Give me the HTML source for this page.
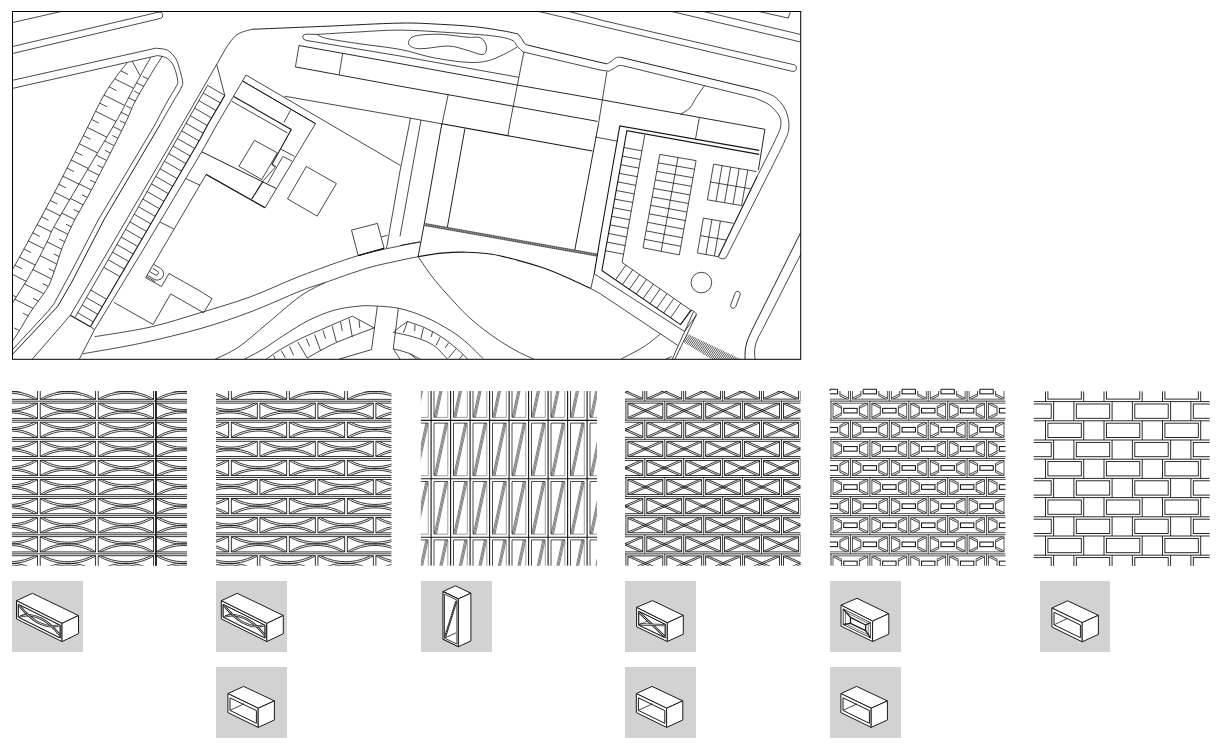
<!DOCTYPE html>
<html><head><meta charset="utf-8"><title>plan</title>
<style>html,body{margin:0;padding:0;background:#fff;}body{width:1216px;height:747px;overflow:hidden;font-family:"Liberation Sans",sans-serif;}svg{display:block;position:absolute;left:0;top:0}</style>
</head><body>
<svg width="1216" height="747" viewBox="0 0 1216 747" fill="none" stroke-linecap="butt" stroke-linejoin="miter">
<defs><clipPath id="fr"><rect x="12.5" y="11.5" width="788.2" height="347.8"/></clipPath>
<pattern id="hz" width="1.6" height="1.6" patternUnits="userSpaceOnUse" patternTransform="rotate(-60)"><rect width="1.6" height="0.8" fill="#222"/></pattern>
<pattern id="hz2" width="1.7" height="1.7" patternUnits="userSpaceOnUse" patternTransform="rotate(-55)"><rect width="1.7" height="0.7" fill="#333"/></pattern>
</defs>
<g clip-path="url(#fr)">
<line x1="12.5" y1="22.6" x2="61.0" y2="11.5" stroke-width="0.78" stroke="#151515"/>
<path d="M12.5,46.5 L159,12 A3.3,3.3 0 0 1 160.5,18.4 L12.5,53.5" stroke-width="0.78" stroke="#151515" />
<polyline points="12.5,80.3 155.6,48.2" stroke-width="0.78" stroke="#151515"/>
<path d="M155.6,48.2 C157.6,48.5 164.1,48.5 167.4,50.2 C170.8,51.9 173.6,55.2 175.7,58.6 C177.8,62.0 178.8,66.7 179.9,70.3 C181.0,73.9 182.1,77.5 182.4,80.3 C182.7,83.1 183.3,83.2 181.6,87.0 C179.9,90.8 176.0,96.7 172.4,103.0 C168.8,109.3 161.9,121.3 159.8,125.0" stroke-width="0.78" stroke="#151515"/>
<polyline points="159.8,125.0 103.8,220.0 71.9,281.9 57.8,306.3 12.5,354.3" stroke-width="0.95" stroke="#151515"/>
<polyline points="12.5,88.4 157.3,55.6" stroke-width="0.78" stroke="#151515"/>
<path d="M157.3,55.6 C158.7,55.9 163.2,56.2 165.7,57.5 C168.2,58.8 170.7,61.1 172.4,63.6 C174.1,66.2 175.1,70.0 176.0,72.8 C176.9,75.6 177.5,78.2 177.6,80.3 C177.7,82.4 178.6,81.8 176.8,85.4 C175.0,89.0 170.7,95.4 167.0,102.0 C163.3,108.6 156.8,121.2 154.8,125.0" stroke-width="0.78" stroke="#151515"/>
<polyline points="154.8,125.0 98.2,220.0 73.8,266.9 54.1,303.5 47.5,311.9 12.5,349.6" stroke-width="0.78" stroke="#151515"/>
<path d="M127.2,62.8 C125.5,64.9 121.1,69.9 117.2,75.3 C113.3,80.7 108.5,87.1 103.8,95.4 C99.0,103.7 96.5,109.6 88.7,125.0 C80.9,140.4 67.8,167.0 56.9,187.8 C46.0,208.6 30.8,236.4 23.4,250.0 C16.0,263.6 14.3,266.1 12.5,269.3" stroke-width="0.78" stroke="#151515"/>
<path d="M150.6,57.7 C148.9,60.6 144.5,68.2 140.6,75.3 C136.7,82.4 131.6,92.1 127.2,100.4 C122.8,108.7 125.6,105.1 114.0,125.0 C102.4,144.9 68.7,201.0 57.8,220.0 C46.9,239.0 52.1,231.6 48.5,238.8 C44.9,246.0 39.9,256.3 36.3,263.2 C32.7,270.1 30.0,274.7 26.9,280.0 C23.8,285.3 19.9,291.2 17.5,295.0 C15.1,298.8 13.3,301.7 12.5,303.0" stroke-width="0.78" stroke="#151515"/>
<path d="M162.3,56.1 C159.8,60.1 152.0,72.3 147.3,80.3 C142.6,88.2 137.7,96.3 133.9,103.8 C130.1,111.2 131.3,111.1 124.5,125.0 C117.7,138.9 101.3,171.2 93.0,187.0 C84.7,202.8 79.4,211.0 74.7,220.0 C70.0,229.0 67.3,235.7 65.0,241.0 C62.7,246.3 62.7,246.4 60.7,252.0 C58.7,257.6 55.6,268.2 53.2,274.4 C50.9,280.6 50.4,283.1 46.6,289.4 C42.8,295.6 35.1,305.0 30.6,311.9 C26.1,318.8 22.4,325.8 19.4,330.7 C16.4,335.6 13.7,339.3 12.5,341.0" stroke-width="0.78" stroke="#151515"/>
<line x1="132.2" y1="61.1" x2="139.8" y2="75.3" stroke-width="0.78" stroke="#151515"/>
<line x1="120.8" y1="70.8" x2="128.0" y2="74.4" stroke-width="0.78" stroke="#151515"/>
<line x1="114.8" y1="78.9" x2="133.7" y2="88.3" stroke-width="0.78" stroke="#151515"/>
<line x1="109.4" y1="87.0" x2="116.6" y2="90.6" stroke-width="0.78" stroke="#151515"/>
<line x1="104.0" y1="95.1" x2="124.6" y2="105.4" stroke-width="0.78" stroke="#151515"/>
<line x1="99.8" y1="103.2" x2="107.0" y2="106.8" stroke-width="0.78" stroke="#151515"/>
<line x1="95.7" y1="111.3" x2="116.0" y2="121.4" stroke-width="0.78" stroke="#151515"/>
<line x1="91.6" y1="119.4" x2="98.7" y2="123.0" stroke-width="0.78" stroke="#151515"/>
<line x1="87.4" y1="127.5" x2="106.8" y2="137.2" stroke-width="0.78" stroke="#151515"/>
<line x1="83.3" y1="135.6" x2="90.5" y2="139.2" stroke-width="0.78" stroke="#151515"/>
<line x1="79.2" y1="143.7" x2="97.6" y2="152.9" stroke-width="0.78" stroke="#151515"/>
<line x1="75.1" y1="151.8" x2="82.3" y2="155.4" stroke-width="0.78" stroke="#151515"/>
<line x1="71.0" y1="159.9" x2="88.3" y2="168.5" stroke-width="0.78" stroke="#151515"/>
<line x1="66.9" y1="168.0" x2="74.1" y2="171.6" stroke-width="0.78" stroke="#151515"/>
<line x1="62.8" y1="176.1" x2="79.0" y2="184.2" stroke-width="0.78" stroke="#151515"/>
<line x1="58.7" y1="184.2" x2="65.9" y2="187.8" stroke-width="0.78" stroke="#151515"/>
<line x1="54.5" y1="192.3" x2="69.8" y2="199.9" stroke-width="0.78" stroke="#151515"/>
<line x1="50.1" y1="200.4" x2="57.3" y2="204.0" stroke-width="0.78" stroke="#151515"/>
<line x1="45.8" y1="208.5" x2="60.3" y2="215.8" stroke-width="0.78" stroke="#151515"/>
<line x1="41.4" y1="216.6" x2="48.5" y2="220.2" stroke-width="0.78" stroke="#151515"/>
<line x1="37.0" y1="224.7" x2="51.9" y2="232.1" stroke-width="0.78" stroke="#151515"/>
<line x1="32.7" y1="232.8" x2="39.8" y2="236.4" stroke-width="0.78" stroke="#151515"/>
<line x1="28.3" y1="240.9" x2="43.7" y2="248.6" stroke-width="0.78" stroke="#151515"/>
<line x1="23.9" y1="249.0" x2="31.1" y2="252.6" stroke-width="0.78" stroke="#151515"/>
<line x1="19.4" y1="257.1" x2="35.3" y2="265.1" stroke-width="0.78" stroke="#151515"/>
<line x1="14.8" y1="265.2" x2="22.0" y2="268.8" stroke-width="0.78" stroke="#151515"/>
<line x1="10.3" y1="273.3" x2="26.2" y2="281.3" stroke-width="0.78" stroke="#151515"/>
<line x1="5.7" y1="281.4" x2="12.9" y2="285.0" stroke-width="0.78" stroke="#151515"/>
<line x1="1.2" y1="289.5" x2="16.3" y2="297.1" stroke-width="0.78" stroke="#151515"/>
<line x1="-3.3" y1="297.6" x2="3.8" y2="301.2" stroke-width="0.78" stroke="#151515"/>
<line x1="-12.4" y1="313.8" x2="-5.3" y2="317.4" stroke-width="0.78" stroke="#151515"/>
<line x1="-21.5" y1="330.0" x2="-14.3" y2="333.6" stroke-width="0.78" stroke="#151515"/>
<line x1="148.1" y1="79.0" x2="142.7" y2="76.3" stroke-width="0.78" stroke="#151515"/>
<line x1="143.8" y1="86.4" x2="136.6" y2="82.8" stroke-width="0.78" stroke="#151515"/>
<line x1="139.6" y1="93.8" x2="134.2" y2="91.1" stroke-width="0.78" stroke="#151515"/>
<line x1="135.4" y1="101.2" x2="128.5" y2="97.8" stroke-width="0.78" stroke="#151515"/>
<line x1="131.8" y1="108.6" x2="126.4" y2="105.9" stroke-width="0.78" stroke="#151515"/>
<line x1="128.5" y1="116.0" x2="120.8" y2="112.2" stroke-width="0.78" stroke="#151515"/>
<line x1="125.2" y1="123.4" x2="119.8" y2="120.7" stroke-width="0.78" stroke="#151515"/>
<line x1="121.6" y1="130.8" x2="113.1" y2="126.6" stroke-width="0.78" stroke="#151515"/>
<line x1="117.8" y1="138.2" x2="112.4" y2="135.5" stroke-width="0.78" stroke="#151515"/>
<line x1="114.0" y1="145.6" x2="104.6" y2="140.9" stroke-width="0.78" stroke="#151515"/>
<line x1="110.3" y1="153.0" x2="104.9" y2="150.3" stroke-width="0.78" stroke="#151515"/>
<line x1="106.5" y1="160.4" x2="96.1" y2="155.2" stroke-width="0.78" stroke="#151515"/>
<line x1="102.8" y1="167.8" x2="97.4" y2="165.1" stroke-width="0.78" stroke="#151515"/>
<line x1="99.0" y1="175.2" x2="87.6" y2="169.5" stroke-width="0.78" stroke="#151515"/>
<line x1="95.2" y1="182.6" x2="89.9" y2="179.9" stroke-width="0.78" stroke="#151515"/>
<line x1="91.3" y1="190.0" x2="79.1" y2="183.9" stroke-width="0.78" stroke="#151515"/>
<line x1="87.2" y1="197.4" x2="81.9" y2="194.7" stroke-width="0.78" stroke="#151515"/>
<line x1="83.1" y1="204.8" x2="70.4" y2="198.5" stroke-width="0.78" stroke="#151515"/>
<line x1="79.0" y1="212.2" x2="73.7" y2="209.5" stroke-width="0.78" stroke="#151515"/>
<line x1="74.9" y1="219.6" x2="61.9" y2="213.1" stroke-width="0.78" stroke="#151515"/>
<line x1="71.5" y1="227.0" x2="66.1" y2="224.3" stroke-width="0.78" stroke="#151515"/>
<line x1="68.0" y1="234.4" x2="54.1" y2="227.4" stroke-width="0.78" stroke="#151515"/>
<line x1="64.7" y1="241.8" x2="59.3" y2="239.1" stroke-width="0.78" stroke="#151515"/>
<line x1="61.8" y1="249.2" x2="47.0" y2="241.8" stroke-width="0.78" stroke="#151515"/>
<line x1="59.2" y1="256.6" x2="53.8" y2="253.9" stroke-width="0.78" stroke="#151515"/>
<line x1="56.7" y1="264.0" x2="40.1" y2="255.7" stroke-width="0.78" stroke="#151515"/>
<line x1="54.2" y1="271.4" x2="48.8" y2="268.7" stroke-width="0.78" stroke="#151515"/>
<line x1="51.3" y1="278.8" x2="32.7" y2="269.5" stroke-width="0.78" stroke="#151515"/>
<line x1="48.0" y1="286.2" x2="42.6" y2="283.5" stroke-width="0.78" stroke="#151515"/>
<line x1="43.6" y1="293.6" x2="24.4" y2="284.0" stroke-width="0.78" stroke="#151515"/>
<line x1="38.4" y1="301.0" x2="33.0" y2="298.3" stroke-width="0.78" stroke="#151515"/>
<line x1="33.1" y1="308.4" x2="14.8" y2="299.2" stroke-width="0.78" stroke="#151515"/>
<line x1="28.3" y1="315.8" x2="22.9" y2="313.1" stroke-width="0.78" stroke="#151515"/>
<line x1="19.5" y1="330.6" x2="14.1" y2="327.9" stroke-width="0.78" stroke="#151515"/>
<polyline points="216.7,64.4 181.6,125.0 108.8,250.0 70.3,315.3 32.6,358.8 30.0,362.0" stroke-width="0.78" stroke="#151515"/>
<polyline points="216.7,64.4 224.8,95.4" stroke-width="0.78" stroke="#151515"/>
<polyline points="207.5,85.4 185.0,125.0 113.8,250.0 75.3,317.0" stroke-width="0.78" stroke="#151515"/>
<polyline points="224.8,95.4 207.5,125.0 200.0,139.2 135.6,250.0 90.4,326.7" stroke-width="1.10" stroke="#151515"/>
<polyline points="70.3,315.3 90.4,326.7" stroke-width="1.10" stroke="#151515"/>
<polyline points="90.4,326.7 94.6,329.5" stroke-width="0.78" stroke="#151515"/>
<line x1="207.5" y1="85.4" x2="224.8" y2="95.4" stroke-width="0.78" stroke="#151515"/>
<line x1="203.2" y1="93.0" x2="220.4" y2="102.9" stroke-width="0.78" stroke="#151515"/>
<line x1="198.9" y1="100.6" x2="216.0" y2="110.5" stroke-width="0.78" stroke="#151515"/>
<line x1="194.6" y1="108.1" x2="211.6" y2="118.0" stroke-width="0.78" stroke="#151515"/>
<line x1="190.3" y1="115.7" x2="207.2" y2="125.5" stroke-width="0.78" stroke="#151515"/>
<line x1="186.0" y1="123.3" x2="203.2" y2="133.2" stroke-width="0.78" stroke="#151515"/>
<line x1="181.7" y1="130.9" x2="199.1" y2="140.9" stroke-width="0.78" stroke="#151515"/>
<line x1="177.3" y1="138.5" x2="194.7" y2="148.5" stroke-width="0.78" stroke="#151515"/>
<line x1="173.0" y1="146.0" x2="190.2" y2="156.0" stroke-width="0.78" stroke="#151515"/>
<line x1="168.7" y1="153.6" x2="185.9" y2="163.6" stroke-width="0.78" stroke="#151515"/>
<line x1="164.4" y1="161.2" x2="181.5" y2="171.1" stroke-width="0.78" stroke="#151515"/>
<line x1="160.1" y1="168.8" x2="177.1" y2="178.6" stroke-width="0.78" stroke="#151515"/>
<line x1="155.7" y1="176.4" x2="172.7" y2="186.2" stroke-width="0.78" stroke="#151515"/>
<line x1="151.4" y1="183.9" x2="168.4" y2="193.7" stroke-width="0.78" stroke="#151515"/>
<line x1="147.1" y1="191.5" x2="164.0" y2="201.3" stroke-width="0.78" stroke="#151515"/>
<line x1="142.8" y1="199.1" x2="159.6" y2="208.8" stroke-width="0.78" stroke="#151515"/>
<line x1="138.5" y1="206.7" x2="155.2" y2="216.3" stroke-width="0.78" stroke="#151515"/>
<line x1="134.2" y1="214.3" x2="150.9" y2="223.9" stroke-width="0.78" stroke="#151515"/>
<line x1="129.8" y1="221.8" x2="146.5" y2="231.4" stroke-width="0.78" stroke="#151515"/>
<line x1="125.5" y1="229.4" x2="142.1" y2="239.0" stroke-width="0.78" stroke="#151515"/>
<line x1="121.2" y1="237.0" x2="137.7" y2="246.5" stroke-width="0.78" stroke="#151515"/>
<line x1="116.9" y1="244.6" x2="133.3" y2="254.0" stroke-width="0.78" stroke="#151515"/>
<line x1="112.6" y1="252.2" x2="128.8" y2="261.6" stroke-width="0.78" stroke="#151515"/>
<line x1="108.2" y1="259.7" x2="124.4" y2="269.1" stroke-width="0.78" stroke="#151515"/>
<line x1="103.8" y1="267.3" x2="120.0" y2="276.6" stroke-width="0.78" stroke="#151515"/>
<line x1="90.8" y1="290.1" x2="106.6" y2="299.2" stroke-width="0.78" stroke="#151515"/>
<line x1="86.4" y1="297.6" x2="102.2" y2="306.7" stroke-width="0.78" stroke="#151515"/>
<line x1="82.1" y1="305.2" x2="97.7" y2="314.3" stroke-width="0.78" stroke="#151515"/>
<line x1="77.7" y1="312.8" x2="93.3" y2="321.8" stroke-width="0.78" stroke="#151515"/>
<polyline points="246.0,75.0 216.7,125.0 201.7,151.8 143.0,250.0 94.6,329.5 79.5,358.8 78.0,362.0" stroke-width="0.78" stroke="#151515"/>
<polyline points="246.0,75.0 400.5,165.5" stroke-width="0.78" stroke="#151515"/>
<polyline points="242.6,81.0 315.5,123.6" stroke-width="0.95" stroke="#151515"/>
<polyline points="265.0,207.8 206.2,174.4" stroke-width="1.10" stroke="#151515"/>
<polyline points="242.6,81.0 315.5,123.6 265.0,207.8 206.2,174.4 145.6,277.7 161.5,286.5 169.0,273.5 200.0,291.0 212.0,298.6 203.7,312.8 170.7,293.9 153.1,324.5 113.8,302.3" stroke-width="0.78" stroke="#151515"/>
<path d="M149.5,271.5 L155.5,275 A2.2,2.2 0 0 0 157.6,271.2 L152.8,268.4" stroke-width="0.78" stroke="#151515" />
<path d="M147.2,275.2 L154,279.2 A6.3,6.3 0 0 0 160.5,268.3 L154,264.5" stroke-width="0.78" stroke="#151515" />
<line x1="146.5" y1="276.6" x2="155.5" y2="281.8" stroke-width="0.78" stroke="#151515"/>
<polyline points="233.6,96.4 291.3,129.4 272.0,164.3 275.5,166.9" stroke-width="1.10" stroke="#151515"/>
<polyline points="231.9,101.3 287.6,133.0" stroke-width="0.78" stroke="#151515"/>
<line x1="290.6" y1="110.2" x2="283.8" y2="122.6" stroke-width="0.78" stroke="#151515"/>
<line x1="281.2" y1="149.3" x2="294.6" y2="156.4" stroke-width="0.78" stroke="#151515"/>
<polyline points="292.0,161.0 282.8,156.5 267.8,182.7" stroke-width="0.78" stroke="#151515"/>
<polyline points="275.5,166.9 263.2,180.8" stroke-width="0.78" stroke="#151515"/>
<polyline points="201.7,151.8 276.4,188.6" stroke-width="0.95" stroke="#151515"/>
<polyline points="263.1,181.1 251.6,199.2" stroke-width="1.10" stroke="#151515"/>
<line x1="185.6" y1="178.6" x2="200.0" y2="185.2" stroke-width="0.78" stroke="#151515"/>
<line x1="160.0" y1="222.0" x2="173.8" y2="229.0" stroke-width="0.78" stroke="#151515"/>
<polygon points="254.5,140.3 277.3,152.8 261.7,179.6 238.9,166.3" stroke-width="0.78" stroke="#151515"/>
<polygon points="306.3,166.5 336.4,183.6 317.2,216.1 287.5,198.9" stroke-width="0.78" stroke="#151515"/>
<polygon points="351.5,230.1 377.4,223.4 384.1,248.2 358.2,255.6" stroke-width="0.78" stroke="#151515"/>
<line x1="381.6" y1="236.8" x2="387.6" y2="235.3" stroke-width="0.78" stroke="#151515"/>
<polyline points="358.2,255.6 384.1,248.4" stroke-width="1.10" stroke="#151515"/>
<polyline points="299.0,45.5 295.4,66.9" stroke-width="0.78" stroke="#151515"/>
<polyline points="299.0,45.5 400.0,63.6 517.0,85.0 600.0,99.5 738.2,124.4 741.6,125.0 764.9,129.3 758.4,170.0" stroke-width="0.92" stroke="#151515"/>
<polyline points="295.4,66.9 400.0,86.2 513.8,106.3 597.6,121.4" stroke-width="0.92" stroke="#151515"/>
<line x1="342.6" y1="53.9" x2="339.2" y2="74.5" stroke-width="0.78" stroke="#151515"/>
<polyline points="284.5,96.2 400.0,116.3 441.8,123.8" stroke-width="0.78" stroke="#151515"/>
<path d="M216.7,64.4 C218.7,61.1 224.9,49.5 228.5,44.4 C232.1,39.3 234.1,36.5 238.0,34.0 C241.9,31.5 249.6,30.1 251.9,29.3" stroke-width="0.78" stroke="#151515"/>
<path d="M251.9,29.3 C264.1,28.8 300.3,27.3 325.0,26.3 C349.7,25.3 380.8,23.4 400.0,23.1 C419.2,22.8 427.6,23.7 440.2,24.3 C452.8,24.9 464.7,25.7 475.3,26.8 C485.9,27.9 496.7,29.8 503.8,31.0 C510.9,32.2 515.6,33.5 518.0,34.0" stroke-width="0.95" stroke="#151515"/>
<path d="M518.0,34.0 C518.6,34.8 520.4,36.9 521.5,38.5 C522.6,40.1 523.6,42.4 524.7,43.5 C525.8,44.6 527.5,44.9 528.0,45.2" stroke-width="0.95" stroke="#151515"/>
<polyline points="528.0,45.2 600.0,62.3 606.9,63.9" stroke-width="0.95" stroke="#151515"/>
<path d="M606.9,63.9 C607.6,63.5 609.4,62.5 611.0,61.5 C612.6,60.5 614.8,58.3 616.4,57.6 C618.0,56.9 620.0,57.3 620.7,57.3" stroke-width="0.78" stroke="#151515"/>
<polyline points="620.7,57.3 760.6,90.7" stroke-width="0.95" stroke="#151515"/>
<path d="M760.6,90.7 C763.0,91.8 771.0,94.1 775.0,97.0 C779.0,99.9 782.3,104.3 784.5,108.0 C786.7,111.7 787.6,115.5 788.3,119.2 C789.0,122.9 789.3,126.2 788.6,130.0 C787.9,133.8 787.5,135.0 784.3,142.0 C781.1,149.0 779.0,152.9 769.3,172.2 C759.6,191.5 733.3,243.4 726.1,257.6" stroke-width="0.78" stroke="#151515"/>
<path d="M317.0,34.4 C323.8,34.0 344.2,32.7 358.0,32.0 C371.8,31.3 384.6,30.0 400.0,30.1 C415.4,30.2 434.6,31.6 450.2,32.6 C465.8,33.6 483.4,34.7 493.7,36.0 C504.0,37.3 508.1,38.5 512.0,40.2 C515.9,41.9 515.2,44.0 517.0,46.0 C518.8,48.0 522.0,50.9 523.0,51.9" stroke-width="0.78" stroke="#151515"/>
<polyline points="523.0,51.9 600.0,70.0 608.6,71.2" stroke-width="0.78" stroke="#151515"/>
<path d="M608.6,71.2 C609.3,70.8 611.4,69.9 613.0,69.0 C614.6,68.1 616.5,66.4 618.1,65.8 C619.7,65.2 621.8,65.6 622.5,65.6" stroke-width="0.78" stroke="#151515"/>
<polyline points="622.5,65.6 755.4,98.1" stroke-width="0.78" stroke="#151515"/>
<path d="M755.4,98.1 C757.5,99.1 764.5,101.7 768.0,104.0 C771.5,106.3 774.4,109.5 776.5,112.0 C778.6,114.5 779.9,116.5 780.5,119.2 C781.1,121.9 781.3,124.2 780.3,128.0 C779.3,131.8 778.1,133.9 774.3,142.0 C770.4,150.1 760.1,170.6 757.2,176.3" stroke-width="0.78" stroke="#151515"/>
<polyline points="757.2,176.3 718.3,256.8" stroke-width="1.10" stroke="#151515"/>
<path d="M718.3,256.8 Q722,260.5 726.1,257.6" stroke-width="0.78" stroke="#151515" />
<path d="M317,34.4 L306.5,34.2 Q302.6,34.4 302.8,37.3 Q303,39.8 306.2,40.4 L400,56 L518.8,77.3" stroke-width="0.78" stroke="#151515" />
<path d="M317.0,34.4 C318.7,35.1 319.8,36.9 327.0,38.5 C334.2,40.1 347.8,42.0 360.0,43.8 C372.2,45.6 387.8,47.1 400.0,49.4 C412.2,51.7 422.3,55.6 433.5,57.7 C444.7,59.9 458.1,61.8 467.0,62.3 C475.9,62.8 480.9,62.3 487.0,61.0 C493.1,59.7 498.8,56.7 503.8,54.4 C508.8,52.1 514.8,48.4 517.0,47.2" stroke-width="0.78" stroke="#151515"/>
<path d="M408.4,42.7 C408.7,40.8 409.7,37.4 415.0,36.0 C420.3,34.6 431.3,34.1 440.0,34.3 C448.7,34.5 460.3,36.6 467.0,37.2 C473.7,37.8 477.1,36.4 480.3,37.7 C483.5,39.0 485.4,42.7 486.2,45.2 C487.0,47.7 486.4,51.2 485.4,52.7 C484.4,54.2 483.4,54.8 480.3,54.4 C477.2,54.0 472.3,51.6 467.0,50.2 C461.7,48.8 455.5,46.3 448.5,46.0 C441.5,45.7 430.9,48.2 425.0,48.5 C419.1,48.8 416.2,48.7 413.4,47.7 C410.6,46.7 408.1,44.7 408.4,42.7Z" stroke-width="0.78" stroke="#151515"/>
<polyline points="523.8,52.2 509.6,125.0 508.0,135.4" stroke-width="0.78" stroke="#151515"/>
<polyline points="448.2,94.6 441.8,125.0" stroke-width="0.78" stroke="#151515"/>
<polyline points="606.9,71.7 598.3,125.0" stroke-width="0.78" stroke="#151515"/>
<path d="M704.5,85.8 C703.2,87.6 699.2,93.0 696.7,96.7 C694.2,100.4 692.5,105.1 689.8,108.0 C687.1,110.9 681.9,113.2 680.3,114.3" stroke-width="0.78" stroke="#151515"/>
<polyline points="699.3,118.3 695.5,138.8" stroke-width="0.78" stroke="#151515"/>
<line x1="538.9" y1="11.5" x2="600.0" y2="25.9" stroke-width="0.78" stroke="#151515"/>
<line x1="569.0" y1="11.5" x2="600.0" y2="19.7" stroke-width="0.78" stroke="#151515"/>
<path d="M600,19.9 L794.3,64.8 A3.3,3.3 0 0 1 791.7,71.2 L600,25.9" stroke-width="0.78" stroke="#151515" />
<line x1="703.6" y1="11.5" x2="800.7" y2="34.5" stroke-width="0.78" stroke="#151515"/>
<line x1="671.7" y1="11.5" x2="800.7" y2="42.0" stroke-width="0.78" stroke="#151515"/>
<polyline points="758.9,11.5 788.3,18.1 790.5,11.5" stroke-width="0.78" stroke="#151515"/>
<polyline points="410.4,118.1 409.2,125.0 400.0,171.0 386.6,248.0" stroke-width="0.78" stroke="#151515"/>
<polyline points="421.0,120.0 420.1,125.0 400.0,236.3" stroke-width="0.78" stroke="#151515"/>
<polyline points="441.8,123.8 424.3,223.7 418.1,256.7" stroke-width="0.95" stroke="#151515"/>
<polyline points="441.8,123.8 592.4,151.0" stroke-width="1.10" stroke="#151515"/>
<polyline points="464.9,128.7 447.4,227.1" stroke-width="0.95" stroke="#151515"/>
<polyline points="598.3,125.0 574.6,251.0" stroke-width="0.95" stroke="#151515"/>
<line x1="424.1" y1="224.4" x2="597.1" y2="255.1" stroke="#9c9c9c" stroke-width="2.2"/>
<line x1="424.1" y1="224.4" x2="597.1" y2="255.1" stroke="#555" stroke-width="2.2" stroke-dasharray="0.9 1.3"/>
<polyline points="424.3,223.3 597.3,254.0" stroke-width="0.50" stroke="#151515"/>
<polyline points="423.9,225.5 596.9,256.2" stroke-width="0.50" stroke="#151515"/>
<polyline points="400.0,245.5 420.1,241.8" stroke-width="0.78" stroke="#151515"/>
<polyline points="595.2,137.0 617.3,141.2" stroke-width="0.78" stroke="#151515"/>
<polyline points="594.2,273.8 600.0,239.0 619.8,126.0 759.2,150.4" stroke-width="1.10" stroke="#151515"/>
<polyline points="684.6,331.5 594.2,273.8" stroke-width="0.78" stroke="#151515"/>
<polyline points="594.2,273.8 590.8,288.5" stroke-width="0.78" stroke="#151515"/>
<polyline points="691.5,310.0 680.5,324.6 601.9,270.5 626.9,130.7 759.2,154.4" stroke-width="1.10" stroke="#151515"/>
<path d="M684.6,331.5 L696,315.5 Q697,313.5 695,312.3 L691.5,310" stroke-width="0.78" stroke="#151515" />
<polyline points="644.8,134.6 622.1,262.5" stroke-width="0.78" stroke="#151515"/>
<line x1="623.9" y1="147.5" x2="642.0" y2="150.9" stroke-width="0.78" stroke="#151515"/>
<line x1="622.4" y1="156.1" x2="640.5" y2="159.5" stroke-width="0.78" stroke="#151515"/>
<line x1="620.8" y1="164.7" x2="638.9" y2="168.1" stroke-width="0.78" stroke="#151515"/>
<line x1="619.3" y1="173.3" x2="637.4" y2="176.7" stroke-width="0.78" stroke="#151515"/>
<line x1="617.7" y1="181.9" x2="635.8" y2="185.3" stroke-width="0.78" stroke="#151515"/>
<line x1="616.2" y1="190.5" x2="634.3" y2="193.9" stroke-width="0.78" stroke="#151515"/>
<line x1="614.7" y1="199.1" x2="632.8" y2="202.5" stroke-width="0.78" stroke="#151515"/>
<line x1="613.1" y1="207.7" x2="631.2" y2="211.1" stroke-width="0.78" stroke="#151515"/>
<line x1="611.6" y1="216.3" x2="629.7" y2="219.7" stroke-width="0.78" stroke="#151515"/>
<line x1="610.1" y1="224.9" x2="628.3" y2="228.4" stroke-width="0.78" stroke="#151515"/>
<line x1="608.5" y1="233.5" x2="626.7" y2="237.0" stroke-width="0.78" stroke="#151515"/>
<line x1="607.0" y1="242.1" x2="625.2" y2="245.6" stroke-width="0.78" stroke="#151515"/>
<line x1="605.4" y1="250.7" x2="623.6" y2="254.2" stroke-width="0.78" stroke="#151515"/>
<polyline points="622.1,262.5 690.7,310.0" stroke-width="0.78" stroke="#151515"/>
<line x1="625.9" y1="265.1" x2="615.7" y2="279.7" stroke-width="0.78" stroke="#151515"/>
<line x1="632.7" y1="269.9" x2="622.5" y2="284.5" stroke-width="0.78" stroke="#151515"/>
<line x1="639.6" y1="274.6" x2="629.4" y2="289.2" stroke-width="0.78" stroke="#151515"/>
<line x1="646.5" y1="279.4" x2="636.3" y2="294.0" stroke-width="0.78" stroke="#151515"/>
<line x1="653.3" y1="284.1" x2="643.1" y2="298.7" stroke-width="0.78" stroke="#151515"/>
<line x1="660.2" y1="288.9" x2="650.0" y2="303.5" stroke-width="0.78" stroke="#151515"/>
<line x1="667.0" y1="293.6" x2="656.8" y2="308.2" stroke-width="0.78" stroke="#151515"/>
<line x1="673.9" y1="298.4" x2="663.7" y2="313.0" stroke-width="0.78" stroke="#151515"/>
<line x1="680.8" y1="303.1" x2="670.6" y2="317.7" stroke-width="0.78" stroke="#151515"/>
<line x1="690.7" y1="310.0" x2="680.5" y2="324.6" stroke-width="0.78" stroke="#151515"/>
<line x1="659.8" y1="154.4" x2="696.1" y2="160.6" stroke-width="0.78" stroke="#151515"/>
<line x1="658.3" y1="162.9" x2="694.6" y2="169.2" stroke-width="0.78" stroke="#151515"/>
<line x1="656.7" y1="171.4" x2="693.0" y2="177.7" stroke-width="0.78" stroke="#151515"/>
<line x1="655.2" y1="179.9" x2="691.5" y2="186.3" stroke-width="0.78" stroke="#151515"/>
<line x1="653.7" y1="188.4" x2="690.0" y2="194.9" stroke-width="0.78" stroke="#151515"/>
<line x1="652.2" y1="196.9" x2="688.5" y2="203.5" stroke-width="0.78" stroke="#151515"/>
<line x1="650.6" y1="205.3" x2="686.9" y2="212.0" stroke-width="0.78" stroke="#151515"/>
<line x1="649.1" y1="213.8" x2="685.4" y2="220.6" stroke-width="0.78" stroke="#151515"/>
<line x1="647.6" y1="222.3" x2="683.9" y2="229.2" stroke-width="0.78" stroke="#151515"/>
<line x1="646.1" y1="230.8" x2="682.4" y2="237.8" stroke-width="0.78" stroke="#151515"/>
<line x1="644.5" y1="239.3" x2="680.8" y2="246.3" stroke-width="0.78" stroke="#151515"/>
<line x1="643.0" y1="247.8" x2="679.3" y2="254.9" stroke-width="0.78" stroke="#151515"/>
<line x1="659.8" y1="154.4" x2="643.0" y2="247.8" stroke-width="0.78" stroke="#151515"/>
<line x1="678.0" y1="157.5" x2="661.1" y2="251.4" stroke-width="0.78" stroke="#151515"/>
<line x1="696.1" y1="160.6" x2="679.3" y2="254.9" stroke-width="0.78" stroke="#151515"/>
<line x1="713.6" y1="164.2" x2="747.8" y2="170.0" stroke-width="0.78" stroke="#151515"/>
<line x1="710.5" y1="182.0" x2="744.7" y2="187.8" stroke-width="0.78" stroke="#151515"/>
<line x1="707.4" y1="199.8" x2="741.6" y2="205.6" stroke-width="0.78" stroke="#151515"/>
<line x1="713.6" y1="164.2" x2="707.4" y2="199.8" stroke-width="0.78" stroke="#151515"/>
<line x1="722.1" y1="165.6" x2="716.0" y2="201.2" stroke-width="0.78" stroke="#151515"/>
<line x1="730.7" y1="167.1" x2="724.5" y2="202.7" stroke-width="0.78" stroke="#151515"/>
<line x1="739.2" y1="168.6" x2="733.0" y2="204.2" stroke-width="0.78" stroke="#151515"/>
<line x1="747.8" y1="170.0" x2="741.6" y2="205.6" stroke-width="0.78" stroke="#151515"/>
<polyline points="747.8,170.0 756.5,171.6" stroke-width="0.78" stroke="#151515"/>
<polyline points="744.7,187.8 750.5,188.8" stroke-width="0.78" stroke="#151515"/>
<line x1="703.4" y1="218.1" x2="720.4" y2="221.0" stroke-width="0.78" stroke="#151515"/>
<line x1="700.4" y1="235.6" x2="717.4" y2="238.5" stroke-width="0.78" stroke="#151515"/>
<line x1="697.4" y1="253.0" x2="714.4" y2="256.0" stroke-width="0.78" stroke="#151515"/>
<line x1="703.4" y1="218.1" x2="697.4" y2="253.0" stroke-width="0.78" stroke="#151515"/>
<line x1="711.9" y1="219.6" x2="705.9" y2="254.5" stroke-width="0.78" stroke="#151515"/>
<line x1="720.4" y1="221.0" x2="714.4" y2="256.0" stroke-width="0.78" stroke="#151515"/>
<polyline points="720.4,221.0 733.5,223.3" stroke-width="0.78" stroke="#151515"/>
<polyline points="717.4,238.5 726.5,240.1" stroke-width="0.78" stroke="#151515"/>
<polyline points="714.4,256.0 718.3,256.8" stroke-width="0.78" stroke="#151515"/>
<circle cx="701.4" cy="282.6" r="10.3" stroke-width="0.78" stroke="#151515"/>
<path d="M740.2,294.9 A2.7,2.7 0 0 0 735.2,292.9 L730.7,304.7 A2.7,2.7 0 0 0 735.7,306.7 Z" stroke-width="0.78" stroke="#151515" />
<polyline points="800.7,232.5 753.0,328.0" stroke-width="0.95" stroke="#151515"/>
<path d="M753.0,328.0 C752.3,329.6 749.8,334.6 748.6,337.5 C747.4,340.4 746.6,342.9 746.0,345.5 C745.4,348.1 745.2,350.2 745.1,353.0 C745.0,355.8 745.1,360.5 745.1,362.0" stroke-width="0.95" stroke="#151515"/>
<polyline points="804.0,248.0 762.5,329.5" stroke-width="0.78" stroke="#151515"/>
<path d="M762.5,329.5 C761.7,331.1 758.8,336.2 757.6,339.0 C756.4,341.8 755.7,343.7 755.2,346.0 C754.7,348.3 754.6,350.3 754.6,353.0 C754.6,355.7 755.3,360.5 755.4,362.0" stroke-width="0.78" stroke="#151515"/>
<polyline points="696.3,315.0 674.5,360.0" stroke-width="0.78" stroke="#151515"/>
<polyline points="693.3,312.2 671.8,360.0" stroke-width="0.78" stroke="#151515"/>
<polygon points="688.1,334.1 742.5,360 713,360 682.9,341.9" fill="url(#hz2)" stroke="none"/>
<path d="M660.4,334.1 C657.5,336.3 649.8,342.9 643.2,347.1 C636.6,351.3 624.5,357.2 620.7,359.2" stroke-width="0.78" stroke="#151515"/>
<line x1="665.6" y1="359.2" x2="671.7" y2="356.6" stroke-width="0.78" stroke="#151515"/>
<path d="M94.6,336.7 C103.9,335.1 133.0,331.0 150.6,327.0 C168.2,323.0 183.4,317.8 200.0,312.8 C216.6,307.8 233.5,303.0 250.2,296.9 C266.9,290.8 282.4,282.9 300.4,276.0 C318.4,269.1 341.6,260.6 358.2,255.6 C374.8,250.6 389.7,248.2 400.0,245.9 C410.3,243.6 416.8,242.7 420.1,242.0" stroke-width="0.78" stroke="#151515"/>
<path d="M82.8,353.8 C92.7,352.0 122.8,347.1 142.3,342.9 C161.8,338.7 182.0,333.8 200.0,328.7 C218.0,323.6 233.5,318.3 250.2,312.0 C266.9,305.7 288.0,295.9 300.4,291.0 C312.8,286.1 313.5,286.5 324.7,282.7 C335.9,278.9 354.8,271.8 367.4,268.1 C379.9,264.4 391.6,262.3 400.0,260.4 C408.4,258.5 415.1,257.3 418.1,256.7" stroke-width="0.78" stroke="#151515"/>
<path d="M324.7,282.7 C320.6,284.9 310.0,289.3 300.4,296.1 C290.8,302.9 277.3,315.2 267.0,323.7 C256.7,332.2 247.2,341.2 238.5,347.1 C229.8,353.0 219.0,357.2 215.1,359.2" stroke-width="0.78" stroke="#151515"/>
<path d="M244.4,359.2 C247.6,357.5 257.1,352.8 263.6,348.8 C270.2,344.8 276.2,340.1 283.7,335.4 C291.2,330.6 300.4,324.5 308.8,320.3 C317.2,316.1 325.5,312.7 333.9,310.3 C342.3,307.9 351.8,306.8 359.0,306.1 C366.2,305.4 370.6,305.7 377.4,306.1 C384.2,306.5 392.1,306.8 400.0,308.6 C407.9,310.4 416.7,313.4 425.1,317.0 C433.5,320.6 443.2,326.1 450.2,330.4 C457.2,334.7 461.3,338.1 466.9,342.9 C472.5,347.7 480.9,356.5 483.7,359.2" stroke-width="0.78" stroke="#151515"/>
<path d="M418.1,256.7 C422.1,256.1 433.7,253.8 441.8,253.1 C449.9,252.3 458.5,252.0 466.9,252.2 C475.3,252.4 483.6,252.9 492.0,254.2 C500.4,255.5 508.8,257.9 517.2,260.1 C525.6,262.3 533.9,264.7 542.3,267.6 C550.7,270.5 559.3,274.2 567.4,277.7 C575.5,281.2 586.9,286.7 590.8,288.5" stroke-width="1.10" stroke="#151515"/>
<polyline points="590.8,288.5 600.0,293.6 677.7,345.4" stroke-width="0.78" stroke="#151515"/>
<path d="M418.1,256.7 C420.7,260.3 428.1,271.7 433.5,278.5 C438.9,285.3 444.6,291.6 450.2,297.7 C455.8,303.8 461.3,310.0 466.9,315.3 C472.5,320.6 478.1,325.2 483.7,329.5 C489.3,333.8 494.8,337.7 500.4,341.3 C506.0,344.9 511.6,348.3 517.2,351.3 C522.8,354.3 531.1,357.9 533.9,359.2" stroke-width="0.78" stroke="#151515"/>
<path d="M266.1,359.2 C268.5,357.6 274.6,353.0 280.3,349.6 C286.0,346.2 292.6,342.5 300.4,338.7 C308.2,334.9 318.5,330.8 327.2,327.0 C335.9,323.2 348.1,318.0 352.3,316.2" stroke-width="0.78" stroke="#151515"/>
<polyline points="352.3,316.2 374.1,327.9" stroke-width="0.78" stroke="#151515"/>
<path d="M307.1,358.0 C311.9,355.5 324.4,347.9 335.6,342.9 C346.8,337.9 367.7,330.4 374.1,327.9" stroke-width="0.78" stroke="#151515"/>
<polyline points="377.4,306.1 371.5,349.6 338.9,359.2" stroke-width="0.78" stroke="#151515"/>
<line x1="273.6" y1="355.5" x2="275.3" y2="359.2" stroke-width="0.78" stroke="#151515"/>
<line x1="281.2" y1="350.5" x2="285.4" y2="358.0" stroke-width="0.78" stroke="#151515"/>
<line x1="289.5" y1="346.3" x2="293.7" y2="355.5" stroke-width="0.78" stroke="#151515"/>
<line x1="297.9" y1="342.1" x2="307.1" y2="358.0" stroke-width="0.78" stroke="#151515"/>
<line x1="306.3" y1="338.7" x2="309.6" y2="346.3" stroke-width="0.78" stroke="#151515"/>
<line x1="314.6" y1="334.6" x2="320.5" y2="350.5" stroke-width="0.78" stroke="#151515"/>
<line x1="323.0" y1="330.4" x2="325.5" y2="338.7" stroke-width="0.78" stroke="#151515"/>
<line x1="332.2" y1="326.2" x2="336.4" y2="342.1" stroke-width="0.78" stroke="#151515"/>
<line x1="340.6" y1="322.0" x2="342.3" y2="331.2" stroke-width="0.78" stroke="#151515"/>
<line x1="349.0" y1="318.7" x2="352.3" y2="337.1" stroke-width="0.78" stroke="#151515"/>
<line x1="359.0" y1="320.3" x2="359.8" y2="327.9" stroke-width="0.78" stroke="#151515"/>
<polyline points="398.3,308.6 393.3,348.8 400.0,359.2" stroke-width="0.78" stroke="#151515"/>
<path d="M393.5,332.0 C394.6,331.2 397.7,328.8 400.0,327.0 C402.3,325.2 406.2,322.4 407.5,321.5" stroke-width="0.78" stroke="#151515"/>
<path d="M407.5,321.5 C410.4,322.6 419.4,325.3 425.1,327.9 C430.8,330.5 436.5,333.6 441.8,337.1 C447.1,340.6 452.6,345.1 456.9,348.8 C461.2,352.5 466.0,357.5 467.8,359.2" stroke-width="0.78" stroke="#151515"/>
<path d="M393.3,332.5 C394.4,332.7 396.1,332.8 400.0,333.7 C403.9,334.6 411.1,335.9 416.7,337.9 C422.3,339.8 428.3,341.8 433.5,345.4 C438.7,348.9 445.3,356.9 447.7,359.2" stroke-width="0.78" stroke="#151515"/>
<line x1="407.5" y1="321.5" x2="403.3" y2="332.9" stroke-width="0.78" stroke="#151515"/>
<line x1="415.0" y1="324.5" x2="414.7" y2="331.2" stroke-width="0.78" stroke="#151515"/>
<line x1="423.4" y1="327.9" x2="420.9" y2="338.7" stroke-width="0.78" stroke="#151515"/>
<line x1="432.6" y1="332.0" x2="431.0" y2="337.1" stroke-width="0.78" stroke="#151515"/>
<line x1="440.2" y1="337.1" x2="436.0" y2="345.4" stroke-width="0.78" stroke="#151515"/>
<line x1="448.5" y1="342.9" x2="445.2" y2="347.9" stroke-width="0.78" stroke="#151515"/>
<line x1="456.1" y1="348.8" x2="448.5" y2="358.0" stroke-width="0.78" stroke="#151515"/>
<line x1="462.8" y1="354.6" x2="459.4" y2="359.2" stroke-width="0.78" stroke="#151515"/>
<path d="M393.3,348.8 C394.4,349.1 397.2,349.7 400.0,350.5 C402.8,351.3 406.6,352.4 410.0,353.8 C413.4,355.2 418.4,358.3 420.1,359.2" stroke-width="0.78" stroke="#151515"/>
<line x1="410.0" y1="353.8" x2="416.7" y2="359.2" stroke-width="0.78" stroke="#151515"/>
</g>
<rect x="12.5" y="11.5" width="788.2" height="347.8" stroke="#000" stroke-width="1"/>
<clipPath id="c1"><rect x="12.00" y="391.00" width="175.00" height="174.80"/></clipPath>
<g clip-path="url(#c1)">
<path d="M12.00,382.12 H187.00" stroke="#141414" stroke-width="0.85"/>
<rect x="-17.80" y="384.02" width="55.40" height="15.28" stroke="#141414" stroke-width="0.85"/>
<clipPath id="c2"><rect x="-17.80" y="384.02" width="55.40" height="15.28"/></clipPath>
<g clip-path="url(#c2)">
<path d="M-18.10,384.02 C-1.18,394.41 20.98,394.41 37.90,384.02" stroke="#141414" stroke-width="0.85"/>
<path d="M-18.10,382.17 C-1.18,392.56 20.98,392.56 37.90,382.17" stroke="#141414" stroke-width="0.85"/>
<path d="M-18.10,399.30 C-1.18,388.91 20.98,388.91 37.90,399.30" stroke="#141414" stroke-width="0.85"/>
<path d="M-18.10,401.15 C-1.18,390.76 20.98,390.76 37.90,401.15" stroke="#141414" stroke-width="0.85"/>
</g>
<rect x="40.20" y="384.02" width="55.40" height="15.28" stroke="#141414" stroke-width="0.85"/>
<clipPath id="c3"><rect x="40.20" y="384.02" width="55.40" height="15.28"/></clipPath>
<g clip-path="url(#c3)">
<path d="M39.90,384.02 C56.82,394.41 78.98,394.41 95.90,384.02" stroke="#141414" stroke-width="0.85"/>
<path d="M39.90,382.17 C56.82,392.56 78.98,392.56 95.90,382.17" stroke="#141414" stroke-width="0.85"/>
<path d="M39.90,399.30 C56.82,388.91 78.98,388.91 95.90,399.30" stroke="#141414" stroke-width="0.85"/>
<path d="M39.90,401.15 C56.82,390.76 78.98,390.76 95.90,401.15" stroke="#141414" stroke-width="0.85"/>
</g>
<rect x="98.20" y="384.02" width="55.40" height="15.28" stroke="#141414" stroke-width="0.85"/>
<clipPath id="c4"><rect x="98.20" y="384.02" width="55.40" height="15.28"/></clipPath>
<g clip-path="url(#c4)">
<path d="M97.90,384.02 C114.82,394.41 136.98,394.41 153.90,384.02" stroke="#141414" stroke-width="0.85"/>
<path d="M97.90,382.17 C114.82,392.56 136.98,392.56 153.90,382.17" stroke="#141414" stroke-width="0.85"/>
<path d="M97.90,399.30 C114.82,388.91 136.98,388.91 153.90,399.30" stroke="#141414" stroke-width="0.85"/>
<path d="M97.90,401.15 C114.82,390.76 136.98,390.76 153.90,401.15" stroke="#141414" stroke-width="0.85"/>
</g>
<rect x="156.20" y="384.02" width="55.40" height="15.28" stroke="#141414" stroke-width="0.85"/>
<clipPath id="c5"><rect x="156.20" y="384.02" width="55.40" height="15.28"/></clipPath>
<g clip-path="url(#c5)">
<path d="M155.90,384.02 C172.82,394.41 194.98,394.41 211.90,384.02" stroke="#141414" stroke-width="0.85"/>
<path d="M155.90,382.17 C172.82,392.56 194.98,392.56 211.90,382.17" stroke="#141414" stroke-width="0.85"/>
<path d="M155.90,399.30 C172.82,388.91 194.98,388.91 211.90,399.30" stroke="#141414" stroke-width="0.85"/>
<path d="M155.90,401.15 C172.82,390.76 194.98,390.76 211.90,401.15" stroke="#141414" stroke-width="0.85"/>
</g>
<path d="M12.00,401.20 H187.00" stroke="#141414" stroke-width="0.85"/>
<rect x="-17.80" y="403.10" width="55.40" height="15.28" stroke="#141414" stroke-width="0.85"/>
<clipPath id="c6"><rect x="-17.80" y="403.10" width="55.40" height="15.28"/></clipPath>
<g clip-path="url(#c6)">
<path d="M-18.10,403.10 C-1.18,414.15 20.98,414.15 37.90,403.10" stroke="#141414" stroke-width="0.85"/>
<path d="M-18.10,401.25 C-1.18,412.30 20.98,412.30 37.90,401.25" stroke="#141414" stroke-width="0.85"/>
<path d="M-18.10,418.38 C-1.18,408.53 20.98,408.53 37.90,418.38" stroke="#141414" stroke-width="0.85"/>
<path d="M-18.10,420.23 C-1.18,410.38 20.98,410.38 37.90,420.23" stroke="#141414" stroke-width="0.85"/>
</g>
<rect x="40.20" y="403.10" width="55.40" height="15.28" stroke="#141414" stroke-width="0.85"/>
<clipPath id="c7"><rect x="40.20" y="403.10" width="55.40" height="15.28"/></clipPath>
<g clip-path="url(#c7)">
<path d="M39.90,403.10 C56.82,414.15 78.98,414.15 95.90,403.10" stroke="#141414" stroke-width="0.85"/>
<path d="M39.90,401.25 C56.82,412.30 78.98,412.30 95.90,401.25" stroke="#141414" stroke-width="0.85"/>
<path d="M39.90,418.38 C56.82,408.53 78.98,408.53 95.90,418.38" stroke="#141414" stroke-width="0.85"/>
<path d="M39.90,420.23 C56.82,410.38 78.98,410.38 95.90,420.23" stroke="#141414" stroke-width="0.85"/>
</g>
<rect x="98.20" y="403.10" width="55.40" height="15.28" stroke="#141414" stroke-width="0.85"/>
<clipPath id="c8"><rect x="98.20" y="403.10" width="55.40" height="15.28"/></clipPath>
<g clip-path="url(#c8)">
<path d="M97.90,403.10 C114.82,414.15 136.98,414.15 153.90,403.10" stroke="#141414" stroke-width="0.85"/>
<path d="M97.90,401.25 C114.82,412.30 136.98,412.30 153.90,401.25" stroke="#141414" stroke-width="0.85"/>
<path d="M97.90,418.38 C114.82,408.53 136.98,408.53 153.90,418.38" stroke="#141414" stroke-width="0.85"/>
<path d="M97.90,420.23 C114.82,410.38 136.98,410.38 153.90,420.23" stroke="#141414" stroke-width="0.85"/>
</g>
<rect x="156.20" y="403.10" width="55.40" height="15.28" stroke="#141414" stroke-width="0.85"/>
<clipPath id="c9"><rect x="156.20" y="403.10" width="55.40" height="15.28"/></clipPath>
<g clip-path="url(#c9)">
<path d="M155.90,403.10 C172.82,414.15 194.98,414.15 211.90,403.10" stroke="#141414" stroke-width="0.85"/>
<path d="M155.90,401.25 C172.82,412.30 194.98,412.30 211.90,401.25" stroke="#141414" stroke-width="0.85"/>
<path d="M155.90,418.38 C172.82,408.53 194.98,408.53 211.90,418.38" stroke="#141414" stroke-width="0.85"/>
<path d="M155.90,420.23 C172.82,410.38 194.98,410.38 211.90,420.23" stroke="#141414" stroke-width="0.85"/>
</g>
<path d="M12.00,420.28 H187.00" stroke="#141414" stroke-width="0.85"/>
<rect x="-17.80" y="422.18" width="55.40" height="15.28" stroke="#141414" stroke-width="0.85"/>
<clipPath id="c10"><rect x="-17.80" y="422.18" width="55.40" height="15.28"/></clipPath>
<g clip-path="url(#c10)">
<path d="M-18.10,422.18 C-1.18,432.03 20.98,432.03 37.90,422.18" stroke="#141414" stroke-width="0.85"/>
<path d="M-18.10,420.33 C-1.18,430.18 20.98,430.18 37.90,420.33" stroke="#141414" stroke-width="0.85"/>
<path d="M-18.10,437.46 C-1.18,426.41 20.98,426.41 37.90,437.46" stroke="#141414" stroke-width="0.85"/>
<path d="M-18.10,439.31 C-1.18,428.26 20.98,428.26 37.90,439.31" stroke="#141414" stroke-width="0.85"/>
</g>
<rect x="40.20" y="422.18" width="55.40" height="15.28" stroke="#141414" stroke-width="0.85"/>
<clipPath id="c11"><rect x="40.20" y="422.18" width="55.40" height="15.28"/></clipPath>
<g clip-path="url(#c11)">
<path d="M39.90,422.18 C56.82,432.03 78.98,432.03 95.90,422.18" stroke="#141414" stroke-width="0.85"/>
<path d="M39.90,420.33 C56.82,430.18 78.98,430.18 95.90,420.33" stroke="#141414" stroke-width="0.85"/>
<path d="M39.90,437.46 C56.82,426.41 78.98,426.41 95.90,437.46" stroke="#141414" stroke-width="0.85"/>
<path d="M39.90,439.31 C56.82,428.26 78.98,428.26 95.90,439.31" stroke="#141414" stroke-width="0.85"/>
</g>
<rect x="98.20" y="422.18" width="55.40" height="15.28" stroke="#141414" stroke-width="0.85"/>
<clipPath id="c12"><rect x="98.20" y="422.18" width="55.40" height="15.28"/></clipPath>
<g clip-path="url(#c12)">
<path d="M97.90,422.18 C114.82,432.03 136.98,432.03 153.90,422.18" stroke="#141414" stroke-width="0.85"/>
<path d="M97.90,420.33 C114.82,430.18 136.98,430.18 153.90,420.33" stroke="#141414" stroke-width="0.85"/>
<path d="M97.90,437.46 C114.82,426.41 136.98,426.41 153.90,437.46" stroke="#141414" stroke-width="0.85"/>
<path d="M97.90,439.31 C114.82,428.26 136.98,428.26 153.90,439.31" stroke="#141414" stroke-width="0.85"/>
</g>
<rect x="156.20" y="422.18" width="55.40" height="15.28" stroke="#141414" stroke-width="0.85"/>
<clipPath id="c13"><rect x="156.20" y="422.18" width="55.40" height="15.28"/></clipPath>
<g clip-path="url(#c13)">
<path d="M155.90,422.18 C172.82,432.03 194.98,432.03 211.90,422.18" stroke="#141414" stroke-width="0.85"/>
<path d="M155.90,420.33 C172.82,430.18 194.98,430.18 211.90,420.33" stroke="#141414" stroke-width="0.85"/>
<path d="M155.90,437.46 C172.82,426.41 194.98,426.41 211.90,437.46" stroke="#141414" stroke-width="0.85"/>
<path d="M155.90,439.31 C172.82,428.26 194.98,428.26 211.90,439.31" stroke="#141414" stroke-width="0.85"/>
</g>
<path d="M12.00,439.36 H187.00" stroke="#141414" stroke-width="0.85"/>
<rect x="-17.80" y="441.26" width="55.40" height="15.28" stroke="#141414" stroke-width="0.85"/>
<clipPath id="c14"><rect x="-17.80" y="441.26" width="55.40" height="15.28"/></clipPath>
<g clip-path="url(#c14)">
<path d="M-18.10,441.26 C-1.18,451.65 20.98,451.65 37.90,441.26" stroke="#141414" stroke-width="0.85"/>
<path d="M-18.10,439.41 C-1.18,449.80 20.98,449.80 37.90,439.41" stroke="#141414" stroke-width="0.85"/>
<path d="M-18.10,456.54 C-1.18,446.15 20.98,446.15 37.90,456.54" stroke="#141414" stroke-width="0.85"/>
<path d="M-18.10,458.39 C-1.18,448.00 20.98,448.00 37.90,458.39" stroke="#141414" stroke-width="0.85"/>
</g>
<rect x="40.20" y="441.26" width="55.40" height="15.28" stroke="#141414" stroke-width="0.85"/>
<clipPath id="c15"><rect x="40.20" y="441.26" width="55.40" height="15.28"/></clipPath>
<g clip-path="url(#c15)">
<path d="M39.90,441.26 C56.82,451.65 78.98,451.65 95.90,441.26" stroke="#141414" stroke-width="0.85"/>
<path d="M39.90,439.41 C56.82,449.80 78.98,449.80 95.90,439.41" stroke="#141414" stroke-width="0.85"/>
<path d="M39.90,456.54 C56.82,446.15 78.98,446.15 95.90,456.54" stroke="#141414" stroke-width="0.85"/>
<path d="M39.90,458.39 C56.82,448.00 78.98,448.00 95.90,458.39" stroke="#141414" stroke-width="0.85"/>
</g>
<rect x="98.20" y="441.26" width="55.40" height="15.28" stroke="#141414" stroke-width="0.85"/>
<clipPath id="c16"><rect x="98.20" y="441.26" width="55.40" height="15.28"/></clipPath>
<g clip-path="url(#c16)">
<path d="M97.90,441.26 C114.82,451.65 136.98,451.65 153.90,441.26" stroke="#141414" stroke-width="0.85"/>
<path d="M97.90,439.41 C114.82,449.80 136.98,449.80 153.90,439.41" stroke="#141414" stroke-width="0.85"/>
<path d="M97.90,456.54 C114.82,446.15 136.98,446.15 153.90,456.54" stroke="#141414" stroke-width="0.85"/>
<path d="M97.90,458.39 C114.82,448.00 136.98,448.00 153.90,458.39" stroke="#141414" stroke-width="0.85"/>
</g>
<rect x="156.20" y="441.26" width="55.40" height="15.28" stroke="#141414" stroke-width="0.85"/>
<clipPath id="c17"><rect x="156.20" y="441.26" width="55.40" height="15.28"/></clipPath>
<g clip-path="url(#c17)">
<path d="M155.90,441.26 C172.82,451.65 194.98,451.65 211.90,441.26" stroke="#141414" stroke-width="0.85"/>
<path d="M155.90,439.41 C172.82,449.80 194.98,449.80 211.90,439.41" stroke="#141414" stroke-width="0.85"/>
<path d="M155.90,456.54 C172.82,446.15 194.98,446.15 211.90,456.54" stroke="#141414" stroke-width="0.85"/>
<path d="M155.90,458.39 C172.82,448.00 194.98,448.00 211.90,458.39" stroke="#141414" stroke-width="0.85"/>
</g>
<path d="M12.00,458.44 H187.00" stroke="#141414" stroke-width="0.85"/>
<rect x="-17.80" y="460.34" width="55.40" height="15.28" stroke="#141414" stroke-width="0.85"/>
<clipPath id="c18"><rect x="-17.80" y="460.34" width="55.40" height="15.28"/></clipPath>
<g clip-path="url(#c18)">
<path d="M-18.10,460.34 C-1.18,471.39 20.98,471.39 37.90,460.34" stroke="#141414" stroke-width="0.85"/>
<path d="M-18.10,458.49 C-1.18,469.54 20.98,469.54 37.90,458.49" stroke="#141414" stroke-width="0.85"/>
<path d="M-18.10,475.62 C-1.18,465.77 20.98,465.77 37.90,475.62" stroke="#141414" stroke-width="0.85"/>
<path d="M-18.10,477.47 C-1.18,467.62 20.98,467.62 37.90,477.47" stroke="#141414" stroke-width="0.85"/>
</g>
<rect x="40.20" y="460.34" width="55.40" height="15.28" stroke="#141414" stroke-width="0.85"/>
<clipPath id="c19"><rect x="40.20" y="460.34" width="55.40" height="15.28"/></clipPath>
<g clip-path="url(#c19)">
<path d="M39.90,460.34 C56.82,471.39 78.98,471.39 95.90,460.34" stroke="#141414" stroke-width="0.85"/>
<path d="M39.90,458.49 C56.82,469.54 78.98,469.54 95.90,458.49" stroke="#141414" stroke-width="0.85"/>
<path d="M39.90,475.62 C56.82,465.77 78.98,465.77 95.90,475.62" stroke="#141414" stroke-width="0.85"/>
<path d="M39.90,477.47 C56.82,467.62 78.98,467.62 95.90,477.47" stroke="#141414" stroke-width="0.85"/>
</g>
<rect x="98.20" y="460.34" width="55.40" height="15.28" stroke="#141414" stroke-width="0.85"/>
<clipPath id="c20"><rect x="98.20" y="460.34" width="55.40" height="15.28"/></clipPath>
<g clip-path="url(#c20)">
<path d="M97.90,460.34 C114.82,471.39 136.98,471.39 153.90,460.34" stroke="#141414" stroke-width="0.85"/>
<path d="M97.90,458.49 C114.82,469.54 136.98,469.54 153.90,458.49" stroke="#141414" stroke-width="0.85"/>
<path d="M97.90,475.62 C114.82,465.77 136.98,465.77 153.90,475.62" stroke="#141414" stroke-width="0.85"/>
<path d="M97.90,477.47 C114.82,467.62 136.98,467.62 153.90,477.47" stroke="#141414" stroke-width="0.85"/>
</g>
<rect x="156.20" y="460.34" width="55.40" height="15.28" stroke="#141414" stroke-width="0.85"/>
<clipPath id="c21"><rect x="156.20" y="460.34" width="55.40" height="15.28"/></clipPath>
<g clip-path="url(#c21)">
<path d="M155.90,460.34 C172.82,471.39 194.98,471.39 211.90,460.34" stroke="#141414" stroke-width="0.85"/>
<path d="M155.90,458.49 C172.82,469.54 194.98,469.54 211.90,458.49" stroke="#141414" stroke-width="0.85"/>
<path d="M155.90,475.62 C172.82,465.77 194.98,465.77 211.90,475.62" stroke="#141414" stroke-width="0.85"/>
<path d="M155.90,477.47 C172.82,467.62 194.98,467.62 211.90,477.47" stroke="#141414" stroke-width="0.85"/>
</g>
<path d="M12.00,477.52 H187.00" stroke="#141414" stroke-width="0.85"/>
<rect x="-17.80" y="479.42" width="55.40" height="15.28" stroke="#141414" stroke-width="0.85"/>
<clipPath id="c22"><rect x="-17.80" y="479.42" width="55.40" height="15.28"/></clipPath>
<g clip-path="url(#c22)">
<path d="M-18.10,479.42 C-1.18,489.27 20.98,489.27 37.90,479.42" stroke="#141414" stroke-width="0.85"/>
<path d="M-18.10,477.57 C-1.18,487.42 20.98,487.42 37.90,477.57" stroke="#141414" stroke-width="0.85"/>
<path d="M-18.10,494.70 C-1.18,483.65 20.98,483.65 37.90,494.70" stroke="#141414" stroke-width="0.85"/>
<path d="M-18.10,496.55 C-1.18,485.50 20.98,485.50 37.90,496.55" stroke="#141414" stroke-width="0.85"/>
</g>
<rect x="40.20" y="479.42" width="55.40" height="15.28" stroke="#141414" stroke-width="0.85"/>
<clipPath id="c23"><rect x="40.20" y="479.42" width="55.40" height="15.28"/></clipPath>
<g clip-path="url(#c23)">
<path d="M39.90,479.42 C56.82,489.27 78.98,489.27 95.90,479.42" stroke="#141414" stroke-width="0.85"/>
<path d="M39.90,477.57 C56.82,487.42 78.98,487.42 95.90,477.57" stroke="#141414" stroke-width="0.85"/>
<path d="M39.90,494.70 C56.82,483.65 78.98,483.65 95.90,494.70" stroke="#141414" stroke-width="0.85"/>
<path d="M39.90,496.55 C56.82,485.50 78.98,485.50 95.90,496.55" stroke="#141414" stroke-width="0.85"/>
</g>
<rect x="98.20" y="479.42" width="55.40" height="15.28" stroke="#141414" stroke-width="0.85"/>
<clipPath id="c24"><rect x="98.20" y="479.42" width="55.40" height="15.28"/></clipPath>
<g clip-path="url(#c24)">
<path d="M97.90,479.42 C114.82,489.27 136.98,489.27 153.90,479.42" stroke="#141414" stroke-width="0.85"/>
<path d="M97.90,477.57 C114.82,487.42 136.98,487.42 153.90,477.57" stroke="#141414" stroke-width="0.85"/>
<path d="M97.90,494.70 C114.82,483.65 136.98,483.65 153.90,494.70" stroke="#141414" stroke-width="0.85"/>
<path d="M97.90,496.55 C114.82,485.50 136.98,485.50 153.90,496.55" stroke="#141414" stroke-width="0.85"/>
</g>
<rect x="156.20" y="479.42" width="55.40" height="15.28" stroke="#141414" stroke-width="0.85"/>
<clipPath id="c25"><rect x="156.20" y="479.42" width="55.40" height="15.28"/></clipPath>
<g clip-path="url(#c25)">
<path d="M155.90,479.42 C172.82,489.27 194.98,489.27 211.90,479.42" stroke="#141414" stroke-width="0.85"/>
<path d="M155.90,477.57 C172.82,487.42 194.98,487.42 211.90,477.57" stroke="#141414" stroke-width="0.85"/>
<path d="M155.90,494.70 C172.82,483.65 194.98,483.65 211.90,494.70" stroke="#141414" stroke-width="0.85"/>
<path d="M155.90,496.55 C172.82,485.50 194.98,485.50 211.90,496.55" stroke="#141414" stroke-width="0.85"/>
</g>
<path d="M12.00,496.60 H187.00" stroke="#141414" stroke-width="0.85"/>
<rect x="-17.80" y="498.50" width="55.40" height="15.28" stroke="#141414" stroke-width="0.85"/>
<clipPath id="c26"><rect x="-17.80" y="498.50" width="55.40" height="15.28"/></clipPath>
<g clip-path="url(#c26)">
<path d="M-18.10,498.50 C-1.18,508.89 20.98,508.89 37.90,498.50" stroke="#141414" stroke-width="0.85"/>
<path d="M-18.10,496.65 C-1.18,507.04 20.98,507.04 37.90,496.65" stroke="#141414" stroke-width="0.85"/>
<path d="M-18.10,513.78 C-1.18,503.39 20.98,503.39 37.90,513.78" stroke="#141414" stroke-width="0.85"/>
<path d="M-18.10,515.63 C-1.18,505.24 20.98,505.24 37.90,515.63" stroke="#141414" stroke-width="0.85"/>
</g>
<rect x="40.20" y="498.50" width="55.40" height="15.28" stroke="#141414" stroke-width="0.85"/>
<clipPath id="c27"><rect x="40.20" y="498.50" width="55.40" height="15.28"/></clipPath>
<g clip-path="url(#c27)">
<path d="M39.90,498.50 C56.82,508.89 78.98,508.89 95.90,498.50" stroke="#141414" stroke-width="0.85"/>
<path d="M39.90,496.65 C56.82,507.04 78.98,507.04 95.90,496.65" stroke="#141414" stroke-width="0.85"/>
<path d="M39.90,513.78 C56.82,503.39 78.98,503.39 95.90,513.78" stroke="#141414" stroke-width="0.85"/>
<path d="M39.90,515.63 C56.82,505.24 78.98,505.24 95.90,515.63" stroke="#141414" stroke-width="0.85"/>
</g>
<rect x="98.20" y="498.50" width="55.40" height="15.28" stroke="#141414" stroke-width="0.85"/>
<clipPath id="c28"><rect x="98.20" y="498.50" width="55.40" height="15.28"/></clipPath>
<g clip-path="url(#c28)">
<path d="M97.90,498.50 C114.82,508.89 136.98,508.89 153.90,498.50" stroke="#141414" stroke-width="0.85"/>
<path d="M97.90,496.65 C114.82,507.04 136.98,507.04 153.90,496.65" stroke="#141414" stroke-width="0.85"/>
<path d="M97.90,513.78 C114.82,503.39 136.98,503.39 153.90,513.78" stroke="#141414" stroke-width="0.85"/>
<path d="M97.90,515.63 C114.82,505.24 136.98,505.24 153.90,515.63" stroke="#141414" stroke-width="0.85"/>
</g>
<rect x="156.20" y="498.50" width="55.40" height="15.28" stroke="#141414" stroke-width="0.85"/>
<clipPath id="c29"><rect x="156.20" y="498.50" width="55.40" height="15.28"/></clipPath>
<g clip-path="url(#c29)">
<path d="M155.90,498.50 C172.82,508.89 194.98,508.89 211.90,498.50" stroke="#141414" stroke-width="0.85"/>
<path d="M155.90,496.65 C172.82,507.04 194.98,507.04 211.90,496.65" stroke="#141414" stroke-width="0.85"/>
<path d="M155.90,513.78 C172.82,503.39 194.98,503.39 211.90,513.78" stroke="#141414" stroke-width="0.85"/>
<path d="M155.90,515.63 C172.82,505.24 194.98,505.24 211.90,515.63" stroke="#141414" stroke-width="0.85"/>
</g>
<path d="M12.00,515.68 H187.00" stroke="#141414" stroke-width="0.85"/>
<rect x="-17.80" y="517.58" width="55.40" height="15.28" stroke="#141414" stroke-width="0.85"/>
<clipPath id="c30"><rect x="-17.80" y="517.58" width="55.40" height="15.28"/></clipPath>
<g clip-path="url(#c30)">
<path d="M-18.10,517.58 C-1.18,528.63 20.98,528.63 37.90,517.58" stroke="#141414" stroke-width="0.85"/>
<path d="M-18.10,515.73 C-1.18,526.78 20.98,526.78 37.90,515.73" stroke="#141414" stroke-width="0.85"/>
<path d="M-18.10,532.86 C-1.18,523.01 20.98,523.01 37.90,532.86" stroke="#141414" stroke-width="0.85"/>
<path d="M-18.10,534.71 C-1.18,524.86 20.98,524.86 37.90,534.71" stroke="#141414" stroke-width="0.85"/>
</g>
<rect x="40.20" y="517.58" width="55.40" height="15.28" stroke="#141414" stroke-width="0.85"/>
<clipPath id="c31"><rect x="40.20" y="517.58" width="55.40" height="15.28"/></clipPath>
<g clip-path="url(#c31)">
<path d="M39.90,517.58 C56.82,528.63 78.98,528.63 95.90,517.58" stroke="#141414" stroke-width="0.85"/>
<path d="M39.90,515.73 C56.82,526.78 78.98,526.78 95.90,515.73" stroke="#141414" stroke-width="0.85"/>
<path d="M39.90,532.86 C56.82,523.01 78.98,523.01 95.90,532.86" stroke="#141414" stroke-width="0.85"/>
<path d="M39.90,534.71 C56.82,524.86 78.98,524.86 95.90,534.71" stroke="#141414" stroke-width="0.85"/>
</g>
<rect x="98.20" y="517.58" width="55.40" height="15.28" stroke="#141414" stroke-width="0.85"/>
<clipPath id="c32"><rect x="98.20" y="517.58" width="55.40" height="15.28"/></clipPath>
<g clip-path="url(#c32)">
<path d="M97.90,517.58 C114.82,528.63 136.98,528.63 153.90,517.58" stroke="#141414" stroke-width="0.85"/>
<path d="M97.90,515.73 C114.82,526.78 136.98,526.78 153.90,515.73" stroke="#141414" stroke-width="0.85"/>
<path d="M97.90,532.86 C114.82,523.01 136.98,523.01 153.90,532.86" stroke="#141414" stroke-width="0.85"/>
<path d="M97.90,534.71 C114.82,524.86 136.98,524.86 153.90,534.71" stroke="#141414" stroke-width="0.85"/>
</g>
<rect x="156.20" y="517.58" width="55.40" height="15.28" stroke="#141414" stroke-width="0.85"/>
<clipPath id="c33"><rect x="156.20" y="517.58" width="55.40" height="15.28"/></clipPath>
<g clip-path="url(#c33)">
<path d="M155.90,517.58 C172.82,528.63 194.98,528.63 211.90,517.58" stroke="#141414" stroke-width="0.85"/>
<path d="M155.90,515.73 C172.82,526.78 194.98,526.78 211.90,515.73" stroke="#141414" stroke-width="0.85"/>
<path d="M155.90,532.86 C172.82,523.01 194.98,523.01 211.90,532.86" stroke="#141414" stroke-width="0.85"/>
<path d="M155.90,534.71 C172.82,524.86 194.98,524.86 211.90,534.71" stroke="#141414" stroke-width="0.85"/>
</g>
<path d="M12.00,534.76 H187.00" stroke="#141414" stroke-width="0.85"/>
<rect x="-17.80" y="536.66" width="55.40" height="15.28" stroke="#141414" stroke-width="0.85"/>
<clipPath id="c34"><rect x="-17.80" y="536.66" width="55.40" height="15.28"/></clipPath>
<g clip-path="url(#c34)">
<path d="M-18.10,536.66 C-1.18,546.51 20.98,546.51 37.90,536.66" stroke="#141414" stroke-width="0.85"/>
<path d="M-18.10,534.81 C-1.18,544.66 20.98,544.66 37.90,534.81" stroke="#141414" stroke-width="0.85"/>
<path d="M-18.10,551.94 C-1.18,540.89 20.98,540.89 37.90,551.94" stroke="#141414" stroke-width="0.85"/>
<path d="M-18.10,553.79 C-1.18,542.74 20.98,542.74 37.90,553.79" stroke="#141414" stroke-width="0.85"/>
</g>
<rect x="40.20" y="536.66" width="55.40" height="15.28" stroke="#141414" stroke-width="0.85"/>
<clipPath id="c35"><rect x="40.20" y="536.66" width="55.40" height="15.28"/></clipPath>
<g clip-path="url(#c35)">
<path d="M39.90,536.66 C56.82,546.51 78.98,546.51 95.90,536.66" stroke="#141414" stroke-width="0.85"/>
<path d="M39.90,534.81 C56.82,544.66 78.98,544.66 95.90,534.81" stroke="#141414" stroke-width="0.85"/>
<path d="M39.90,551.94 C56.82,540.89 78.98,540.89 95.90,551.94" stroke="#141414" stroke-width="0.85"/>
<path d="M39.90,553.79 C56.82,542.74 78.98,542.74 95.90,553.79" stroke="#141414" stroke-width="0.85"/>
</g>
<rect x="98.20" y="536.66" width="55.40" height="15.28" stroke="#141414" stroke-width="0.85"/>
<clipPath id="c36"><rect x="98.20" y="536.66" width="55.40" height="15.28"/></clipPath>
<g clip-path="url(#c36)">
<path d="M97.90,536.66 C114.82,546.51 136.98,546.51 153.90,536.66" stroke="#141414" stroke-width="0.85"/>
<path d="M97.90,534.81 C114.82,544.66 136.98,544.66 153.90,534.81" stroke="#141414" stroke-width="0.85"/>
<path d="M97.90,551.94 C114.82,540.89 136.98,540.89 153.90,551.94" stroke="#141414" stroke-width="0.85"/>
<path d="M97.90,553.79 C114.82,542.74 136.98,542.74 153.90,553.79" stroke="#141414" stroke-width="0.85"/>
</g>
<rect x="156.20" y="536.66" width="55.40" height="15.28" stroke="#141414" stroke-width="0.85"/>
<clipPath id="c37"><rect x="156.20" y="536.66" width="55.40" height="15.28"/></clipPath>
<g clip-path="url(#c37)">
<path d="M155.90,536.66 C172.82,546.51 194.98,546.51 211.90,536.66" stroke="#141414" stroke-width="0.85"/>
<path d="M155.90,534.81 C172.82,544.66 194.98,544.66 211.90,534.81" stroke="#141414" stroke-width="0.85"/>
<path d="M155.90,551.94 C172.82,540.89 194.98,540.89 211.90,551.94" stroke="#141414" stroke-width="0.85"/>
<path d="M155.90,553.79 C172.82,542.74 194.98,542.74 211.90,553.79" stroke="#141414" stroke-width="0.85"/>
</g>
<path d="M12.00,553.84 H187.00" stroke="#141414" stroke-width="0.85"/>
<rect x="-17.80" y="555.74" width="55.40" height="15.28" stroke="#141414" stroke-width="0.85"/>
<clipPath id="c38"><rect x="-17.80" y="555.74" width="55.40" height="15.28"/></clipPath>
<g clip-path="url(#c38)">
<path d="M-18.10,555.74 C-1.18,566.13 20.98,566.13 37.90,555.74" stroke="#141414" stroke-width="0.85"/>
<path d="M-18.10,553.89 C-1.18,564.28 20.98,564.28 37.90,553.89" stroke="#141414" stroke-width="0.85"/>
<path d="M-18.10,571.02 C-1.18,560.63 20.98,560.63 37.90,571.02" stroke="#141414" stroke-width="0.85"/>
<path d="M-18.10,572.87 C-1.18,562.48 20.98,562.48 37.90,572.87" stroke="#141414" stroke-width="0.85"/>
</g>
<rect x="40.20" y="555.74" width="55.40" height="15.28" stroke="#141414" stroke-width="0.85"/>
<clipPath id="c39"><rect x="40.20" y="555.74" width="55.40" height="15.28"/></clipPath>
<g clip-path="url(#c39)">
<path d="M39.90,555.74 C56.82,566.13 78.98,566.13 95.90,555.74" stroke="#141414" stroke-width="0.85"/>
<path d="M39.90,553.89 C56.82,564.28 78.98,564.28 95.90,553.89" stroke="#141414" stroke-width="0.85"/>
<path d="M39.90,571.02 C56.82,560.63 78.98,560.63 95.90,571.02" stroke="#141414" stroke-width="0.85"/>
<path d="M39.90,572.87 C56.82,562.48 78.98,562.48 95.90,572.87" stroke="#141414" stroke-width="0.85"/>
</g>
<rect x="98.20" y="555.74" width="55.40" height="15.28" stroke="#141414" stroke-width="0.85"/>
<clipPath id="c40"><rect x="98.20" y="555.74" width="55.40" height="15.28"/></clipPath>
<g clip-path="url(#c40)">
<path d="M97.90,555.74 C114.82,566.13 136.98,566.13 153.90,555.74" stroke="#141414" stroke-width="0.85"/>
<path d="M97.90,553.89 C114.82,564.28 136.98,564.28 153.90,553.89" stroke="#141414" stroke-width="0.85"/>
<path d="M97.90,571.02 C114.82,560.63 136.98,560.63 153.90,571.02" stroke="#141414" stroke-width="0.85"/>
<path d="M97.90,572.87 C114.82,562.48 136.98,562.48 153.90,572.87" stroke="#141414" stroke-width="0.85"/>
</g>
<rect x="156.20" y="555.74" width="55.40" height="15.28" stroke="#141414" stroke-width="0.85"/>
<clipPath id="c41"><rect x="156.20" y="555.74" width="55.40" height="15.28"/></clipPath>
<g clip-path="url(#c41)">
<path d="M155.90,555.74 C172.82,566.13 194.98,566.13 211.90,555.74" stroke="#141414" stroke-width="0.85"/>
<path d="M155.90,553.89 C172.82,564.28 194.98,564.28 211.90,553.89" stroke="#141414" stroke-width="0.85"/>
<path d="M155.90,571.02 C172.82,560.63 194.98,560.63 211.90,571.02" stroke="#141414" stroke-width="0.85"/>
<path d="M155.90,572.87 C172.82,562.48 194.98,562.48 211.90,572.87" stroke="#141414" stroke-width="0.85"/>
</g>
</g>
<path d="M155.90,391.00 V565.80" stroke="#141414" stroke-width="1.60"/>
<clipPath id="c42"><rect x="216.00" y="391.00" width="175.50" height="174.80"/></clipPath>
<g clip-path="url(#c42)">
<path d="M216.00,382.12 H391.50" stroke="#141414" stroke-width="0.85"/>
<rect x="173.30" y="384.02" width="55.40" height="15.28" stroke="#141414" stroke-width="0.85"/>
<clipPath id="c43"><rect x="173.30" y="384.02" width="55.40" height="15.28"/></clipPath>
<g clip-path="url(#c43)">
<path d="M173.00,384.02 C189.92,394.41 212.08,394.41 229.00,384.02" stroke="#141414" stroke-width="0.85"/>
<path d="M173.00,382.17 C189.92,392.56 212.08,392.56 229.00,382.17" stroke="#141414" stroke-width="0.85"/>
<path d="M173.00,399.30 C189.92,388.91 212.08,388.91 229.00,399.30" stroke="#141414" stroke-width="0.85"/>
<path d="M173.00,401.15 C189.92,390.76 212.08,390.76 229.00,401.15" stroke="#141414" stroke-width="0.85"/>
</g>
<rect x="231.30" y="384.02" width="55.40" height="15.28" stroke="#141414" stroke-width="0.85"/>
<clipPath id="c44"><rect x="231.30" y="384.02" width="55.40" height="15.28"/></clipPath>
<g clip-path="url(#c44)">
<path d="M231.00,384.02 C247.92,394.41 270.08,394.41 287.00,384.02" stroke="#141414" stroke-width="0.85"/>
<path d="M231.00,382.17 C247.92,392.56 270.08,392.56 287.00,382.17" stroke="#141414" stroke-width="0.85"/>
<path d="M231.00,399.30 C247.92,388.91 270.08,388.91 287.00,399.30" stroke="#141414" stroke-width="0.85"/>
<path d="M231.00,401.15 C247.92,390.76 270.08,390.76 287.00,401.15" stroke="#141414" stroke-width="0.85"/>
</g>
<rect x="289.30" y="384.02" width="55.40" height="15.28" stroke="#141414" stroke-width="0.85"/>
<clipPath id="c45"><rect x="289.30" y="384.02" width="55.40" height="15.28"/></clipPath>
<g clip-path="url(#c45)">
<path d="M289.00,384.02 C305.92,394.41 328.08,394.41 345.00,384.02" stroke="#141414" stroke-width="0.85"/>
<path d="M289.00,382.17 C305.92,392.56 328.08,392.56 345.00,382.17" stroke="#141414" stroke-width="0.85"/>
<path d="M289.00,399.30 C305.92,388.91 328.08,388.91 345.00,399.30" stroke="#141414" stroke-width="0.85"/>
<path d="M289.00,401.15 C305.92,390.76 328.08,390.76 345.00,401.15" stroke="#141414" stroke-width="0.85"/>
</g>
<rect x="347.30" y="384.02" width="55.40" height="15.28" stroke="#141414" stroke-width="0.85"/>
<clipPath id="c46"><rect x="347.30" y="384.02" width="55.40" height="15.28"/></clipPath>
<g clip-path="url(#c46)">
<path d="M347.00,384.02 C363.92,394.41 386.08,394.41 403.00,384.02" stroke="#141414" stroke-width="0.85"/>
<path d="M347.00,382.17 C363.92,392.56 386.08,392.56 403.00,382.17" stroke="#141414" stroke-width="0.85"/>
<path d="M347.00,399.30 C363.92,388.91 386.08,388.91 403.00,399.30" stroke="#141414" stroke-width="0.85"/>
<path d="M347.00,401.15 C363.92,390.76 386.08,390.76 403.00,401.15" stroke="#141414" stroke-width="0.85"/>
</g>
<path d="M216.00,401.20 H391.50" stroke="#141414" stroke-width="0.85"/>
<rect x="201.90" y="403.10" width="55.40" height="15.28" stroke="#141414" stroke-width="0.85"/>
<clipPath id="c47"><rect x="201.90" y="403.10" width="55.40" height="15.28"/></clipPath>
<g clip-path="url(#c47)">
<path d="M201.60,403.10 C218.52,414.15 240.68,414.15 257.60,403.10" stroke="#141414" stroke-width="0.85"/>
<path d="M201.60,401.25 C218.52,412.30 240.68,412.30 257.60,401.25" stroke="#141414" stroke-width="0.85"/>
<path d="M201.60,418.38 C218.52,408.53 240.68,408.53 257.60,418.38" stroke="#141414" stroke-width="0.85"/>
<path d="M201.60,420.23 C218.52,410.38 240.68,410.38 257.60,420.23" stroke="#141414" stroke-width="0.85"/>
</g>
<rect x="259.90" y="403.10" width="55.40" height="15.28" stroke="#141414" stroke-width="0.85"/>
<clipPath id="c48"><rect x="259.90" y="403.10" width="55.40" height="15.28"/></clipPath>
<g clip-path="url(#c48)">
<path d="M259.60,403.10 C276.52,414.15 298.68,414.15 315.60,403.10" stroke="#141414" stroke-width="0.85"/>
<path d="M259.60,401.25 C276.52,412.30 298.68,412.30 315.60,401.25" stroke="#141414" stroke-width="0.85"/>
<path d="M259.60,418.38 C276.52,408.53 298.68,408.53 315.60,418.38" stroke="#141414" stroke-width="0.85"/>
<path d="M259.60,420.23 C276.52,410.38 298.68,410.38 315.60,420.23" stroke="#141414" stroke-width="0.85"/>
</g>
<rect x="317.90" y="403.10" width="55.40" height="15.28" stroke="#141414" stroke-width="0.85"/>
<clipPath id="c49"><rect x="317.90" y="403.10" width="55.40" height="15.28"/></clipPath>
<g clip-path="url(#c49)">
<path d="M317.60,403.10 C334.52,414.15 356.68,414.15 373.60,403.10" stroke="#141414" stroke-width="0.85"/>
<path d="M317.60,401.25 C334.52,412.30 356.68,412.30 373.60,401.25" stroke="#141414" stroke-width="0.85"/>
<path d="M317.60,418.38 C334.52,408.53 356.68,408.53 373.60,418.38" stroke="#141414" stroke-width="0.85"/>
<path d="M317.60,420.23 C334.52,410.38 356.68,410.38 373.60,420.23" stroke="#141414" stroke-width="0.85"/>
</g>
<rect x="375.90" y="403.10" width="55.40" height="15.28" stroke="#141414" stroke-width="0.85"/>
<clipPath id="c50"><rect x="375.90" y="403.10" width="55.40" height="15.28"/></clipPath>
<g clip-path="url(#c50)">
<path d="M375.60,403.10 C392.52,414.15 414.68,414.15 431.60,403.10" stroke="#141414" stroke-width="0.85"/>
<path d="M375.60,401.25 C392.52,412.30 414.68,412.30 431.60,401.25" stroke="#141414" stroke-width="0.85"/>
<path d="M375.60,418.38 C392.52,408.53 414.68,408.53 431.60,418.38" stroke="#141414" stroke-width="0.85"/>
<path d="M375.60,420.23 C392.52,410.38 414.68,410.38 431.60,420.23" stroke="#141414" stroke-width="0.85"/>
</g>
<path d="M216.00,420.28 H391.50" stroke="#141414" stroke-width="0.85"/>
<rect x="173.30" y="422.18" width="55.40" height="15.28" stroke="#141414" stroke-width="0.85"/>
<clipPath id="c51"><rect x="173.30" y="422.18" width="55.40" height="15.28"/></clipPath>
<g clip-path="url(#c51)">
<path d="M173.00,422.18 C189.92,432.03 212.08,432.03 229.00,422.18" stroke="#141414" stroke-width="0.85"/>
<path d="M173.00,420.33 C189.92,430.18 212.08,430.18 229.00,420.33" stroke="#141414" stroke-width="0.85"/>
<path d="M173.00,437.46 C189.92,426.41 212.08,426.41 229.00,437.46" stroke="#141414" stroke-width="0.85"/>
<path d="M173.00,439.31 C189.92,428.26 212.08,428.26 229.00,439.31" stroke="#141414" stroke-width="0.85"/>
</g>
<rect x="231.30" y="422.18" width="55.40" height="15.28" stroke="#141414" stroke-width="0.85"/>
<clipPath id="c52"><rect x="231.30" y="422.18" width="55.40" height="15.28"/></clipPath>
<g clip-path="url(#c52)">
<path d="M231.00,422.18 C247.92,432.03 270.08,432.03 287.00,422.18" stroke="#141414" stroke-width="0.85"/>
<path d="M231.00,420.33 C247.92,430.18 270.08,430.18 287.00,420.33" stroke="#141414" stroke-width="0.85"/>
<path d="M231.00,437.46 C247.92,426.41 270.08,426.41 287.00,437.46" stroke="#141414" stroke-width="0.85"/>
<path d="M231.00,439.31 C247.92,428.26 270.08,428.26 287.00,439.31" stroke="#141414" stroke-width="0.85"/>
</g>
<rect x="289.30" y="422.18" width="55.40" height="15.28" stroke="#141414" stroke-width="0.85"/>
<clipPath id="c53"><rect x="289.30" y="422.18" width="55.40" height="15.28"/></clipPath>
<g clip-path="url(#c53)">
<path d="M289.00,422.18 C305.92,432.03 328.08,432.03 345.00,422.18" stroke="#141414" stroke-width="0.85"/>
<path d="M289.00,420.33 C305.92,430.18 328.08,430.18 345.00,420.33" stroke="#141414" stroke-width="0.85"/>
<path d="M289.00,437.46 C305.92,426.41 328.08,426.41 345.00,437.46" stroke="#141414" stroke-width="0.85"/>
<path d="M289.00,439.31 C305.92,428.26 328.08,428.26 345.00,439.31" stroke="#141414" stroke-width="0.85"/>
</g>
<rect x="347.30" y="422.18" width="55.40" height="15.28" stroke="#141414" stroke-width="0.85"/>
<clipPath id="c54"><rect x="347.30" y="422.18" width="55.40" height="15.28"/></clipPath>
<g clip-path="url(#c54)">
<path d="M347.00,422.18 C363.92,432.03 386.08,432.03 403.00,422.18" stroke="#141414" stroke-width="0.85"/>
<path d="M347.00,420.33 C363.92,430.18 386.08,430.18 403.00,420.33" stroke="#141414" stroke-width="0.85"/>
<path d="M347.00,437.46 C363.92,426.41 386.08,426.41 403.00,437.46" stroke="#141414" stroke-width="0.85"/>
<path d="M347.00,439.31 C363.92,428.26 386.08,428.26 403.00,439.31" stroke="#141414" stroke-width="0.85"/>
</g>
<path d="M216.00,439.36 H391.50" stroke="#141414" stroke-width="0.85"/>
<rect x="201.90" y="441.26" width="55.40" height="15.28" stroke="#141414" stroke-width="0.85"/>
<clipPath id="c55"><rect x="201.90" y="441.26" width="55.40" height="15.28"/></clipPath>
<g clip-path="url(#c55)">
<path d="M201.60,441.26 C218.52,451.65 240.68,451.65 257.60,441.26" stroke="#141414" stroke-width="0.85"/>
<path d="M201.60,439.41 C218.52,449.80 240.68,449.80 257.60,439.41" stroke="#141414" stroke-width="0.85"/>
<path d="M201.60,456.54 C218.52,446.15 240.68,446.15 257.60,456.54" stroke="#141414" stroke-width="0.85"/>
<path d="M201.60,458.39 C218.52,448.00 240.68,448.00 257.60,458.39" stroke="#141414" stroke-width="0.85"/>
</g>
<rect x="259.90" y="441.26" width="55.40" height="15.28" stroke="#141414" stroke-width="0.85"/>
<clipPath id="c56"><rect x="259.90" y="441.26" width="55.40" height="15.28"/></clipPath>
<g clip-path="url(#c56)">
<path d="M259.60,441.26 C276.52,451.65 298.68,451.65 315.60,441.26" stroke="#141414" stroke-width="0.85"/>
<path d="M259.60,439.41 C276.52,449.80 298.68,449.80 315.60,439.41" stroke="#141414" stroke-width="0.85"/>
<path d="M259.60,456.54 C276.52,446.15 298.68,446.15 315.60,456.54" stroke="#141414" stroke-width="0.85"/>
<path d="M259.60,458.39 C276.52,448.00 298.68,448.00 315.60,458.39" stroke="#141414" stroke-width="0.85"/>
</g>
<rect x="317.90" y="441.26" width="55.40" height="15.28" stroke="#141414" stroke-width="0.85"/>
<clipPath id="c57"><rect x="317.90" y="441.26" width="55.40" height="15.28"/></clipPath>
<g clip-path="url(#c57)">
<path d="M317.60,441.26 C334.52,451.65 356.68,451.65 373.60,441.26" stroke="#141414" stroke-width="0.85"/>
<path d="M317.60,439.41 C334.52,449.80 356.68,449.80 373.60,439.41" stroke="#141414" stroke-width="0.85"/>
<path d="M317.60,456.54 C334.52,446.15 356.68,446.15 373.60,456.54" stroke="#141414" stroke-width="0.85"/>
<path d="M317.60,458.39 C334.52,448.00 356.68,448.00 373.60,458.39" stroke="#141414" stroke-width="0.85"/>
</g>
<rect x="375.90" y="441.26" width="55.40" height="15.28" stroke="#141414" stroke-width="0.85"/>
<clipPath id="c58"><rect x="375.90" y="441.26" width="55.40" height="15.28"/></clipPath>
<g clip-path="url(#c58)">
<path d="M375.60,441.26 C392.52,451.65 414.68,451.65 431.60,441.26" stroke="#141414" stroke-width="0.85"/>
<path d="M375.60,439.41 C392.52,449.80 414.68,449.80 431.60,439.41" stroke="#141414" stroke-width="0.85"/>
<path d="M375.60,456.54 C392.52,446.15 414.68,446.15 431.60,456.54" stroke="#141414" stroke-width="0.85"/>
<path d="M375.60,458.39 C392.52,448.00 414.68,448.00 431.60,458.39" stroke="#141414" stroke-width="0.85"/>
</g>
<path d="M216.00,458.44 H391.50" stroke="#141414" stroke-width="0.85"/>
<rect x="173.30" y="460.34" width="55.40" height="15.28" stroke="#141414" stroke-width="0.85"/>
<clipPath id="c59"><rect x="173.30" y="460.34" width="55.40" height="15.28"/></clipPath>
<g clip-path="url(#c59)">
<path d="M173.00,460.34 C189.92,471.39 212.08,471.39 229.00,460.34" stroke="#141414" stroke-width="0.85"/>
<path d="M173.00,458.49 C189.92,469.54 212.08,469.54 229.00,458.49" stroke="#141414" stroke-width="0.85"/>
<path d="M173.00,475.62 C189.92,465.77 212.08,465.77 229.00,475.62" stroke="#141414" stroke-width="0.85"/>
<path d="M173.00,477.47 C189.92,467.62 212.08,467.62 229.00,477.47" stroke="#141414" stroke-width="0.85"/>
</g>
<rect x="231.30" y="460.34" width="55.40" height="15.28" stroke="#141414" stroke-width="0.85"/>
<clipPath id="c60"><rect x="231.30" y="460.34" width="55.40" height="15.28"/></clipPath>
<g clip-path="url(#c60)">
<path d="M231.00,460.34 C247.92,471.39 270.08,471.39 287.00,460.34" stroke="#141414" stroke-width="0.85"/>
<path d="M231.00,458.49 C247.92,469.54 270.08,469.54 287.00,458.49" stroke="#141414" stroke-width="0.85"/>
<path d="M231.00,475.62 C247.92,465.77 270.08,465.77 287.00,475.62" stroke="#141414" stroke-width="0.85"/>
<path d="M231.00,477.47 C247.92,467.62 270.08,467.62 287.00,477.47" stroke="#141414" stroke-width="0.85"/>
</g>
<rect x="289.30" y="460.34" width="55.40" height="15.28" stroke="#141414" stroke-width="0.85"/>
<clipPath id="c61"><rect x="289.30" y="460.34" width="55.40" height="15.28"/></clipPath>
<g clip-path="url(#c61)">
<path d="M289.00,460.34 C305.92,471.39 328.08,471.39 345.00,460.34" stroke="#141414" stroke-width="0.85"/>
<path d="M289.00,458.49 C305.92,469.54 328.08,469.54 345.00,458.49" stroke="#141414" stroke-width="0.85"/>
<path d="M289.00,475.62 C305.92,465.77 328.08,465.77 345.00,475.62" stroke="#141414" stroke-width="0.85"/>
<path d="M289.00,477.47 C305.92,467.62 328.08,467.62 345.00,477.47" stroke="#141414" stroke-width="0.85"/>
</g>
<rect x="347.30" y="460.34" width="55.40" height="15.28" stroke="#141414" stroke-width="0.85"/>
<clipPath id="c62"><rect x="347.30" y="460.34" width="55.40" height="15.28"/></clipPath>
<g clip-path="url(#c62)">
<path d="M347.00,460.34 C363.92,471.39 386.08,471.39 403.00,460.34" stroke="#141414" stroke-width="0.85"/>
<path d="M347.00,458.49 C363.92,469.54 386.08,469.54 403.00,458.49" stroke="#141414" stroke-width="0.85"/>
<path d="M347.00,475.62 C363.92,465.77 386.08,465.77 403.00,475.62" stroke="#141414" stroke-width="0.85"/>
<path d="M347.00,477.47 C363.92,467.62 386.08,467.62 403.00,477.47" stroke="#141414" stroke-width="0.85"/>
</g>
<path d="M216.00,477.52 H391.50" stroke="#141414" stroke-width="0.85"/>
<rect x="201.90" y="479.42" width="55.40" height="15.28" stroke="#141414" stroke-width="0.85"/>
<clipPath id="c63"><rect x="201.90" y="479.42" width="55.40" height="15.28"/></clipPath>
<g clip-path="url(#c63)">
<path d="M201.60,479.42 C218.52,489.27 240.68,489.27 257.60,479.42" stroke="#141414" stroke-width="0.85"/>
<path d="M201.60,477.57 C218.52,487.42 240.68,487.42 257.60,477.57" stroke="#141414" stroke-width="0.85"/>
<path d="M201.60,494.70 C218.52,483.65 240.68,483.65 257.60,494.70" stroke="#141414" stroke-width="0.85"/>
<path d="M201.60,496.55 C218.52,485.50 240.68,485.50 257.60,496.55" stroke="#141414" stroke-width="0.85"/>
</g>
<rect x="259.90" y="479.42" width="55.40" height="15.28" stroke="#141414" stroke-width="0.85"/>
<clipPath id="c64"><rect x="259.90" y="479.42" width="55.40" height="15.28"/></clipPath>
<g clip-path="url(#c64)">
<path d="M259.60,479.42 C276.52,489.27 298.68,489.27 315.60,479.42" stroke="#141414" stroke-width="0.85"/>
<path d="M259.60,477.57 C276.52,487.42 298.68,487.42 315.60,477.57" stroke="#141414" stroke-width="0.85"/>
<path d="M259.60,494.70 C276.52,483.65 298.68,483.65 315.60,494.70" stroke="#141414" stroke-width="0.85"/>
<path d="M259.60,496.55 C276.52,485.50 298.68,485.50 315.60,496.55" stroke="#141414" stroke-width="0.85"/>
</g>
<rect x="317.90" y="479.42" width="55.40" height="15.28" stroke="#141414" stroke-width="0.85"/>
<clipPath id="c65"><rect x="317.90" y="479.42" width="55.40" height="15.28"/></clipPath>
<g clip-path="url(#c65)">
<path d="M317.60,479.42 C334.52,489.27 356.68,489.27 373.60,479.42" stroke="#141414" stroke-width="0.85"/>
<path d="M317.60,477.57 C334.52,487.42 356.68,487.42 373.60,477.57" stroke="#141414" stroke-width="0.85"/>
<path d="M317.60,494.70 C334.52,483.65 356.68,483.65 373.60,494.70" stroke="#141414" stroke-width="0.85"/>
<path d="M317.60,496.55 C334.52,485.50 356.68,485.50 373.60,496.55" stroke="#141414" stroke-width="0.85"/>
</g>
<rect x="375.90" y="479.42" width="55.40" height="15.28" stroke="#141414" stroke-width="0.85"/>
<clipPath id="c66"><rect x="375.90" y="479.42" width="55.40" height="15.28"/></clipPath>
<g clip-path="url(#c66)">
<path d="M375.60,479.42 C392.52,489.27 414.68,489.27 431.60,479.42" stroke="#141414" stroke-width="0.85"/>
<path d="M375.60,477.57 C392.52,487.42 414.68,487.42 431.60,477.57" stroke="#141414" stroke-width="0.85"/>
<path d="M375.60,494.70 C392.52,483.65 414.68,483.65 431.60,494.70" stroke="#141414" stroke-width="0.85"/>
<path d="M375.60,496.55 C392.52,485.50 414.68,485.50 431.60,496.55" stroke="#141414" stroke-width="0.85"/>
</g>
<path d="M216.00,496.60 H391.50" stroke="#141414" stroke-width="0.85"/>
<rect x="173.30" y="498.50" width="55.40" height="15.28" stroke="#141414" stroke-width="0.85"/>
<clipPath id="c67"><rect x="173.30" y="498.50" width="55.40" height="15.28"/></clipPath>
<g clip-path="url(#c67)">
<path d="M173.00,498.50 C189.92,508.89 212.08,508.89 229.00,498.50" stroke="#141414" stroke-width="0.85"/>
<path d="M173.00,496.65 C189.92,507.04 212.08,507.04 229.00,496.65" stroke="#141414" stroke-width="0.85"/>
<path d="M173.00,513.78 C189.92,503.39 212.08,503.39 229.00,513.78" stroke="#141414" stroke-width="0.85"/>
<path d="M173.00,515.63 C189.92,505.24 212.08,505.24 229.00,515.63" stroke="#141414" stroke-width="0.85"/>
</g>
<rect x="231.30" y="498.50" width="55.40" height="15.28" stroke="#141414" stroke-width="0.85"/>
<clipPath id="c68"><rect x="231.30" y="498.50" width="55.40" height="15.28"/></clipPath>
<g clip-path="url(#c68)">
<path d="M231.00,498.50 C247.92,508.89 270.08,508.89 287.00,498.50" stroke="#141414" stroke-width="0.85"/>
<path d="M231.00,496.65 C247.92,507.04 270.08,507.04 287.00,496.65" stroke="#141414" stroke-width="0.85"/>
<path d="M231.00,513.78 C247.92,503.39 270.08,503.39 287.00,513.78" stroke="#141414" stroke-width="0.85"/>
<path d="M231.00,515.63 C247.92,505.24 270.08,505.24 287.00,515.63" stroke="#141414" stroke-width="0.85"/>
</g>
<rect x="289.30" y="498.50" width="55.40" height="15.28" stroke="#141414" stroke-width="0.85"/>
<clipPath id="c69"><rect x="289.30" y="498.50" width="55.40" height="15.28"/></clipPath>
<g clip-path="url(#c69)">
<path d="M289.00,498.50 C305.92,508.89 328.08,508.89 345.00,498.50" stroke="#141414" stroke-width="0.85"/>
<path d="M289.00,496.65 C305.92,507.04 328.08,507.04 345.00,496.65" stroke="#141414" stroke-width="0.85"/>
<path d="M289.00,513.78 C305.92,503.39 328.08,503.39 345.00,513.78" stroke="#141414" stroke-width="0.85"/>
<path d="M289.00,515.63 C305.92,505.24 328.08,505.24 345.00,515.63" stroke="#141414" stroke-width="0.85"/>
</g>
<rect x="347.30" y="498.50" width="55.40" height="15.28" stroke="#141414" stroke-width="0.85"/>
<clipPath id="c70"><rect x="347.30" y="498.50" width="55.40" height="15.28"/></clipPath>
<g clip-path="url(#c70)">
<path d="M347.00,498.50 C363.92,508.89 386.08,508.89 403.00,498.50" stroke="#141414" stroke-width="0.85"/>
<path d="M347.00,496.65 C363.92,507.04 386.08,507.04 403.00,496.65" stroke="#141414" stroke-width="0.85"/>
<path d="M347.00,513.78 C363.92,503.39 386.08,503.39 403.00,513.78" stroke="#141414" stroke-width="0.85"/>
<path d="M347.00,515.63 C363.92,505.24 386.08,505.24 403.00,515.63" stroke="#141414" stroke-width="0.85"/>
</g>
<path d="M216.00,515.68 H391.50" stroke="#141414" stroke-width="0.85"/>
<rect x="201.90" y="517.58" width="55.40" height="15.28" stroke="#141414" stroke-width="0.85"/>
<clipPath id="c71"><rect x="201.90" y="517.58" width="55.40" height="15.28"/></clipPath>
<g clip-path="url(#c71)">
<path d="M201.60,517.58 C218.52,528.63 240.68,528.63 257.60,517.58" stroke="#141414" stroke-width="0.85"/>
<path d="M201.60,515.73 C218.52,526.78 240.68,526.78 257.60,515.73" stroke="#141414" stroke-width="0.85"/>
<path d="M201.60,532.86 C218.52,523.01 240.68,523.01 257.60,532.86" stroke="#141414" stroke-width="0.85"/>
<path d="M201.60,534.71 C218.52,524.86 240.68,524.86 257.60,534.71" stroke="#141414" stroke-width="0.85"/>
</g>
<rect x="259.90" y="517.58" width="55.40" height="15.28" stroke="#141414" stroke-width="0.85"/>
<clipPath id="c72"><rect x="259.90" y="517.58" width="55.40" height="15.28"/></clipPath>
<g clip-path="url(#c72)">
<path d="M259.60,517.58 C276.52,528.63 298.68,528.63 315.60,517.58" stroke="#141414" stroke-width="0.85"/>
<path d="M259.60,515.73 C276.52,526.78 298.68,526.78 315.60,515.73" stroke="#141414" stroke-width="0.85"/>
<path d="M259.60,532.86 C276.52,523.01 298.68,523.01 315.60,532.86" stroke="#141414" stroke-width="0.85"/>
<path d="M259.60,534.71 C276.52,524.86 298.68,524.86 315.60,534.71" stroke="#141414" stroke-width="0.85"/>
</g>
<rect x="317.90" y="517.58" width="55.40" height="15.28" stroke="#141414" stroke-width="0.85"/>
<clipPath id="c73"><rect x="317.90" y="517.58" width="55.40" height="15.28"/></clipPath>
<g clip-path="url(#c73)">
<path d="M317.60,517.58 C334.52,528.63 356.68,528.63 373.60,517.58" stroke="#141414" stroke-width="0.85"/>
<path d="M317.60,515.73 C334.52,526.78 356.68,526.78 373.60,515.73" stroke="#141414" stroke-width="0.85"/>
<path d="M317.60,532.86 C334.52,523.01 356.68,523.01 373.60,532.86" stroke="#141414" stroke-width="0.85"/>
<path d="M317.60,534.71 C334.52,524.86 356.68,524.86 373.60,534.71" stroke="#141414" stroke-width="0.85"/>
</g>
<rect x="375.90" y="517.58" width="55.40" height="15.28" stroke="#141414" stroke-width="0.85"/>
<clipPath id="c74"><rect x="375.90" y="517.58" width="55.40" height="15.28"/></clipPath>
<g clip-path="url(#c74)">
<path d="M375.60,517.58 C392.52,528.63 414.68,528.63 431.60,517.58" stroke="#141414" stroke-width="0.85"/>
<path d="M375.60,515.73 C392.52,526.78 414.68,526.78 431.60,515.73" stroke="#141414" stroke-width="0.85"/>
<path d="M375.60,532.86 C392.52,523.01 414.68,523.01 431.60,532.86" stroke="#141414" stroke-width="0.85"/>
<path d="M375.60,534.71 C392.52,524.86 414.68,524.86 431.60,534.71" stroke="#141414" stroke-width="0.85"/>
</g>
<path d="M216.00,534.76 H391.50" stroke="#141414" stroke-width="0.85"/>
<rect x="173.30" y="536.66" width="55.40" height="15.28" stroke="#141414" stroke-width="0.85"/>
<clipPath id="c75"><rect x="173.30" y="536.66" width="55.40" height="15.28"/></clipPath>
<g clip-path="url(#c75)">
<path d="M173.00,536.66 C189.92,546.51 212.08,546.51 229.00,536.66" stroke="#141414" stroke-width="0.85"/>
<path d="M173.00,534.81 C189.92,544.66 212.08,544.66 229.00,534.81" stroke="#141414" stroke-width="0.85"/>
<path d="M173.00,551.94 C189.92,540.89 212.08,540.89 229.00,551.94" stroke="#141414" stroke-width="0.85"/>
<path d="M173.00,553.79 C189.92,542.74 212.08,542.74 229.00,553.79" stroke="#141414" stroke-width="0.85"/>
</g>
<rect x="231.30" y="536.66" width="55.40" height="15.28" stroke="#141414" stroke-width="0.85"/>
<clipPath id="c76"><rect x="231.30" y="536.66" width="55.40" height="15.28"/></clipPath>
<g clip-path="url(#c76)">
<path d="M231.00,536.66 C247.92,546.51 270.08,546.51 287.00,536.66" stroke="#141414" stroke-width="0.85"/>
<path d="M231.00,534.81 C247.92,544.66 270.08,544.66 287.00,534.81" stroke="#141414" stroke-width="0.85"/>
<path d="M231.00,551.94 C247.92,540.89 270.08,540.89 287.00,551.94" stroke="#141414" stroke-width="0.85"/>
<path d="M231.00,553.79 C247.92,542.74 270.08,542.74 287.00,553.79" stroke="#141414" stroke-width="0.85"/>
</g>
<rect x="289.30" y="536.66" width="55.40" height="15.28" stroke="#141414" stroke-width="0.85"/>
<clipPath id="c77"><rect x="289.30" y="536.66" width="55.40" height="15.28"/></clipPath>
<g clip-path="url(#c77)">
<path d="M289.00,536.66 C305.92,546.51 328.08,546.51 345.00,536.66" stroke="#141414" stroke-width="0.85"/>
<path d="M289.00,534.81 C305.92,544.66 328.08,544.66 345.00,534.81" stroke="#141414" stroke-width="0.85"/>
<path d="M289.00,551.94 C305.92,540.89 328.08,540.89 345.00,551.94" stroke="#141414" stroke-width="0.85"/>
<path d="M289.00,553.79 C305.92,542.74 328.08,542.74 345.00,553.79" stroke="#141414" stroke-width="0.85"/>
</g>
<rect x="347.30" y="536.66" width="55.40" height="15.28" stroke="#141414" stroke-width="0.85"/>
<clipPath id="c78"><rect x="347.30" y="536.66" width="55.40" height="15.28"/></clipPath>
<g clip-path="url(#c78)">
<path d="M347.00,536.66 C363.92,546.51 386.08,546.51 403.00,536.66" stroke="#141414" stroke-width="0.85"/>
<path d="M347.00,534.81 C363.92,544.66 386.08,544.66 403.00,534.81" stroke="#141414" stroke-width="0.85"/>
<path d="M347.00,551.94 C363.92,540.89 386.08,540.89 403.00,551.94" stroke="#141414" stroke-width="0.85"/>
<path d="M347.00,553.79 C363.92,542.74 386.08,542.74 403.00,553.79" stroke="#141414" stroke-width="0.85"/>
</g>
<path d="M216.00,553.84 H391.50" stroke="#141414" stroke-width="0.85"/>
<rect x="201.90" y="555.74" width="55.40" height="15.28" stroke="#141414" stroke-width="0.85"/>
<clipPath id="c79"><rect x="201.90" y="555.74" width="55.40" height="15.28"/></clipPath>
<g clip-path="url(#c79)">
<path d="M201.60,555.74 C218.52,566.13 240.68,566.13 257.60,555.74" stroke="#141414" stroke-width="0.85"/>
<path d="M201.60,553.89 C218.52,564.28 240.68,564.28 257.60,553.89" stroke="#141414" stroke-width="0.85"/>
<path d="M201.60,571.02 C218.52,560.63 240.68,560.63 257.60,571.02" stroke="#141414" stroke-width="0.85"/>
<path d="M201.60,572.87 C218.52,562.48 240.68,562.48 257.60,572.87" stroke="#141414" stroke-width="0.85"/>
</g>
<rect x="259.90" y="555.74" width="55.40" height="15.28" stroke="#141414" stroke-width="0.85"/>
<clipPath id="c80"><rect x="259.90" y="555.74" width="55.40" height="15.28"/></clipPath>
<g clip-path="url(#c80)">
<path d="M259.60,555.74 C276.52,566.13 298.68,566.13 315.60,555.74" stroke="#141414" stroke-width="0.85"/>
<path d="M259.60,553.89 C276.52,564.28 298.68,564.28 315.60,553.89" stroke="#141414" stroke-width="0.85"/>
<path d="M259.60,571.02 C276.52,560.63 298.68,560.63 315.60,571.02" stroke="#141414" stroke-width="0.85"/>
<path d="M259.60,572.87 C276.52,562.48 298.68,562.48 315.60,572.87" stroke="#141414" stroke-width="0.85"/>
</g>
<rect x="317.90" y="555.74" width="55.40" height="15.28" stroke="#141414" stroke-width="0.85"/>
<clipPath id="c81"><rect x="317.90" y="555.74" width="55.40" height="15.28"/></clipPath>
<g clip-path="url(#c81)">
<path d="M317.60,555.74 C334.52,566.13 356.68,566.13 373.60,555.74" stroke="#141414" stroke-width="0.85"/>
<path d="M317.60,553.89 C334.52,564.28 356.68,564.28 373.60,553.89" stroke="#141414" stroke-width="0.85"/>
<path d="M317.60,571.02 C334.52,560.63 356.68,560.63 373.60,571.02" stroke="#141414" stroke-width="0.85"/>
<path d="M317.60,572.87 C334.52,562.48 356.68,562.48 373.60,572.87" stroke="#141414" stroke-width="0.85"/>
</g>
<rect x="375.90" y="555.74" width="55.40" height="15.28" stroke="#141414" stroke-width="0.85"/>
<clipPath id="c82"><rect x="375.90" y="555.74" width="55.40" height="15.28"/></clipPath>
<g clip-path="url(#c82)">
<path d="M375.60,555.74 C392.52,566.13 414.68,566.13 431.60,555.74" stroke="#141414" stroke-width="0.85"/>
<path d="M375.60,553.89 C392.52,564.28 414.68,564.28 431.60,553.89" stroke="#141414" stroke-width="0.85"/>
<path d="M375.60,571.02 C392.52,560.63 414.68,560.63 431.60,571.02" stroke="#141414" stroke-width="0.85"/>
<path d="M375.60,572.87 C392.52,562.48 414.68,562.48 431.60,572.87" stroke="#141414" stroke-width="0.85"/>
</g>
</g>
<clipPath id="c83"><rect x="420.80" y="391.00" width="176.20" height="174.80"/></clipPath>
<g clip-path="url(#c83)">
<path d="M428.30,364.70 V417.40 H414.50" stroke="#777" stroke-width="0.70"/>
<path d="M414.50,417.40 V364.70 H428.30" stroke="#141414" stroke-width="0.75"/>
<clipPath id="c84"><rect x="414.50" y="364.70" width="13.80" height="52.70"/></clipPath>
<g clip-path="url(#c84)">
<path d="M414.55,417.90 L425.95,364.20" stroke="#141414" stroke-width="0.55"/>
<path d="M415.70,417.90 L427.10,364.20" stroke="#141414" stroke-width="0.55"/>
<path d="M416.85,417.90 L428.25,364.20" stroke="#141414" stroke-width="0.55"/>
</g>
<path d="M431.10,391.00 V565.80" stroke="#141414" stroke-width="1.10"/>
<path d="M447.80,364.70 V417.40 H434.00" stroke="#777" stroke-width="0.70"/>
<path d="M434.00,417.40 V364.70 H447.80" stroke="#141414" stroke-width="0.75"/>
<clipPath id="c85"><rect x="434.00" y="364.70" width="13.80" height="52.70"/></clipPath>
<g clip-path="url(#c85)">
<path d="M434.05,417.90 L445.45,364.20" stroke="#141414" stroke-width="0.55"/>
<path d="M435.20,417.90 L446.60,364.20" stroke="#141414" stroke-width="0.55"/>
<path d="M436.35,417.90 L447.75,364.20" stroke="#141414" stroke-width="0.55"/>
</g>
<path d="M450.60,391.00 V565.80" stroke="#141414" stroke-width="1.10"/>
<path d="M467.30,364.70 V417.40 H453.50" stroke="#777" stroke-width="0.70"/>
<path d="M453.50,417.40 V364.70 H467.30" stroke="#141414" stroke-width="0.75"/>
<clipPath id="c86"><rect x="453.50" y="364.70" width="13.80" height="52.70"/></clipPath>
<g clip-path="url(#c86)">
<path d="M453.55,417.90 L464.95,364.20" stroke="#141414" stroke-width="0.55"/>
<path d="M454.70,417.90 L466.10,364.20" stroke="#141414" stroke-width="0.55"/>
<path d="M455.85,417.90 L467.25,364.20" stroke="#141414" stroke-width="0.55"/>
</g>
<path d="M470.10,391.00 V565.80" stroke="#141414" stroke-width="1.10"/>
<path d="M486.80,364.70 V417.40 H473.00" stroke="#777" stroke-width="0.70"/>
<path d="M473.00,417.40 V364.70 H486.80" stroke="#141414" stroke-width="0.75"/>
<clipPath id="c87"><rect x="473.00" y="364.70" width="13.80" height="52.70"/></clipPath>
<g clip-path="url(#c87)">
<path d="M473.05,417.90 L484.45,364.20" stroke="#141414" stroke-width="0.55"/>
<path d="M474.20,417.90 L485.60,364.20" stroke="#141414" stroke-width="0.55"/>
<path d="M475.35,417.90 L486.75,364.20" stroke="#141414" stroke-width="0.55"/>
</g>
<path d="M489.60,391.00 V565.80" stroke="#141414" stroke-width="1.10"/>
<path d="M506.30,364.70 V417.40 H492.50" stroke="#777" stroke-width="0.70"/>
<path d="M492.50,417.40 V364.70 H506.30" stroke="#141414" stroke-width="0.75"/>
<clipPath id="c88"><rect x="492.50" y="364.70" width="13.80" height="52.70"/></clipPath>
<g clip-path="url(#c88)">
<path d="M492.55,417.90 L503.95,364.20" stroke="#141414" stroke-width="0.55"/>
<path d="M493.70,417.90 L505.10,364.20" stroke="#141414" stroke-width="0.55"/>
<path d="M494.85,417.90 L506.25,364.20" stroke="#141414" stroke-width="0.55"/>
</g>
<path d="M509.10,391.00 V565.80" stroke="#141414" stroke-width="1.10"/>
<path d="M525.80,364.70 V417.40 H512.00" stroke="#777" stroke-width="0.70"/>
<path d="M512.00,417.40 V364.70 H525.80" stroke="#141414" stroke-width="0.75"/>
<clipPath id="c89"><rect x="512.00" y="364.70" width="13.80" height="52.70"/></clipPath>
<g clip-path="url(#c89)">
<path d="M512.05,417.90 L523.45,364.20" stroke="#141414" stroke-width="0.55"/>
<path d="M513.20,417.90 L524.60,364.20" stroke="#141414" stroke-width="0.55"/>
<path d="M514.35,417.90 L525.75,364.20" stroke="#141414" stroke-width="0.55"/>
</g>
<path d="M528.60,391.00 V565.80" stroke="#141414" stroke-width="1.10"/>
<path d="M545.30,364.70 V417.40 H531.50" stroke="#777" stroke-width="0.70"/>
<path d="M531.50,417.40 V364.70 H545.30" stroke="#141414" stroke-width="0.75"/>
<clipPath id="c90"><rect x="531.50" y="364.70" width="13.80" height="52.70"/></clipPath>
<g clip-path="url(#c90)">
<path d="M531.55,417.90 L542.95,364.20" stroke="#141414" stroke-width="0.55"/>
<path d="M532.70,417.90 L544.10,364.20" stroke="#141414" stroke-width="0.55"/>
<path d="M533.85,417.90 L545.25,364.20" stroke="#141414" stroke-width="0.55"/>
</g>
<path d="M548.10,391.00 V565.80" stroke="#141414" stroke-width="1.10"/>
<path d="M564.80,364.70 V417.40 H551.00" stroke="#777" stroke-width="0.70"/>
<path d="M551.00,417.40 V364.70 H564.80" stroke="#141414" stroke-width="0.75"/>
<clipPath id="c91"><rect x="551.00" y="364.70" width="13.80" height="52.70"/></clipPath>
<g clip-path="url(#c91)">
<path d="M551.05,417.90 L562.45,364.20" stroke="#141414" stroke-width="0.55"/>
<path d="M552.20,417.90 L563.60,364.20" stroke="#141414" stroke-width="0.55"/>
<path d="M553.35,417.90 L564.75,364.20" stroke="#141414" stroke-width="0.55"/>
</g>
<path d="M567.60,391.00 V565.80" stroke="#141414" stroke-width="1.10"/>
<path d="M584.30,364.70 V417.40 H570.50" stroke="#777" stroke-width="0.70"/>
<path d="M570.50,417.40 V364.70 H584.30" stroke="#141414" stroke-width="0.75"/>
<clipPath id="c92"><rect x="570.50" y="364.70" width="13.80" height="52.70"/></clipPath>
<g clip-path="url(#c92)">
<path d="M570.55,417.90 L581.95,364.20" stroke="#141414" stroke-width="0.55"/>
<path d="M571.70,417.90 L583.10,364.20" stroke="#141414" stroke-width="0.55"/>
<path d="M572.85,417.90 L584.25,364.20" stroke="#141414" stroke-width="0.55"/>
</g>
<path d="M587.10,391.00 V565.80" stroke="#141414" stroke-width="1.10"/>
<path d="M603.80,364.70 V417.40 H590.00" stroke="#777" stroke-width="0.70"/>
<path d="M590.00,417.40 V364.70 H603.80" stroke="#141414" stroke-width="0.75"/>
<clipPath id="c93"><rect x="590.00" y="364.70" width="13.80" height="52.70"/></clipPath>
<g clip-path="url(#c93)">
<path d="M590.05,417.90 L601.45,364.20" stroke="#141414" stroke-width="0.55"/>
<path d="M591.20,417.90 L602.60,364.20" stroke="#141414" stroke-width="0.55"/>
<path d="M592.35,417.90 L603.75,364.20" stroke="#141414" stroke-width="0.55"/>
</g>
<path d="M420.80,420.40 H597.00" stroke="#141414" stroke-width="1.10"/>
<path d="M428.30,423.10 V475.80 H414.50" stroke="#777" stroke-width="0.70"/>
<path d="M414.50,475.80 V423.10 H428.30" stroke="#141414" stroke-width="0.75"/>
<clipPath id="c94"><rect x="414.50" y="423.10" width="13.80" height="52.70"/></clipPath>
<g clip-path="url(#c94)">
<path d="M414.55,476.30 L425.95,422.60" stroke="#141414" stroke-width="0.55"/>
<path d="M415.70,476.30 L427.10,422.60" stroke="#141414" stroke-width="0.55"/>
<path d="M416.85,476.30 L428.25,422.60" stroke="#141414" stroke-width="0.55"/>
</g>
<path d="M447.80,423.10 V475.80 H434.00" stroke="#777" stroke-width="0.70"/>
<path d="M434.00,475.80 V423.10 H447.80" stroke="#141414" stroke-width="0.75"/>
<clipPath id="c95"><rect x="434.00" y="423.10" width="13.80" height="52.70"/></clipPath>
<g clip-path="url(#c95)">
<path d="M434.05,476.30 L445.45,422.60" stroke="#141414" stroke-width="0.55"/>
<path d="M435.20,476.30 L446.60,422.60" stroke="#141414" stroke-width="0.55"/>
<path d="M436.35,476.30 L447.75,422.60" stroke="#141414" stroke-width="0.55"/>
</g>
<path d="M467.30,423.10 V475.80 H453.50" stroke="#777" stroke-width="0.70"/>
<path d="M453.50,475.80 V423.10 H467.30" stroke="#141414" stroke-width="0.75"/>
<clipPath id="c96"><rect x="453.50" y="423.10" width="13.80" height="52.70"/></clipPath>
<g clip-path="url(#c96)">
<path d="M453.55,476.30 L464.95,422.60" stroke="#141414" stroke-width="0.55"/>
<path d="M454.70,476.30 L466.10,422.60" stroke="#141414" stroke-width="0.55"/>
<path d="M455.85,476.30 L467.25,422.60" stroke="#141414" stroke-width="0.55"/>
</g>
<path d="M486.80,423.10 V475.80 H473.00" stroke="#777" stroke-width="0.70"/>
<path d="M473.00,475.80 V423.10 H486.80" stroke="#141414" stroke-width="0.75"/>
<clipPath id="c97"><rect x="473.00" y="423.10" width="13.80" height="52.70"/></clipPath>
<g clip-path="url(#c97)">
<path d="M473.05,476.30 L484.45,422.60" stroke="#141414" stroke-width="0.55"/>
<path d="M474.20,476.30 L485.60,422.60" stroke="#141414" stroke-width="0.55"/>
<path d="M475.35,476.30 L486.75,422.60" stroke="#141414" stroke-width="0.55"/>
</g>
<path d="M506.30,423.10 V475.80 H492.50" stroke="#777" stroke-width="0.70"/>
<path d="M492.50,475.80 V423.10 H506.30" stroke="#141414" stroke-width="0.75"/>
<clipPath id="c98"><rect x="492.50" y="423.10" width="13.80" height="52.70"/></clipPath>
<g clip-path="url(#c98)">
<path d="M492.55,476.30 L503.95,422.60" stroke="#141414" stroke-width="0.55"/>
<path d="M493.70,476.30 L505.10,422.60" stroke="#141414" stroke-width="0.55"/>
<path d="M494.85,476.30 L506.25,422.60" stroke="#141414" stroke-width="0.55"/>
</g>
<path d="M525.80,423.10 V475.80 H512.00" stroke="#777" stroke-width="0.70"/>
<path d="M512.00,475.80 V423.10 H525.80" stroke="#141414" stroke-width="0.75"/>
<clipPath id="c99"><rect x="512.00" y="423.10" width="13.80" height="52.70"/></clipPath>
<g clip-path="url(#c99)">
<path d="M512.05,476.30 L523.45,422.60" stroke="#141414" stroke-width="0.55"/>
<path d="M513.20,476.30 L524.60,422.60" stroke="#141414" stroke-width="0.55"/>
<path d="M514.35,476.30 L525.75,422.60" stroke="#141414" stroke-width="0.55"/>
</g>
<path d="M545.30,423.10 V475.80 H531.50" stroke="#777" stroke-width="0.70"/>
<path d="M531.50,475.80 V423.10 H545.30" stroke="#141414" stroke-width="0.75"/>
<clipPath id="c100"><rect x="531.50" y="423.10" width="13.80" height="52.70"/></clipPath>
<g clip-path="url(#c100)">
<path d="M531.55,476.30 L542.95,422.60" stroke="#141414" stroke-width="0.55"/>
<path d="M532.70,476.30 L544.10,422.60" stroke="#141414" stroke-width="0.55"/>
<path d="M533.85,476.30 L545.25,422.60" stroke="#141414" stroke-width="0.55"/>
</g>
<path d="M564.80,423.10 V475.80 H551.00" stroke="#777" stroke-width="0.70"/>
<path d="M551.00,475.80 V423.10 H564.80" stroke="#141414" stroke-width="0.75"/>
<clipPath id="c101"><rect x="551.00" y="423.10" width="13.80" height="52.70"/></clipPath>
<g clip-path="url(#c101)">
<path d="M551.05,476.30 L562.45,422.60" stroke="#141414" stroke-width="0.55"/>
<path d="M552.20,476.30 L563.60,422.60" stroke="#141414" stroke-width="0.55"/>
<path d="M553.35,476.30 L564.75,422.60" stroke="#141414" stroke-width="0.55"/>
</g>
<path d="M584.30,423.10 V475.80 H570.50" stroke="#777" stroke-width="0.70"/>
<path d="M570.50,475.80 V423.10 H584.30" stroke="#141414" stroke-width="0.75"/>
<clipPath id="c102"><rect x="570.50" y="423.10" width="13.80" height="52.70"/></clipPath>
<g clip-path="url(#c102)">
<path d="M570.55,476.30 L581.95,422.60" stroke="#141414" stroke-width="0.55"/>
<path d="M571.70,476.30 L583.10,422.60" stroke="#141414" stroke-width="0.55"/>
<path d="M572.85,476.30 L584.25,422.60" stroke="#141414" stroke-width="0.55"/>
</g>
<path d="M603.80,423.10 V475.80 H590.00" stroke="#777" stroke-width="0.70"/>
<path d="M590.00,475.80 V423.10 H603.80" stroke="#141414" stroke-width="0.75"/>
<clipPath id="c103"><rect x="590.00" y="423.10" width="13.80" height="52.70"/></clipPath>
<g clip-path="url(#c103)">
<path d="M590.05,476.30 L601.45,422.60" stroke="#141414" stroke-width="0.55"/>
<path d="M591.20,476.30 L602.60,422.60" stroke="#141414" stroke-width="0.55"/>
<path d="M592.35,476.30 L603.75,422.60" stroke="#141414" stroke-width="0.55"/>
</g>
<path d="M420.80,478.80 H597.00" stroke="#141414" stroke-width="1.10"/>
<path d="M428.30,481.50 V534.20 H414.50" stroke="#777" stroke-width="0.70"/>
<path d="M414.50,534.20 V481.50 H428.30" stroke="#141414" stroke-width="0.75"/>
<clipPath id="c104"><rect x="414.50" y="481.50" width="13.80" height="52.70"/></clipPath>
<g clip-path="url(#c104)">
<path d="M414.55,534.70 L425.95,481.00" stroke="#141414" stroke-width="0.55"/>
<path d="M415.70,534.70 L427.10,481.00" stroke="#141414" stroke-width="0.55"/>
<path d="M416.85,534.70 L428.25,481.00" stroke="#141414" stroke-width="0.55"/>
</g>
<path d="M447.80,481.50 V534.20 H434.00" stroke="#777" stroke-width="0.70"/>
<path d="M434.00,534.20 V481.50 H447.80" stroke="#141414" stroke-width="0.75"/>
<clipPath id="c105"><rect x="434.00" y="481.50" width="13.80" height="52.70"/></clipPath>
<g clip-path="url(#c105)">
<path d="M434.05,534.70 L445.45,481.00" stroke="#141414" stroke-width="0.55"/>
<path d="M435.20,534.70 L446.60,481.00" stroke="#141414" stroke-width="0.55"/>
<path d="M436.35,534.70 L447.75,481.00" stroke="#141414" stroke-width="0.55"/>
</g>
<path d="M467.30,481.50 V534.20 H453.50" stroke="#777" stroke-width="0.70"/>
<path d="M453.50,534.20 V481.50 H467.30" stroke="#141414" stroke-width="0.75"/>
<clipPath id="c106"><rect x="453.50" y="481.50" width="13.80" height="52.70"/></clipPath>
<g clip-path="url(#c106)">
<path d="M453.55,534.70 L464.95,481.00" stroke="#141414" stroke-width="0.55"/>
<path d="M454.70,534.70 L466.10,481.00" stroke="#141414" stroke-width="0.55"/>
<path d="M455.85,534.70 L467.25,481.00" stroke="#141414" stroke-width="0.55"/>
</g>
<path d="M486.80,481.50 V534.20 H473.00" stroke="#777" stroke-width="0.70"/>
<path d="M473.00,534.20 V481.50 H486.80" stroke="#141414" stroke-width="0.75"/>
<clipPath id="c107"><rect x="473.00" y="481.50" width="13.80" height="52.70"/></clipPath>
<g clip-path="url(#c107)">
<path d="M473.05,534.70 L484.45,481.00" stroke="#141414" stroke-width="0.55"/>
<path d="M474.20,534.70 L485.60,481.00" stroke="#141414" stroke-width="0.55"/>
<path d="M475.35,534.70 L486.75,481.00" stroke="#141414" stroke-width="0.55"/>
</g>
<path d="M506.30,481.50 V534.20 H492.50" stroke="#777" stroke-width="0.70"/>
<path d="M492.50,534.20 V481.50 H506.30" stroke="#141414" stroke-width="0.75"/>
<clipPath id="c108"><rect x="492.50" y="481.50" width="13.80" height="52.70"/></clipPath>
<g clip-path="url(#c108)">
<path d="M492.55,534.70 L503.95,481.00" stroke="#141414" stroke-width="0.55"/>
<path d="M493.70,534.70 L505.10,481.00" stroke="#141414" stroke-width="0.55"/>
<path d="M494.85,534.70 L506.25,481.00" stroke="#141414" stroke-width="0.55"/>
</g>
<path d="M525.80,481.50 V534.20 H512.00" stroke="#777" stroke-width="0.70"/>
<path d="M512.00,534.20 V481.50 H525.80" stroke="#141414" stroke-width="0.75"/>
<clipPath id="c109"><rect x="512.00" y="481.50" width="13.80" height="52.70"/></clipPath>
<g clip-path="url(#c109)">
<path d="M512.05,534.70 L523.45,481.00" stroke="#141414" stroke-width="0.55"/>
<path d="M513.20,534.70 L524.60,481.00" stroke="#141414" stroke-width="0.55"/>
<path d="M514.35,534.70 L525.75,481.00" stroke="#141414" stroke-width="0.55"/>
</g>
<path d="M545.30,481.50 V534.20 H531.50" stroke="#777" stroke-width="0.70"/>
<path d="M531.50,534.20 V481.50 H545.30" stroke="#141414" stroke-width="0.75"/>
<clipPath id="c110"><rect x="531.50" y="481.50" width="13.80" height="52.70"/></clipPath>
<g clip-path="url(#c110)">
<path d="M531.55,534.70 L542.95,481.00" stroke="#141414" stroke-width="0.55"/>
<path d="M532.70,534.70 L544.10,481.00" stroke="#141414" stroke-width="0.55"/>
<path d="M533.85,534.70 L545.25,481.00" stroke="#141414" stroke-width="0.55"/>
</g>
<path d="M564.80,481.50 V534.20 H551.00" stroke="#777" stroke-width="0.70"/>
<path d="M551.00,534.20 V481.50 H564.80" stroke="#141414" stroke-width="0.75"/>
<clipPath id="c111"><rect x="551.00" y="481.50" width="13.80" height="52.70"/></clipPath>
<g clip-path="url(#c111)">
<path d="M551.05,534.70 L562.45,481.00" stroke="#141414" stroke-width="0.55"/>
<path d="M552.20,534.70 L563.60,481.00" stroke="#141414" stroke-width="0.55"/>
<path d="M553.35,534.70 L564.75,481.00" stroke="#141414" stroke-width="0.55"/>
</g>
<path d="M584.30,481.50 V534.20 H570.50" stroke="#777" stroke-width="0.70"/>
<path d="M570.50,534.20 V481.50 H584.30" stroke="#141414" stroke-width="0.75"/>
<clipPath id="c112"><rect x="570.50" y="481.50" width="13.80" height="52.70"/></clipPath>
<g clip-path="url(#c112)">
<path d="M570.55,534.70 L581.95,481.00" stroke="#141414" stroke-width="0.55"/>
<path d="M571.70,534.70 L583.10,481.00" stroke="#141414" stroke-width="0.55"/>
<path d="M572.85,534.70 L584.25,481.00" stroke="#141414" stroke-width="0.55"/>
</g>
<path d="M603.80,481.50 V534.20 H590.00" stroke="#777" stroke-width="0.70"/>
<path d="M590.00,534.20 V481.50 H603.80" stroke="#141414" stroke-width="0.75"/>
<clipPath id="c113"><rect x="590.00" y="481.50" width="13.80" height="52.70"/></clipPath>
<g clip-path="url(#c113)">
<path d="M590.05,534.70 L601.45,481.00" stroke="#141414" stroke-width="0.55"/>
<path d="M591.20,534.70 L602.60,481.00" stroke="#141414" stroke-width="0.55"/>
<path d="M592.35,534.70 L603.75,481.00" stroke="#141414" stroke-width="0.55"/>
</g>
<path d="M420.80,537.20 H597.00" stroke="#141414" stroke-width="1.10"/>
<path d="M428.30,539.90 V592.60 H414.50" stroke="#777" stroke-width="0.70"/>
<path d="M414.50,592.60 V539.90 H428.30" stroke="#141414" stroke-width="0.75"/>
<clipPath id="c114"><rect x="414.50" y="539.90" width="13.80" height="52.70"/></clipPath>
<g clip-path="url(#c114)">
<path d="M414.55,593.10 L425.95,539.40" stroke="#141414" stroke-width="0.55"/>
<path d="M415.70,593.10 L427.10,539.40" stroke="#141414" stroke-width="0.55"/>
<path d="M416.85,593.10 L428.25,539.40" stroke="#141414" stroke-width="0.55"/>
</g>
<path d="M447.80,539.90 V592.60 H434.00" stroke="#777" stroke-width="0.70"/>
<path d="M434.00,592.60 V539.90 H447.80" stroke="#141414" stroke-width="0.75"/>
<clipPath id="c115"><rect x="434.00" y="539.90" width="13.80" height="52.70"/></clipPath>
<g clip-path="url(#c115)">
<path d="M434.05,593.10 L445.45,539.40" stroke="#141414" stroke-width="0.55"/>
<path d="M435.20,593.10 L446.60,539.40" stroke="#141414" stroke-width="0.55"/>
<path d="M436.35,593.10 L447.75,539.40" stroke="#141414" stroke-width="0.55"/>
</g>
<path d="M467.30,539.90 V592.60 H453.50" stroke="#777" stroke-width="0.70"/>
<path d="M453.50,592.60 V539.90 H467.30" stroke="#141414" stroke-width="0.75"/>
<clipPath id="c116"><rect x="453.50" y="539.90" width="13.80" height="52.70"/></clipPath>
<g clip-path="url(#c116)">
<path d="M453.55,593.10 L464.95,539.40" stroke="#141414" stroke-width="0.55"/>
<path d="M454.70,593.10 L466.10,539.40" stroke="#141414" stroke-width="0.55"/>
<path d="M455.85,593.10 L467.25,539.40" stroke="#141414" stroke-width="0.55"/>
</g>
<path d="M486.80,539.90 V592.60 H473.00" stroke="#777" stroke-width="0.70"/>
<path d="M473.00,592.60 V539.90 H486.80" stroke="#141414" stroke-width="0.75"/>
<clipPath id="c117"><rect x="473.00" y="539.90" width="13.80" height="52.70"/></clipPath>
<g clip-path="url(#c117)">
<path d="M473.05,593.10 L484.45,539.40" stroke="#141414" stroke-width="0.55"/>
<path d="M474.20,593.10 L485.60,539.40" stroke="#141414" stroke-width="0.55"/>
<path d="M475.35,593.10 L486.75,539.40" stroke="#141414" stroke-width="0.55"/>
</g>
<path d="M506.30,539.90 V592.60 H492.50" stroke="#777" stroke-width="0.70"/>
<path d="M492.50,592.60 V539.90 H506.30" stroke="#141414" stroke-width="0.75"/>
<clipPath id="c118"><rect x="492.50" y="539.90" width="13.80" height="52.70"/></clipPath>
<g clip-path="url(#c118)">
<path d="M492.55,593.10 L503.95,539.40" stroke="#141414" stroke-width="0.55"/>
<path d="M493.70,593.10 L505.10,539.40" stroke="#141414" stroke-width="0.55"/>
<path d="M494.85,593.10 L506.25,539.40" stroke="#141414" stroke-width="0.55"/>
</g>
<path d="M525.80,539.90 V592.60 H512.00" stroke="#777" stroke-width="0.70"/>
<path d="M512.00,592.60 V539.90 H525.80" stroke="#141414" stroke-width="0.75"/>
<clipPath id="c119"><rect x="512.00" y="539.90" width="13.80" height="52.70"/></clipPath>
<g clip-path="url(#c119)">
<path d="M512.05,593.10 L523.45,539.40" stroke="#141414" stroke-width="0.55"/>
<path d="M513.20,593.10 L524.60,539.40" stroke="#141414" stroke-width="0.55"/>
<path d="M514.35,593.10 L525.75,539.40" stroke="#141414" stroke-width="0.55"/>
</g>
<path d="M545.30,539.90 V592.60 H531.50" stroke="#777" stroke-width="0.70"/>
<path d="M531.50,592.60 V539.90 H545.30" stroke="#141414" stroke-width="0.75"/>
<clipPath id="c120"><rect x="531.50" y="539.90" width="13.80" height="52.70"/></clipPath>
<g clip-path="url(#c120)">
<path d="M531.55,593.10 L542.95,539.40" stroke="#141414" stroke-width="0.55"/>
<path d="M532.70,593.10 L544.10,539.40" stroke="#141414" stroke-width="0.55"/>
<path d="M533.85,593.10 L545.25,539.40" stroke="#141414" stroke-width="0.55"/>
</g>
<path d="M564.80,539.90 V592.60 H551.00" stroke="#777" stroke-width="0.70"/>
<path d="M551.00,592.60 V539.90 H564.80" stroke="#141414" stroke-width="0.75"/>
<clipPath id="c121"><rect x="551.00" y="539.90" width="13.80" height="52.70"/></clipPath>
<g clip-path="url(#c121)">
<path d="M551.05,593.10 L562.45,539.40" stroke="#141414" stroke-width="0.55"/>
<path d="M552.20,593.10 L563.60,539.40" stroke="#141414" stroke-width="0.55"/>
<path d="M553.35,593.10 L564.75,539.40" stroke="#141414" stroke-width="0.55"/>
</g>
<path d="M584.30,539.90 V592.60 H570.50" stroke="#777" stroke-width="0.70"/>
<path d="M570.50,592.60 V539.90 H584.30" stroke="#141414" stroke-width="0.75"/>
<clipPath id="c122"><rect x="570.50" y="539.90" width="13.80" height="52.70"/></clipPath>
<g clip-path="url(#c122)">
<path d="M570.55,593.10 L581.95,539.40" stroke="#141414" stroke-width="0.55"/>
<path d="M571.70,593.10 L583.10,539.40" stroke="#141414" stroke-width="0.55"/>
<path d="M572.85,593.10 L584.25,539.40" stroke="#141414" stroke-width="0.55"/>
</g>
<path d="M603.80,539.90 V592.60 H590.00" stroke="#777" stroke-width="0.70"/>
<path d="M590.00,592.60 V539.90 H603.80" stroke="#141414" stroke-width="0.75"/>
<clipPath id="c123"><rect x="590.00" y="539.90" width="13.80" height="52.70"/></clipPath>
<g clip-path="url(#c123)">
<path d="M590.05,593.10 L601.45,539.40" stroke="#141414" stroke-width="0.55"/>
<path d="M591.20,593.10 L602.60,539.40" stroke="#141414" stroke-width="0.55"/>
<path d="M592.35,593.10 L603.75,539.40" stroke="#141414" stroke-width="0.55"/>
</g>
</g>
<clipPath id="c124"><rect x="625.00" y="391.00" width="175.50" height="174.80"/></clipPath>
<g clip-path="url(#c124)">
<rect x="607.90" y="384.00" width="34.90" height="15.10" stroke="#141414" stroke-width="0.85"/>
<clipPath id="c125"><rect x="607.90" y="384.00" width="34.90" height="15.10"/></clipPath>
<g clip-path="url(#c125)">
<path d="M605.90,382.14 L644.80,399.24" stroke="#141414" stroke-width="0.85"/>
<path d="M605.90,399.24 L644.80,382.14" stroke="#141414" stroke-width="0.85"/>
<path d="M605.90,383.86 L644.80,400.96" stroke="#141414" stroke-width="0.85"/>
<path d="M605.90,400.96 L644.80,383.86" stroke="#141414" stroke-width="0.85"/>
</g>
<path d="M644.80,391.00 V401.10" stroke="#141414" stroke-width="0.85"/>
<rect x="646.80" y="384.00" width="34.90" height="15.10" stroke="#141414" stroke-width="0.85"/>
<clipPath id="c126"><rect x="646.80" y="384.00" width="34.90" height="15.10"/></clipPath>
<g clip-path="url(#c126)">
<path d="M644.80,382.14 L683.70,399.24" stroke="#141414" stroke-width="0.85"/>
<path d="M644.80,399.24 L683.70,382.14" stroke="#141414" stroke-width="0.85"/>
<path d="M644.80,383.86 L683.70,400.96" stroke="#141414" stroke-width="0.85"/>
<path d="M644.80,400.96 L683.70,383.86" stroke="#141414" stroke-width="0.85"/>
</g>
<path d="M683.70,391.00 V401.10" stroke="#141414" stroke-width="0.85"/>
<rect x="685.70" y="384.00" width="34.90" height="15.10" stroke="#141414" stroke-width="0.85"/>
<clipPath id="c127"><rect x="685.70" y="384.00" width="34.90" height="15.10"/></clipPath>
<g clip-path="url(#c127)">
<path d="M683.70,382.14 L722.60,399.24" stroke="#141414" stroke-width="0.85"/>
<path d="M683.70,399.24 L722.60,382.14" stroke="#141414" stroke-width="0.85"/>
<path d="M683.70,383.86 L722.60,400.96" stroke="#141414" stroke-width="0.85"/>
<path d="M683.70,400.96 L722.60,383.86" stroke="#141414" stroke-width="0.85"/>
</g>
<path d="M722.60,391.00 V401.10" stroke="#141414" stroke-width="0.85"/>
<rect x="724.60" y="384.00" width="34.90" height="15.10" stroke="#141414" stroke-width="0.85"/>
<clipPath id="c128"><rect x="724.60" y="384.00" width="34.90" height="15.10"/></clipPath>
<g clip-path="url(#c128)">
<path d="M722.60,382.14 L761.50,399.24" stroke="#141414" stroke-width="0.85"/>
<path d="M722.60,399.24 L761.50,382.14" stroke="#141414" stroke-width="0.85"/>
<path d="M722.60,383.86 L761.50,400.96" stroke="#141414" stroke-width="0.85"/>
<path d="M722.60,400.96 L761.50,383.86" stroke="#141414" stroke-width="0.85"/>
</g>
<path d="M761.50,391.00 V401.10" stroke="#141414" stroke-width="0.85"/>
<rect x="763.50" y="384.00" width="34.90" height="15.10" stroke="#141414" stroke-width="0.85"/>
<clipPath id="c129"><rect x="763.50" y="384.00" width="34.90" height="15.10"/></clipPath>
<g clip-path="url(#c129)">
<path d="M761.50,382.14 L800.40,399.24" stroke="#141414" stroke-width="0.85"/>
<path d="M761.50,399.24 L800.40,382.14" stroke="#141414" stroke-width="0.85"/>
<path d="M761.50,383.86 L800.40,400.96" stroke="#141414" stroke-width="0.85"/>
<path d="M761.50,400.96 L800.40,383.86" stroke="#141414" stroke-width="0.85"/>
</g>
<path d="M800.40,391.00 V401.10" stroke="#141414" stroke-width="0.85"/>
<rect x="802.40" y="384.00" width="34.90" height="15.10" stroke="#141414" stroke-width="0.85"/>
<clipPath id="c130"><rect x="802.40" y="384.00" width="34.90" height="15.10"/></clipPath>
<g clip-path="url(#c130)">
<path d="M800.40,382.14 L839.30,399.24" stroke="#141414" stroke-width="0.85"/>
<path d="M800.40,399.24 L839.30,382.14" stroke="#141414" stroke-width="0.85"/>
<path d="M800.40,383.86 L839.30,400.96" stroke="#141414" stroke-width="0.85"/>
<path d="M800.40,400.96 L839.30,383.86" stroke="#141414" stroke-width="0.85"/>
</g>
<path d="M625.00,401.10 H800.50" stroke="#141414" stroke-width="0.85"/>
<rect x="589.00" y="403.10" width="34.90" height="15.10" stroke="#141414" stroke-width="0.85"/>
<clipPath id="c131"><rect x="589.00" y="403.10" width="34.90" height="15.10"/></clipPath>
<g clip-path="url(#c131)">
<path d="M587.00,401.24 L625.90,418.34" stroke="#141414" stroke-width="0.85"/>
<path d="M587.00,418.34 L625.90,401.24" stroke="#141414" stroke-width="0.85"/>
<path d="M587.00,402.96 L625.90,420.06" stroke="#141414" stroke-width="0.85"/>
<path d="M587.00,420.06 L625.90,402.96" stroke="#141414" stroke-width="0.85"/>
</g>
<path d="M625.90,401.10 V420.20" stroke="#141414" stroke-width="0.85"/>
<rect x="627.90" y="403.10" width="34.90" height="15.10" stroke="#141414" stroke-width="0.85"/>
<clipPath id="c132"><rect x="627.90" y="403.10" width="34.90" height="15.10"/></clipPath>
<g clip-path="url(#c132)">
<path d="M625.90,401.24 L664.80,418.34" stroke="#141414" stroke-width="0.85"/>
<path d="M625.90,418.34 L664.80,401.24" stroke="#141414" stroke-width="0.85"/>
<path d="M625.90,402.96 L664.80,420.06" stroke="#141414" stroke-width="0.85"/>
<path d="M625.90,420.06 L664.80,402.96" stroke="#141414" stroke-width="0.85"/>
</g>
<path d="M664.80,401.10 V420.20" stroke="#141414" stroke-width="0.85"/>
<rect x="666.80" y="403.10" width="34.90" height="15.10" stroke="#141414" stroke-width="0.85"/>
<clipPath id="c133"><rect x="666.80" y="403.10" width="34.90" height="15.10"/></clipPath>
<g clip-path="url(#c133)">
<path d="M664.80,401.24 L703.70,418.34" stroke="#141414" stroke-width="0.85"/>
<path d="M664.80,418.34 L703.70,401.24" stroke="#141414" stroke-width="0.85"/>
<path d="M664.80,402.96 L703.70,420.06" stroke="#141414" stroke-width="0.85"/>
<path d="M664.80,420.06 L703.70,402.96" stroke="#141414" stroke-width="0.85"/>
</g>
<path d="M703.70,401.10 V420.20" stroke="#141414" stroke-width="0.85"/>
<rect x="705.70" y="403.10" width="34.90" height="15.10" stroke="#141414" stroke-width="0.85"/>
<clipPath id="c134"><rect x="705.70" y="403.10" width="34.90" height="15.10"/></clipPath>
<g clip-path="url(#c134)">
<path d="M703.70,401.24 L742.60,418.34" stroke="#141414" stroke-width="0.85"/>
<path d="M703.70,418.34 L742.60,401.24" stroke="#141414" stroke-width="0.85"/>
<path d="M703.70,402.96 L742.60,420.06" stroke="#141414" stroke-width="0.85"/>
<path d="M703.70,420.06 L742.60,402.96" stroke="#141414" stroke-width="0.85"/>
</g>
<path d="M742.60,401.10 V420.20" stroke="#141414" stroke-width="0.85"/>
<rect x="744.60" y="403.10" width="34.90" height="15.10" stroke="#141414" stroke-width="0.85"/>
<clipPath id="c135"><rect x="744.60" y="403.10" width="34.90" height="15.10"/></clipPath>
<g clip-path="url(#c135)">
<path d="M742.60,401.24 L781.50,418.34" stroke="#141414" stroke-width="0.85"/>
<path d="M742.60,418.34 L781.50,401.24" stroke="#141414" stroke-width="0.85"/>
<path d="M742.60,402.96 L781.50,420.06" stroke="#141414" stroke-width="0.85"/>
<path d="M742.60,420.06 L781.50,402.96" stroke="#141414" stroke-width="0.85"/>
</g>
<path d="M781.50,401.10 V420.20" stroke="#141414" stroke-width="0.85"/>
<rect x="783.50" y="403.10" width="34.90" height="15.10" stroke="#141414" stroke-width="0.85"/>
<clipPath id="c136"><rect x="783.50" y="403.10" width="34.90" height="15.10"/></clipPath>
<g clip-path="url(#c136)">
<path d="M781.50,401.24 L820.40,418.34" stroke="#141414" stroke-width="0.85"/>
<path d="M781.50,418.34 L820.40,401.24" stroke="#141414" stroke-width="0.85"/>
<path d="M781.50,402.96 L820.40,420.06" stroke="#141414" stroke-width="0.85"/>
<path d="M781.50,420.06 L820.40,402.96" stroke="#141414" stroke-width="0.85"/>
</g>
<path d="M625.00,420.20 H800.50" stroke="#141414" stroke-width="0.85"/>
<rect x="607.90" y="422.20" width="34.90" height="15.10" stroke="#141414" stroke-width="0.85"/>
<clipPath id="c137"><rect x="607.90" y="422.20" width="34.90" height="15.10"/></clipPath>
<g clip-path="url(#c137)">
<path d="M605.90,420.34 L644.80,437.44" stroke="#141414" stroke-width="0.85"/>
<path d="M605.90,437.44 L644.80,420.34" stroke="#141414" stroke-width="0.85"/>
<path d="M605.90,422.06 L644.80,439.16" stroke="#141414" stroke-width="0.85"/>
<path d="M605.90,439.16 L644.80,422.06" stroke="#141414" stroke-width="0.85"/>
</g>
<path d="M644.80,420.20 V439.30" stroke="#141414" stroke-width="0.85"/>
<rect x="646.80" y="422.20" width="34.90" height="15.10" stroke="#141414" stroke-width="0.85"/>
<clipPath id="c138"><rect x="646.80" y="422.20" width="34.90" height="15.10"/></clipPath>
<g clip-path="url(#c138)">
<path d="M644.80,420.34 L683.70,437.44" stroke="#141414" stroke-width="0.85"/>
<path d="M644.80,437.44 L683.70,420.34" stroke="#141414" stroke-width="0.85"/>
<path d="M644.80,422.06 L683.70,439.16" stroke="#141414" stroke-width="0.85"/>
<path d="M644.80,439.16 L683.70,422.06" stroke="#141414" stroke-width="0.85"/>
</g>
<path d="M683.70,420.20 V439.30" stroke="#141414" stroke-width="0.85"/>
<rect x="685.70" y="422.20" width="34.90" height="15.10" stroke="#141414" stroke-width="0.85"/>
<clipPath id="c139"><rect x="685.70" y="422.20" width="34.90" height="15.10"/></clipPath>
<g clip-path="url(#c139)">
<path d="M683.70,420.34 L722.60,437.44" stroke="#141414" stroke-width="0.85"/>
<path d="M683.70,437.44 L722.60,420.34" stroke="#141414" stroke-width="0.85"/>
<path d="M683.70,422.06 L722.60,439.16" stroke="#141414" stroke-width="0.85"/>
<path d="M683.70,439.16 L722.60,422.06" stroke="#141414" stroke-width="0.85"/>
</g>
<path d="M722.60,420.20 V439.30" stroke="#141414" stroke-width="0.85"/>
<rect x="724.60" y="422.20" width="34.90" height="15.10" stroke="#141414" stroke-width="0.85"/>
<clipPath id="c140"><rect x="724.60" y="422.20" width="34.90" height="15.10"/></clipPath>
<g clip-path="url(#c140)">
<path d="M722.60,420.34 L761.50,437.44" stroke="#141414" stroke-width="0.85"/>
<path d="M722.60,437.44 L761.50,420.34" stroke="#141414" stroke-width="0.85"/>
<path d="M722.60,422.06 L761.50,439.16" stroke="#141414" stroke-width="0.85"/>
<path d="M722.60,439.16 L761.50,422.06" stroke="#141414" stroke-width="0.85"/>
</g>
<path d="M761.50,420.20 V439.30" stroke="#141414" stroke-width="0.85"/>
<rect x="763.50" y="422.20" width="34.90" height="15.10" stroke="#141414" stroke-width="0.85"/>
<clipPath id="c141"><rect x="763.50" y="422.20" width="34.90" height="15.10"/></clipPath>
<g clip-path="url(#c141)">
<path d="M761.50,420.34 L800.40,437.44" stroke="#141414" stroke-width="0.85"/>
<path d="M761.50,437.44 L800.40,420.34" stroke="#141414" stroke-width="0.85"/>
<path d="M761.50,422.06 L800.40,439.16" stroke="#141414" stroke-width="0.85"/>
<path d="M761.50,439.16 L800.40,422.06" stroke="#141414" stroke-width="0.85"/>
</g>
<path d="M800.40,420.20 V439.30" stroke="#141414" stroke-width="0.85"/>
<rect x="802.40" y="422.20" width="34.90" height="15.10" stroke="#141414" stroke-width="0.85"/>
<clipPath id="c142"><rect x="802.40" y="422.20" width="34.90" height="15.10"/></clipPath>
<g clip-path="url(#c142)">
<path d="M800.40,420.34 L839.30,437.44" stroke="#141414" stroke-width="0.85"/>
<path d="M800.40,437.44 L839.30,420.34" stroke="#141414" stroke-width="0.85"/>
<path d="M800.40,422.06 L839.30,439.16" stroke="#141414" stroke-width="0.85"/>
<path d="M800.40,439.16 L839.30,422.06" stroke="#141414" stroke-width="0.85"/>
</g>
<path d="M625.00,439.30 H800.50" stroke="#141414" stroke-width="0.85"/>
<rect x="589.00" y="441.30" width="34.90" height="15.10" stroke="#141414" stroke-width="0.85"/>
<clipPath id="c143"><rect x="589.00" y="441.30" width="34.90" height="15.10"/></clipPath>
<g clip-path="url(#c143)">
<path d="M587.00,439.44 L625.90,456.54" stroke="#141414" stroke-width="0.85"/>
<path d="M587.00,456.54 L625.90,439.44" stroke="#141414" stroke-width="0.85"/>
<path d="M587.00,441.16 L625.90,458.26" stroke="#141414" stroke-width="0.85"/>
<path d="M587.00,458.26 L625.90,441.16" stroke="#141414" stroke-width="0.85"/>
</g>
<path d="M625.90,439.30 V458.40" stroke="#141414" stroke-width="0.85"/>
<rect x="627.90" y="441.30" width="34.90" height="15.10" stroke="#141414" stroke-width="0.85"/>
<clipPath id="c144"><rect x="627.90" y="441.30" width="34.90" height="15.10"/></clipPath>
<g clip-path="url(#c144)">
<path d="M625.90,439.44 L664.80,456.54" stroke="#141414" stroke-width="0.85"/>
<path d="M625.90,456.54 L664.80,439.44" stroke="#141414" stroke-width="0.85"/>
<path d="M625.90,441.16 L664.80,458.26" stroke="#141414" stroke-width="0.85"/>
<path d="M625.90,458.26 L664.80,441.16" stroke="#141414" stroke-width="0.85"/>
</g>
<path d="M664.80,439.30 V458.40" stroke="#141414" stroke-width="0.85"/>
<rect x="666.80" y="441.30" width="34.90" height="15.10" stroke="#141414" stroke-width="0.85"/>
<clipPath id="c145"><rect x="666.80" y="441.30" width="34.90" height="15.10"/></clipPath>
<g clip-path="url(#c145)">
<path d="M664.80,439.44 L703.70,456.54" stroke="#141414" stroke-width="0.85"/>
<path d="M664.80,456.54 L703.70,439.44" stroke="#141414" stroke-width="0.85"/>
<path d="M664.80,441.16 L703.70,458.26" stroke="#141414" stroke-width="0.85"/>
<path d="M664.80,458.26 L703.70,441.16" stroke="#141414" stroke-width="0.85"/>
</g>
<path d="M703.70,439.30 V458.40" stroke="#141414" stroke-width="0.85"/>
<rect x="705.70" y="441.30" width="34.90" height="15.10" stroke="#141414" stroke-width="0.85"/>
<clipPath id="c146"><rect x="705.70" y="441.30" width="34.90" height="15.10"/></clipPath>
<g clip-path="url(#c146)">
<path d="M703.70,439.44 L742.60,456.54" stroke="#141414" stroke-width="0.85"/>
<path d="M703.70,456.54 L742.60,439.44" stroke="#141414" stroke-width="0.85"/>
<path d="M703.70,441.16 L742.60,458.26" stroke="#141414" stroke-width="0.85"/>
<path d="M703.70,458.26 L742.60,441.16" stroke="#141414" stroke-width="0.85"/>
</g>
<path d="M742.60,439.30 V458.40" stroke="#141414" stroke-width="0.85"/>
<rect x="744.60" y="441.30" width="34.90" height="15.10" stroke="#141414" stroke-width="0.85"/>
<clipPath id="c147"><rect x="744.60" y="441.30" width="34.90" height="15.10"/></clipPath>
<g clip-path="url(#c147)">
<path d="M742.60,439.44 L781.50,456.54" stroke="#141414" stroke-width="0.85"/>
<path d="M742.60,456.54 L781.50,439.44" stroke="#141414" stroke-width="0.85"/>
<path d="M742.60,441.16 L781.50,458.26" stroke="#141414" stroke-width="0.85"/>
<path d="M742.60,458.26 L781.50,441.16" stroke="#141414" stroke-width="0.85"/>
</g>
<path d="M781.50,439.30 V458.40" stroke="#141414" stroke-width="0.85"/>
<rect x="783.50" y="441.30" width="34.90" height="15.10" stroke="#141414" stroke-width="0.85"/>
<clipPath id="c148"><rect x="783.50" y="441.30" width="34.90" height="15.10"/></clipPath>
<g clip-path="url(#c148)">
<path d="M781.50,439.44 L820.40,456.54" stroke="#141414" stroke-width="0.85"/>
<path d="M781.50,456.54 L820.40,439.44" stroke="#141414" stroke-width="0.85"/>
<path d="M781.50,441.16 L820.40,458.26" stroke="#141414" stroke-width="0.85"/>
<path d="M781.50,458.26 L820.40,441.16" stroke="#141414" stroke-width="0.85"/>
</g>
<path d="M625.00,458.40 H800.50" stroke="#141414" stroke-width="0.85"/>
<rect x="607.90" y="460.40" width="34.90" height="15.10" stroke="#141414" stroke-width="0.85"/>
<clipPath id="c149"><rect x="607.90" y="460.40" width="34.90" height="15.10"/></clipPath>
<g clip-path="url(#c149)">
<path d="M605.90,458.54 L644.80,475.64" stroke="#141414" stroke-width="0.85"/>
<path d="M605.90,475.64 L644.80,458.54" stroke="#141414" stroke-width="0.85"/>
<path d="M605.90,460.26 L644.80,477.36" stroke="#141414" stroke-width="0.85"/>
<path d="M605.90,477.36 L644.80,460.26" stroke="#141414" stroke-width="0.85"/>
</g>
<path d="M644.80,458.40 V477.50" stroke="#141414" stroke-width="0.85"/>
<rect x="646.80" y="460.40" width="34.90" height="15.10" stroke="#141414" stroke-width="0.85"/>
<clipPath id="c150"><rect x="646.80" y="460.40" width="34.90" height="15.10"/></clipPath>
<g clip-path="url(#c150)">
<path d="M644.80,458.54 L683.70,475.64" stroke="#141414" stroke-width="0.85"/>
<path d="M644.80,475.64 L683.70,458.54" stroke="#141414" stroke-width="0.85"/>
<path d="M644.80,460.26 L683.70,477.36" stroke="#141414" stroke-width="0.85"/>
<path d="M644.80,477.36 L683.70,460.26" stroke="#141414" stroke-width="0.85"/>
</g>
<path d="M683.70,458.40 V477.50" stroke="#141414" stroke-width="0.85"/>
<rect x="685.70" y="460.40" width="34.90" height="15.10" stroke="#141414" stroke-width="0.85"/>
<clipPath id="c151"><rect x="685.70" y="460.40" width="34.90" height="15.10"/></clipPath>
<g clip-path="url(#c151)">
<path d="M683.70,458.54 L722.60,475.64" stroke="#141414" stroke-width="0.85"/>
<path d="M683.70,475.64 L722.60,458.54" stroke="#141414" stroke-width="0.85"/>
<path d="M683.70,460.26 L722.60,477.36" stroke="#141414" stroke-width="0.85"/>
<path d="M683.70,477.36 L722.60,460.26" stroke="#141414" stroke-width="0.85"/>
</g>
<path d="M722.60,458.40 V477.50" stroke="#141414" stroke-width="0.85"/>
<rect x="724.60" y="460.40" width="34.90" height="15.10" stroke="#141414" stroke-width="0.85"/>
<clipPath id="c152"><rect x="724.60" y="460.40" width="34.90" height="15.10"/></clipPath>
<g clip-path="url(#c152)">
<path d="M722.60,458.54 L761.50,475.64" stroke="#141414" stroke-width="0.85"/>
<path d="M722.60,475.64 L761.50,458.54" stroke="#141414" stroke-width="0.85"/>
<path d="M722.60,460.26 L761.50,477.36" stroke="#141414" stroke-width="0.85"/>
<path d="M722.60,477.36 L761.50,460.26" stroke="#141414" stroke-width="0.85"/>
</g>
<path d="M761.50,458.40 V477.50" stroke="#141414" stroke-width="0.85"/>
<rect x="763.50" y="460.40" width="34.90" height="15.10" stroke="#141414" stroke-width="0.85"/>
<clipPath id="c153"><rect x="763.50" y="460.40" width="34.90" height="15.10"/></clipPath>
<g clip-path="url(#c153)">
<path d="M761.50,458.54 L800.40,475.64" stroke="#141414" stroke-width="0.85"/>
<path d="M761.50,475.64 L800.40,458.54" stroke="#141414" stroke-width="0.85"/>
<path d="M761.50,460.26 L800.40,477.36" stroke="#141414" stroke-width="0.85"/>
<path d="M761.50,477.36 L800.40,460.26" stroke="#141414" stroke-width="0.85"/>
</g>
<path d="M800.40,458.40 V477.50" stroke="#141414" stroke-width="0.85"/>
<rect x="802.40" y="460.40" width="34.90" height="15.10" stroke="#141414" stroke-width="0.85"/>
<clipPath id="c154"><rect x="802.40" y="460.40" width="34.90" height="15.10"/></clipPath>
<g clip-path="url(#c154)">
<path d="M800.40,458.54 L839.30,475.64" stroke="#141414" stroke-width="0.85"/>
<path d="M800.40,475.64 L839.30,458.54" stroke="#141414" stroke-width="0.85"/>
<path d="M800.40,460.26 L839.30,477.36" stroke="#141414" stroke-width="0.85"/>
<path d="M800.40,477.36 L839.30,460.26" stroke="#141414" stroke-width="0.85"/>
</g>
<path d="M625.00,477.50 H800.50" stroke="#141414" stroke-width="0.85"/>
<rect x="589.00" y="479.50" width="34.90" height="15.10" stroke="#141414" stroke-width="0.85"/>
<clipPath id="c155"><rect x="589.00" y="479.50" width="34.90" height="15.10"/></clipPath>
<g clip-path="url(#c155)">
<path d="M587.00,477.64 L625.90,494.74" stroke="#141414" stroke-width="0.85"/>
<path d="M587.00,494.74 L625.90,477.64" stroke="#141414" stroke-width="0.85"/>
<path d="M587.00,479.36 L625.90,496.46" stroke="#141414" stroke-width="0.85"/>
<path d="M587.00,496.46 L625.90,479.36" stroke="#141414" stroke-width="0.85"/>
</g>
<path d="M625.90,477.50 V496.60" stroke="#141414" stroke-width="0.85"/>
<rect x="627.90" y="479.50" width="34.90" height="15.10" stroke="#141414" stroke-width="0.85"/>
<clipPath id="c156"><rect x="627.90" y="479.50" width="34.90" height="15.10"/></clipPath>
<g clip-path="url(#c156)">
<path d="M625.90,477.64 L664.80,494.74" stroke="#141414" stroke-width="0.85"/>
<path d="M625.90,494.74 L664.80,477.64" stroke="#141414" stroke-width="0.85"/>
<path d="M625.90,479.36 L664.80,496.46" stroke="#141414" stroke-width="0.85"/>
<path d="M625.90,496.46 L664.80,479.36" stroke="#141414" stroke-width="0.85"/>
</g>
<path d="M664.80,477.50 V496.60" stroke="#141414" stroke-width="0.85"/>
<rect x="666.80" y="479.50" width="34.90" height="15.10" stroke="#141414" stroke-width="0.85"/>
<clipPath id="c157"><rect x="666.80" y="479.50" width="34.90" height="15.10"/></clipPath>
<g clip-path="url(#c157)">
<path d="M664.80,477.64 L703.70,494.74" stroke="#141414" stroke-width="0.85"/>
<path d="M664.80,494.74 L703.70,477.64" stroke="#141414" stroke-width="0.85"/>
<path d="M664.80,479.36 L703.70,496.46" stroke="#141414" stroke-width="0.85"/>
<path d="M664.80,496.46 L703.70,479.36" stroke="#141414" stroke-width="0.85"/>
</g>
<path d="M703.70,477.50 V496.60" stroke="#141414" stroke-width="0.85"/>
<rect x="705.70" y="479.50" width="34.90" height="15.10" stroke="#141414" stroke-width="0.85"/>
<clipPath id="c158"><rect x="705.70" y="479.50" width="34.90" height="15.10"/></clipPath>
<g clip-path="url(#c158)">
<path d="M703.70,477.64 L742.60,494.74" stroke="#141414" stroke-width="0.85"/>
<path d="M703.70,494.74 L742.60,477.64" stroke="#141414" stroke-width="0.85"/>
<path d="M703.70,479.36 L742.60,496.46" stroke="#141414" stroke-width="0.85"/>
<path d="M703.70,496.46 L742.60,479.36" stroke="#141414" stroke-width="0.85"/>
</g>
<path d="M742.60,477.50 V496.60" stroke="#141414" stroke-width="0.85"/>
<rect x="744.60" y="479.50" width="34.90" height="15.10" stroke="#141414" stroke-width="0.85"/>
<clipPath id="c159"><rect x="744.60" y="479.50" width="34.90" height="15.10"/></clipPath>
<g clip-path="url(#c159)">
<path d="M742.60,477.64 L781.50,494.74" stroke="#141414" stroke-width="0.85"/>
<path d="M742.60,494.74 L781.50,477.64" stroke="#141414" stroke-width="0.85"/>
<path d="M742.60,479.36 L781.50,496.46" stroke="#141414" stroke-width="0.85"/>
<path d="M742.60,496.46 L781.50,479.36" stroke="#141414" stroke-width="0.85"/>
</g>
<path d="M781.50,477.50 V496.60" stroke="#141414" stroke-width="0.85"/>
<rect x="783.50" y="479.50" width="34.90" height="15.10" stroke="#141414" stroke-width="0.85"/>
<clipPath id="c160"><rect x="783.50" y="479.50" width="34.90" height="15.10"/></clipPath>
<g clip-path="url(#c160)">
<path d="M781.50,477.64 L820.40,494.74" stroke="#141414" stroke-width="0.85"/>
<path d="M781.50,494.74 L820.40,477.64" stroke="#141414" stroke-width="0.85"/>
<path d="M781.50,479.36 L820.40,496.46" stroke="#141414" stroke-width="0.85"/>
<path d="M781.50,496.46 L820.40,479.36" stroke="#141414" stroke-width="0.85"/>
</g>
<path d="M625.00,496.60 H800.50" stroke="#141414" stroke-width="0.85"/>
<rect x="607.90" y="498.60" width="34.90" height="15.10" stroke="#141414" stroke-width="0.85"/>
<clipPath id="c161"><rect x="607.90" y="498.60" width="34.90" height="15.10"/></clipPath>
<g clip-path="url(#c161)">
<path d="M605.90,496.74 L644.80,513.84" stroke="#141414" stroke-width="0.85"/>
<path d="M605.90,513.84 L644.80,496.74" stroke="#141414" stroke-width="0.85"/>
<path d="M605.90,498.46 L644.80,515.56" stroke="#141414" stroke-width="0.85"/>
<path d="M605.90,515.56 L644.80,498.46" stroke="#141414" stroke-width="0.85"/>
</g>
<path d="M644.80,496.60 V515.70" stroke="#141414" stroke-width="0.85"/>
<rect x="646.80" y="498.60" width="34.90" height="15.10" stroke="#141414" stroke-width="0.85"/>
<clipPath id="c162"><rect x="646.80" y="498.60" width="34.90" height="15.10"/></clipPath>
<g clip-path="url(#c162)">
<path d="M644.80,496.74 L683.70,513.84" stroke="#141414" stroke-width="0.85"/>
<path d="M644.80,513.84 L683.70,496.74" stroke="#141414" stroke-width="0.85"/>
<path d="M644.80,498.46 L683.70,515.56" stroke="#141414" stroke-width="0.85"/>
<path d="M644.80,515.56 L683.70,498.46" stroke="#141414" stroke-width="0.85"/>
</g>
<path d="M683.70,496.60 V515.70" stroke="#141414" stroke-width="0.85"/>
<rect x="685.70" y="498.60" width="34.90" height="15.10" stroke="#141414" stroke-width="0.85"/>
<clipPath id="c163"><rect x="685.70" y="498.60" width="34.90" height="15.10"/></clipPath>
<g clip-path="url(#c163)">
<path d="M683.70,496.74 L722.60,513.84" stroke="#141414" stroke-width="0.85"/>
<path d="M683.70,513.84 L722.60,496.74" stroke="#141414" stroke-width="0.85"/>
<path d="M683.70,498.46 L722.60,515.56" stroke="#141414" stroke-width="0.85"/>
<path d="M683.70,515.56 L722.60,498.46" stroke="#141414" stroke-width="0.85"/>
</g>
<path d="M722.60,496.60 V515.70" stroke="#141414" stroke-width="0.85"/>
<rect x="724.60" y="498.60" width="34.90" height="15.10" stroke="#141414" stroke-width="0.85"/>
<clipPath id="c164"><rect x="724.60" y="498.60" width="34.90" height="15.10"/></clipPath>
<g clip-path="url(#c164)">
<path d="M722.60,496.74 L761.50,513.84" stroke="#141414" stroke-width="0.85"/>
<path d="M722.60,513.84 L761.50,496.74" stroke="#141414" stroke-width="0.85"/>
<path d="M722.60,498.46 L761.50,515.56" stroke="#141414" stroke-width="0.85"/>
<path d="M722.60,515.56 L761.50,498.46" stroke="#141414" stroke-width="0.85"/>
</g>
<path d="M761.50,496.60 V515.70" stroke="#141414" stroke-width="0.85"/>
<rect x="763.50" y="498.60" width="34.90" height="15.10" stroke="#141414" stroke-width="0.85"/>
<clipPath id="c165"><rect x="763.50" y="498.60" width="34.90" height="15.10"/></clipPath>
<g clip-path="url(#c165)">
<path d="M761.50,496.74 L800.40,513.84" stroke="#141414" stroke-width="0.85"/>
<path d="M761.50,513.84 L800.40,496.74" stroke="#141414" stroke-width="0.85"/>
<path d="M761.50,498.46 L800.40,515.56" stroke="#141414" stroke-width="0.85"/>
<path d="M761.50,515.56 L800.40,498.46" stroke="#141414" stroke-width="0.85"/>
</g>
<path d="M800.40,496.60 V515.70" stroke="#141414" stroke-width="0.85"/>
<rect x="802.40" y="498.60" width="34.90" height="15.10" stroke="#141414" stroke-width="0.85"/>
<clipPath id="c166"><rect x="802.40" y="498.60" width="34.90" height="15.10"/></clipPath>
<g clip-path="url(#c166)">
<path d="M800.40,496.74 L839.30,513.84" stroke="#141414" stroke-width="0.85"/>
<path d="M800.40,513.84 L839.30,496.74" stroke="#141414" stroke-width="0.85"/>
<path d="M800.40,498.46 L839.30,515.56" stroke="#141414" stroke-width="0.85"/>
<path d="M800.40,515.56 L839.30,498.46" stroke="#141414" stroke-width="0.85"/>
</g>
<path d="M625.00,515.70 H800.50" stroke="#141414" stroke-width="0.85"/>
<rect x="589.00" y="517.70" width="34.90" height="15.10" stroke="#141414" stroke-width="0.85"/>
<clipPath id="c167"><rect x="589.00" y="517.70" width="34.90" height="15.10"/></clipPath>
<g clip-path="url(#c167)">
<path d="M587.00,515.84 L625.90,532.94" stroke="#141414" stroke-width="0.85"/>
<path d="M587.00,532.94 L625.90,515.84" stroke="#141414" stroke-width="0.85"/>
<path d="M587.00,517.56 L625.90,534.66" stroke="#141414" stroke-width="0.85"/>
<path d="M587.00,534.66 L625.90,517.56" stroke="#141414" stroke-width="0.85"/>
</g>
<path d="M625.90,515.70 V534.80" stroke="#141414" stroke-width="0.85"/>
<rect x="627.90" y="517.70" width="34.90" height="15.10" stroke="#141414" stroke-width="0.85"/>
<clipPath id="c168"><rect x="627.90" y="517.70" width="34.90" height="15.10"/></clipPath>
<g clip-path="url(#c168)">
<path d="M625.90,515.84 L664.80,532.94" stroke="#141414" stroke-width="0.85"/>
<path d="M625.90,532.94 L664.80,515.84" stroke="#141414" stroke-width="0.85"/>
<path d="M625.90,517.56 L664.80,534.66" stroke="#141414" stroke-width="0.85"/>
<path d="M625.90,534.66 L664.80,517.56" stroke="#141414" stroke-width="0.85"/>
</g>
<path d="M664.80,515.70 V534.80" stroke="#141414" stroke-width="0.85"/>
<rect x="666.80" y="517.70" width="34.90" height="15.10" stroke="#141414" stroke-width="0.85"/>
<clipPath id="c169"><rect x="666.80" y="517.70" width="34.90" height="15.10"/></clipPath>
<g clip-path="url(#c169)">
<path d="M664.80,515.84 L703.70,532.94" stroke="#141414" stroke-width="0.85"/>
<path d="M664.80,532.94 L703.70,515.84" stroke="#141414" stroke-width="0.85"/>
<path d="M664.80,517.56 L703.70,534.66" stroke="#141414" stroke-width="0.85"/>
<path d="M664.80,534.66 L703.70,517.56" stroke="#141414" stroke-width="0.85"/>
</g>
<path d="M703.70,515.70 V534.80" stroke="#141414" stroke-width="0.85"/>
<rect x="705.70" y="517.70" width="34.90" height="15.10" stroke="#141414" stroke-width="0.85"/>
<clipPath id="c170"><rect x="705.70" y="517.70" width="34.90" height="15.10"/></clipPath>
<g clip-path="url(#c170)">
<path d="M703.70,515.84 L742.60,532.94" stroke="#141414" stroke-width="0.85"/>
<path d="M703.70,532.94 L742.60,515.84" stroke="#141414" stroke-width="0.85"/>
<path d="M703.70,517.56 L742.60,534.66" stroke="#141414" stroke-width="0.85"/>
<path d="M703.70,534.66 L742.60,517.56" stroke="#141414" stroke-width="0.85"/>
</g>
<path d="M742.60,515.70 V534.80" stroke="#141414" stroke-width="0.85"/>
<rect x="744.60" y="517.70" width="34.90" height="15.10" stroke="#141414" stroke-width="0.85"/>
<clipPath id="c171"><rect x="744.60" y="517.70" width="34.90" height="15.10"/></clipPath>
<g clip-path="url(#c171)">
<path d="M742.60,515.84 L781.50,532.94" stroke="#141414" stroke-width="0.85"/>
<path d="M742.60,532.94 L781.50,515.84" stroke="#141414" stroke-width="0.85"/>
<path d="M742.60,517.56 L781.50,534.66" stroke="#141414" stroke-width="0.85"/>
<path d="M742.60,534.66 L781.50,517.56" stroke="#141414" stroke-width="0.85"/>
</g>
<path d="M781.50,515.70 V534.80" stroke="#141414" stroke-width="0.85"/>
<rect x="783.50" y="517.70" width="34.90" height="15.10" stroke="#141414" stroke-width="0.85"/>
<clipPath id="c172"><rect x="783.50" y="517.70" width="34.90" height="15.10"/></clipPath>
<g clip-path="url(#c172)">
<path d="M781.50,515.84 L820.40,532.94" stroke="#141414" stroke-width="0.85"/>
<path d="M781.50,532.94 L820.40,515.84" stroke="#141414" stroke-width="0.85"/>
<path d="M781.50,517.56 L820.40,534.66" stroke="#141414" stroke-width="0.85"/>
<path d="M781.50,534.66 L820.40,517.56" stroke="#141414" stroke-width="0.85"/>
</g>
<path d="M625.00,534.80 H800.50" stroke="#141414" stroke-width="0.85"/>
<rect x="607.90" y="536.80" width="34.90" height="15.10" stroke="#141414" stroke-width="0.85"/>
<clipPath id="c173"><rect x="607.90" y="536.80" width="34.90" height="15.10"/></clipPath>
<g clip-path="url(#c173)">
<path d="M605.90,534.94 L644.80,552.04" stroke="#141414" stroke-width="0.85"/>
<path d="M605.90,552.04 L644.80,534.94" stroke="#141414" stroke-width="0.85"/>
<path d="M605.90,536.66 L644.80,553.76" stroke="#141414" stroke-width="0.85"/>
<path d="M605.90,553.76 L644.80,536.66" stroke="#141414" stroke-width="0.85"/>
</g>
<path d="M644.80,534.80 V553.90" stroke="#141414" stroke-width="0.85"/>
<rect x="646.80" y="536.80" width="34.90" height="15.10" stroke="#141414" stroke-width="0.85"/>
<clipPath id="c174"><rect x="646.80" y="536.80" width="34.90" height="15.10"/></clipPath>
<g clip-path="url(#c174)">
<path d="M644.80,534.94 L683.70,552.04" stroke="#141414" stroke-width="0.85"/>
<path d="M644.80,552.04 L683.70,534.94" stroke="#141414" stroke-width="0.85"/>
<path d="M644.80,536.66 L683.70,553.76" stroke="#141414" stroke-width="0.85"/>
<path d="M644.80,553.76 L683.70,536.66" stroke="#141414" stroke-width="0.85"/>
</g>
<path d="M683.70,534.80 V553.90" stroke="#141414" stroke-width="0.85"/>
<rect x="685.70" y="536.80" width="34.90" height="15.10" stroke="#141414" stroke-width="0.85"/>
<clipPath id="c175"><rect x="685.70" y="536.80" width="34.90" height="15.10"/></clipPath>
<g clip-path="url(#c175)">
<path d="M683.70,534.94 L722.60,552.04" stroke="#141414" stroke-width="0.85"/>
<path d="M683.70,552.04 L722.60,534.94" stroke="#141414" stroke-width="0.85"/>
<path d="M683.70,536.66 L722.60,553.76" stroke="#141414" stroke-width="0.85"/>
<path d="M683.70,553.76 L722.60,536.66" stroke="#141414" stroke-width="0.85"/>
</g>
<path d="M722.60,534.80 V553.90" stroke="#141414" stroke-width="0.85"/>
<rect x="724.60" y="536.80" width="34.90" height="15.10" stroke="#141414" stroke-width="0.85"/>
<clipPath id="c176"><rect x="724.60" y="536.80" width="34.90" height="15.10"/></clipPath>
<g clip-path="url(#c176)">
<path d="M722.60,534.94 L761.50,552.04" stroke="#141414" stroke-width="0.85"/>
<path d="M722.60,552.04 L761.50,534.94" stroke="#141414" stroke-width="0.85"/>
<path d="M722.60,536.66 L761.50,553.76" stroke="#141414" stroke-width="0.85"/>
<path d="M722.60,553.76 L761.50,536.66" stroke="#141414" stroke-width="0.85"/>
</g>
<path d="M761.50,534.80 V553.90" stroke="#141414" stroke-width="0.85"/>
<rect x="763.50" y="536.80" width="34.90" height="15.10" stroke="#141414" stroke-width="0.85"/>
<clipPath id="c177"><rect x="763.50" y="536.80" width="34.90" height="15.10"/></clipPath>
<g clip-path="url(#c177)">
<path d="M761.50,534.94 L800.40,552.04" stroke="#141414" stroke-width="0.85"/>
<path d="M761.50,552.04 L800.40,534.94" stroke="#141414" stroke-width="0.85"/>
<path d="M761.50,536.66 L800.40,553.76" stroke="#141414" stroke-width="0.85"/>
<path d="M761.50,553.76 L800.40,536.66" stroke="#141414" stroke-width="0.85"/>
</g>
<path d="M800.40,534.80 V553.90" stroke="#141414" stroke-width="0.85"/>
<rect x="802.40" y="536.80" width="34.90" height="15.10" stroke="#141414" stroke-width="0.85"/>
<clipPath id="c178"><rect x="802.40" y="536.80" width="34.90" height="15.10"/></clipPath>
<g clip-path="url(#c178)">
<path d="M800.40,534.94 L839.30,552.04" stroke="#141414" stroke-width="0.85"/>
<path d="M800.40,552.04 L839.30,534.94" stroke="#141414" stroke-width="0.85"/>
<path d="M800.40,536.66 L839.30,553.76" stroke="#141414" stroke-width="0.85"/>
<path d="M800.40,553.76 L839.30,536.66" stroke="#141414" stroke-width="0.85"/>
</g>
<path d="M625.00,553.90 H800.50" stroke="#141414" stroke-width="0.85"/>
<rect x="589.00" y="555.90" width="34.90" height="15.10" stroke="#141414" stroke-width="0.85"/>
<clipPath id="c179"><rect x="589.00" y="555.90" width="34.90" height="15.10"/></clipPath>
<g clip-path="url(#c179)">
<path d="M587.00,554.04 L625.90,571.14" stroke="#141414" stroke-width="0.85"/>
<path d="M587.00,571.14 L625.90,554.04" stroke="#141414" stroke-width="0.85"/>
<path d="M587.00,555.76 L625.90,572.86" stroke="#141414" stroke-width="0.85"/>
<path d="M587.00,572.86 L625.90,555.76" stroke="#141414" stroke-width="0.85"/>
</g>
<path d="M625.90,553.90 V565.80" stroke="#141414" stroke-width="0.85"/>
<rect x="627.90" y="555.90" width="34.90" height="15.10" stroke="#141414" stroke-width="0.85"/>
<clipPath id="c180"><rect x="627.90" y="555.90" width="34.90" height="15.10"/></clipPath>
<g clip-path="url(#c180)">
<path d="M625.90,554.04 L664.80,571.14" stroke="#141414" stroke-width="0.85"/>
<path d="M625.90,571.14 L664.80,554.04" stroke="#141414" stroke-width="0.85"/>
<path d="M625.90,555.76 L664.80,572.86" stroke="#141414" stroke-width="0.85"/>
<path d="M625.90,572.86 L664.80,555.76" stroke="#141414" stroke-width="0.85"/>
</g>
<path d="M664.80,553.90 V565.80" stroke="#141414" stroke-width="0.85"/>
<rect x="666.80" y="555.90" width="34.90" height="15.10" stroke="#141414" stroke-width="0.85"/>
<clipPath id="c181"><rect x="666.80" y="555.90" width="34.90" height="15.10"/></clipPath>
<g clip-path="url(#c181)">
<path d="M664.80,554.04 L703.70,571.14" stroke="#141414" stroke-width="0.85"/>
<path d="M664.80,571.14 L703.70,554.04" stroke="#141414" stroke-width="0.85"/>
<path d="M664.80,555.76 L703.70,572.86" stroke="#141414" stroke-width="0.85"/>
<path d="M664.80,572.86 L703.70,555.76" stroke="#141414" stroke-width="0.85"/>
</g>
<path d="M703.70,553.90 V565.80" stroke="#141414" stroke-width="0.85"/>
<rect x="705.70" y="555.90" width="34.90" height="15.10" stroke="#141414" stroke-width="0.85"/>
<clipPath id="c182"><rect x="705.70" y="555.90" width="34.90" height="15.10"/></clipPath>
<g clip-path="url(#c182)">
<path d="M703.70,554.04 L742.60,571.14" stroke="#141414" stroke-width="0.85"/>
<path d="M703.70,571.14 L742.60,554.04" stroke="#141414" stroke-width="0.85"/>
<path d="M703.70,555.76 L742.60,572.86" stroke="#141414" stroke-width="0.85"/>
<path d="M703.70,572.86 L742.60,555.76" stroke="#141414" stroke-width="0.85"/>
</g>
<path d="M742.60,553.90 V565.80" stroke="#141414" stroke-width="0.85"/>
<rect x="744.60" y="555.90" width="34.90" height="15.10" stroke="#141414" stroke-width="0.85"/>
<clipPath id="c183"><rect x="744.60" y="555.90" width="34.90" height="15.10"/></clipPath>
<g clip-path="url(#c183)">
<path d="M742.60,554.04 L781.50,571.14" stroke="#141414" stroke-width="0.85"/>
<path d="M742.60,571.14 L781.50,554.04" stroke="#141414" stroke-width="0.85"/>
<path d="M742.60,555.76 L781.50,572.86" stroke="#141414" stroke-width="0.85"/>
<path d="M742.60,572.86 L781.50,555.76" stroke="#141414" stroke-width="0.85"/>
</g>
<path d="M781.50,553.90 V565.80" stroke="#141414" stroke-width="0.85"/>
<rect x="783.50" y="555.90" width="34.90" height="15.10" stroke="#141414" stroke-width="0.85"/>
<clipPath id="c184"><rect x="783.50" y="555.90" width="34.90" height="15.10"/></clipPath>
<g clip-path="url(#c184)">
<path d="M781.50,554.04 L820.40,571.14" stroke="#141414" stroke-width="0.85"/>
<path d="M781.50,571.14 L820.40,554.04" stroke="#141414" stroke-width="0.85"/>
<path d="M781.50,555.76 L820.40,572.86" stroke="#141414" stroke-width="0.85"/>
<path d="M781.50,572.86 L820.40,555.76" stroke="#141414" stroke-width="0.85"/>
</g>
</g>
<clipPath id="c185"><rect x="830.00" y="391.00" width="175.50" height="174.80"/></clipPath>
<g clip-path="url(#c185)">
<rect x="813.50" y="384.00" width="34.90" height="15.10" stroke="#141414" stroke-width="0.70"/>
<rect x="824.25" y="389.25" width="13.40" height="4.60" stroke="#141414" stroke-width="1.05"/>
<clipPath id="c186"><rect x="813.50" y="384.00" width="34.90" height="15.10"/></clipPath>
<g clip-path="url(#c186)">
<path d="M812.61,382.60 L822.33,387.49" stroke="#141414" stroke-width="0.80"/>
<path d="M811.85,384.12 L821.57,389.01" stroke="#141414" stroke-width="0.80"/>
<path d="M850.05,384.12 L840.33,389.01" stroke="#141414" stroke-width="0.80"/>
<path d="M849.29,382.60 L839.57,387.49" stroke="#141414" stroke-width="0.80"/>
<path d="M811.85,398.98 L821.57,394.09" stroke="#141414" stroke-width="0.80"/>
<path d="M812.61,400.50 L822.33,395.61" stroke="#141414" stroke-width="0.80"/>
<path d="M849.29,400.50 L839.57,395.61" stroke="#141414" stroke-width="0.80"/>
<path d="M850.05,398.98 L840.33,394.09" stroke="#141414" stroke-width="0.80"/>
</g>
<path d="M821.95,387.65 V395.45" stroke="#141414" stroke-width="0.80"/>
<path d="M839.95,387.65 V395.45" stroke="#141414" stroke-width="0.80"/>
<path d="M850.40,391.00 V401.10" stroke="#141414" stroke-width="0.85"/>
<rect x="852.40" y="384.00" width="34.90" height="15.10" stroke="#141414" stroke-width="0.70"/>
<rect x="863.15" y="389.25" width="13.40" height="4.60" stroke="#141414" stroke-width="1.05"/>
<clipPath id="c187"><rect x="852.40" y="384.00" width="34.90" height="15.10"/></clipPath>
<g clip-path="url(#c187)">
<path d="M851.51,382.60 L861.23,387.49" stroke="#141414" stroke-width="0.80"/>
<path d="M850.75,384.12 L860.47,389.01" stroke="#141414" stroke-width="0.80"/>
<path d="M888.95,384.12 L879.23,389.01" stroke="#141414" stroke-width="0.80"/>
<path d="M888.19,382.60 L878.47,387.49" stroke="#141414" stroke-width="0.80"/>
<path d="M850.75,398.98 L860.47,394.09" stroke="#141414" stroke-width="0.80"/>
<path d="M851.51,400.50 L861.23,395.61" stroke="#141414" stroke-width="0.80"/>
<path d="M888.19,400.50 L878.47,395.61" stroke="#141414" stroke-width="0.80"/>
<path d="M888.95,398.98 L879.23,394.09" stroke="#141414" stroke-width="0.80"/>
</g>
<path d="M860.85,387.65 V395.45" stroke="#141414" stroke-width="0.80"/>
<path d="M878.85,387.65 V395.45" stroke="#141414" stroke-width="0.80"/>
<path d="M889.30,391.00 V401.10" stroke="#141414" stroke-width="0.85"/>
<rect x="891.30" y="384.00" width="34.90" height="15.10" stroke="#141414" stroke-width="0.70"/>
<rect x="902.05" y="389.25" width="13.40" height="4.60" stroke="#141414" stroke-width="1.05"/>
<clipPath id="c188"><rect x="891.30" y="384.00" width="34.90" height="15.10"/></clipPath>
<g clip-path="url(#c188)">
<path d="M890.41,382.60 L900.13,387.49" stroke="#141414" stroke-width="0.80"/>
<path d="M889.65,384.12 L899.37,389.01" stroke="#141414" stroke-width="0.80"/>
<path d="M927.85,384.12 L918.13,389.01" stroke="#141414" stroke-width="0.80"/>
<path d="M927.09,382.60 L917.37,387.49" stroke="#141414" stroke-width="0.80"/>
<path d="M889.65,398.98 L899.37,394.09" stroke="#141414" stroke-width="0.80"/>
<path d="M890.41,400.50 L900.13,395.61" stroke="#141414" stroke-width="0.80"/>
<path d="M927.09,400.50 L917.37,395.61" stroke="#141414" stroke-width="0.80"/>
<path d="M927.85,398.98 L918.13,394.09" stroke="#141414" stroke-width="0.80"/>
</g>
<path d="M899.75,387.65 V395.45" stroke="#141414" stroke-width="0.80"/>
<path d="M917.75,387.65 V395.45" stroke="#141414" stroke-width="0.80"/>
<path d="M928.20,391.00 V401.10" stroke="#141414" stroke-width="0.85"/>
<rect x="930.20" y="384.00" width="34.90" height="15.10" stroke="#141414" stroke-width="0.70"/>
<rect x="940.95" y="389.25" width="13.40" height="4.60" stroke="#141414" stroke-width="1.05"/>
<clipPath id="c189"><rect x="930.20" y="384.00" width="34.90" height="15.10"/></clipPath>
<g clip-path="url(#c189)">
<path d="M929.31,382.60 L939.03,387.49" stroke="#141414" stroke-width="0.80"/>
<path d="M928.55,384.12 L938.27,389.01" stroke="#141414" stroke-width="0.80"/>
<path d="M966.75,384.12 L957.03,389.01" stroke="#141414" stroke-width="0.80"/>
<path d="M965.99,382.60 L956.27,387.49" stroke="#141414" stroke-width="0.80"/>
<path d="M928.55,398.98 L938.27,394.09" stroke="#141414" stroke-width="0.80"/>
<path d="M929.31,400.50 L939.03,395.61" stroke="#141414" stroke-width="0.80"/>
<path d="M965.99,400.50 L956.27,395.61" stroke="#141414" stroke-width="0.80"/>
<path d="M966.75,398.98 L957.03,394.09" stroke="#141414" stroke-width="0.80"/>
</g>
<path d="M938.65,387.65 V395.45" stroke="#141414" stroke-width="0.80"/>
<path d="M956.65,387.65 V395.45" stroke="#141414" stroke-width="0.80"/>
<path d="M967.10,391.00 V401.10" stroke="#141414" stroke-width="0.85"/>
<rect x="969.10" y="384.00" width="34.90" height="15.10" stroke="#141414" stroke-width="0.70"/>
<rect x="979.85" y="389.25" width="13.40" height="4.60" stroke="#141414" stroke-width="1.05"/>
<clipPath id="c190"><rect x="969.10" y="384.00" width="34.90" height="15.10"/></clipPath>
<g clip-path="url(#c190)">
<path d="M968.21,382.60 L977.93,387.49" stroke="#141414" stroke-width="0.80"/>
<path d="M967.45,384.12 L977.17,389.01" stroke="#141414" stroke-width="0.80"/>
<path d="M1005.65,384.12 L995.93,389.01" stroke="#141414" stroke-width="0.80"/>
<path d="M1004.89,382.60 L995.17,387.49" stroke="#141414" stroke-width="0.80"/>
<path d="M967.45,398.98 L977.17,394.09" stroke="#141414" stroke-width="0.80"/>
<path d="M968.21,400.50 L977.93,395.61" stroke="#141414" stroke-width="0.80"/>
<path d="M1004.89,400.50 L995.17,395.61" stroke="#141414" stroke-width="0.80"/>
<path d="M1005.65,398.98 L995.93,394.09" stroke="#141414" stroke-width="0.80"/>
</g>
<path d="M977.55,387.65 V395.45" stroke="#141414" stroke-width="0.80"/>
<path d="M995.55,387.65 V395.45" stroke="#141414" stroke-width="0.80"/>
<path d="M830.00,401.10 H1005.50" stroke="#141414" stroke-width="0.85"/>
<rect x="794.10" y="403.10" width="34.90" height="15.10" stroke="#141414" stroke-width="0.70"/>
<rect x="804.85" y="408.35" width="13.40" height="4.60" stroke="#141414" stroke-width="1.05"/>
<clipPath id="c191"><rect x="794.10" y="403.10" width="34.90" height="15.10"/></clipPath>
<g clip-path="url(#c191)">
<path d="M793.21,401.70 L802.93,406.59" stroke="#141414" stroke-width="0.80"/>
<path d="M792.45,403.22 L802.17,408.11" stroke="#141414" stroke-width="0.80"/>
<path d="M830.65,403.22 L820.93,408.11" stroke="#141414" stroke-width="0.80"/>
<path d="M829.89,401.70 L820.17,406.59" stroke="#141414" stroke-width="0.80"/>
<path d="M792.45,418.08 L802.17,413.19" stroke="#141414" stroke-width="0.80"/>
<path d="M793.21,419.60 L802.93,414.71" stroke="#141414" stroke-width="0.80"/>
<path d="M829.89,419.60 L820.17,414.71" stroke="#141414" stroke-width="0.80"/>
<path d="M830.65,418.08 L820.93,413.19" stroke="#141414" stroke-width="0.80"/>
</g>
<path d="M802.55,406.75 V414.55" stroke="#141414" stroke-width="0.80"/>
<path d="M820.55,406.75 V414.55" stroke="#141414" stroke-width="0.80"/>
<path d="M831.00,401.10 V420.20" stroke="#141414" stroke-width="0.85"/>
<rect x="833.00" y="403.10" width="34.90" height="15.10" stroke="#141414" stroke-width="0.70"/>
<rect x="843.75" y="408.35" width="13.40" height="4.60" stroke="#141414" stroke-width="1.05"/>
<clipPath id="c192"><rect x="833.00" y="403.10" width="34.90" height="15.10"/></clipPath>
<g clip-path="url(#c192)">
<path d="M832.11,401.70 L841.83,406.59" stroke="#141414" stroke-width="0.80"/>
<path d="M831.35,403.22 L841.07,408.11" stroke="#141414" stroke-width="0.80"/>
<path d="M869.55,403.22 L859.83,408.11" stroke="#141414" stroke-width="0.80"/>
<path d="M868.79,401.70 L859.07,406.59" stroke="#141414" stroke-width="0.80"/>
<path d="M831.35,418.08 L841.07,413.19" stroke="#141414" stroke-width="0.80"/>
<path d="M832.11,419.60 L841.83,414.71" stroke="#141414" stroke-width="0.80"/>
<path d="M868.79,419.60 L859.07,414.71" stroke="#141414" stroke-width="0.80"/>
<path d="M869.55,418.08 L859.83,413.19" stroke="#141414" stroke-width="0.80"/>
</g>
<path d="M841.45,406.75 V414.55" stroke="#141414" stroke-width="0.80"/>
<path d="M859.45,406.75 V414.55" stroke="#141414" stroke-width="0.80"/>
<path d="M869.90,401.10 V420.20" stroke="#141414" stroke-width="0.85"/>
<rect x="871.90" y="403.10" width="34.90" height="15.10" stroke="#141414" stroke-width="0.70"/>
<rect x="882.65" y="408.35" width="13.40" height="4.60" stroke="#141414" stroke-width="1.05"/>
<clipPath id="c193"><rect x="871.90" y="403.10" width="34.90" height="15.10"/></clipPath>
<g clip-path="url(#c193)">
<path d="M871.01,401.70 L880.73,406.59" stroke="#141414" stroke-width="0.80"/>
<path d="M870.25,403.22 L879.97,408.11" stroke="#141414" stroke-width="0.80"/>
<path d="M908.45,403.22 L898.73,408.11" stroke="#141414" stroke-width="0.80"/>
<path d="M907.69,401.70 L897.97,406.59" stroke="#141414" stroke-width="0.80"/>
<path d="M870.25,418.08 L879.97,413.19" stroke="#141414" stroke-width="0.80"/>
<path d="M871.01,419.60 L880.73,414.71" stroke="#141414" stroke-width="0.80"/>
<path d="M907.69,419.60 L897.97,414.71" stroke="#141414" stroke-width="0.80"/>
<path d="M908.45,418.08 L898.73,413.19" stroke="#141414" stroke-width="0.80"/>
</g>
<path d="M880.35,406.75 V414.55" stroke="#141414" stroke-width="0.80"/>
<path d="M898.35,406.75 V414.55" stroke="#141414" stroke-width="0.80"/>
<path d="M908.80,401.10 V420.20" stroke="#141414" stroke-width="0.85"/>
<rect x="910.80" y="403.10" width="34.90" height="15.10" stroke="#141414" stroke-width="0.70"/>
<rect x="921.55" y="408.35" width="13.40" height="4.60" stroke="#141414" stroke-width="1.05"/>
<clipPath id="c194"><rect x="910.80" y="403.10" width="34.90" height="15.10"/></clipPath>
<g clip-path="url(#c194)">
<path d="M909.91,401.70 L919.63,406.59" stroke="#141414" stroke-width="0.80"/>
<path d="M909.15,403.22 L918.87,408.11" stroke="#141414" stroke-width="0.80"/>
<path d="M947.35,403.22 L937.63,408.11" stroke="#141414" stroke-width="0.80"/>
<path d="M946.59,401.70 L936.87,406.59" stroke="#141414" stroke-width="0.80"/>
<path d="M909.15,418.08 L918.87,413.19" stroke="#141414" stroke-width="0.80"/>
<path d="M909.91,419.60 L919.63,414.71" stroke="#141414" stroke-width="0.80"/>
<path d="M946.59,419.60 L936.87,414.71" stroke="#141414" stroke-width="0.80"/>
<path d="M947.35,418.08 L937.63,413.19" stroke="#141414" stroke-width="0.80"/>
</g>
<path d="M919.25,406.75 V414.55" stroke="#141414" stroke-width="0.80"/>
<path d="M937.25,406.75 V414.55" stroke="#141414" stroke-width="0.80"/>
<path d="M947.70,401.10 V420.20" stroke="#141414" stroke-width="0.85"/>
<rect x="949.70" y="403.10" width="34.90" height="15.10" stroke="#141414" stroke-width="0.70"/>
<rect x="960.45" y="408.35" width="13.40" height="4.60" stroke="#141414" stroke-width="1.05"/>
<clipPath id="c195"><rect x="949.70" y="403.10" width="34.90" height="15.10"/></clipPath>
<g clip-path="url(#c195)">
<path d="M948.81,401.70 L958.53,406.59" stroke="#141414" stroke-width="0.80"/>
<path d="M948.05,403.22 L957.77,408.11" stroke="#141414" stroke-width="0.80"/>
<path d="M986.25,403.22 L976.53,408.11" stroke="#141414" stroke-width="0.80"/>
<path d="M985.49,401.70 L975.77,406.59" stroke="#141414" stroke-width="0.80"/>
<path d="M948.05,418.08 L957.77,413.19" stroke="#141414" stroke-width="0.80"/>
<path d="M948.81,419.60 L958.53,414.71" stroke="#141414" stroke-width="0.80"/>
<path d="M985.49,419.60 L975.77,414.71" stroke="#141414" stroke-width="0.80"/>
<path d="M986.25,418.08 L976.53,413.19" stroke="#141414" stroke-width="0.80"/>
</g>
<path d="M958.15,406.75 V414.55" stroke="#141414" stroke-width="0.80"/>
<path d="M976.15,406.75 V414.55" stroke="#141414" stroke-width="0.80"/>
<path d="M986.60,401.10 V420.20" stroke="#141414" stroke-width="0.85"/>
<rect x="988.60" y="403.10" width="34.90" height="15.10" stroke="#141414" stroke-width="0.70"/>
<rect x="999.35" y="408.35" width="13.40" height="4.60" stroke="#141414" stroke-width="1.05"/>
<clipPath id="c196"><rect x="988.60" y="403.10" width="34.90" height="15.10"/></clipPath>
<g clip-path="url(#c196)">
<path d="M987.71,401.70 L997.43,406.59" stroke="#141414" stroke-width="0.80"/>
<path d="M986.95,403.22 L996.67,408.11" stroke="#141414" stroke-width="0.80"/>
<path d="M1025.15,403.22 L1015.43,408.11" stroke="#141414" stroke-width="0.80"/>
<path d="M1024.39,401.70 L1014.67,406.59" stroke="#141414" stroke-width="0.80"/>
<path d="M986.95,418.08 L996.67,413.19" stroke="#141414" stroke-width="0.80"/>
<path d="M987.71,419.60 L997.43,414.71" stroke="#141414" stroke-width="0.80"/>
<path d="M1024.39,419.60 L1014.67,414.71" stroke="#141414" stroke-width="0.80"/>
<path d="M1025.15,418.08 L1015.43,413.19" stroke="#141414" stroke-width="0.80"/>
</g>
<path d="M997.05,406.75 V414.55" stroke="#141414" stroke-width="0.80"/>
<path d="M1015.05,406.75 V414.55" stroke="#141414" stroke-width="0.80"/>
<path d="M830.00,420.20 H1005.50" stroke="#141414" stroke-width="0.85"/>
<rect x="813.50" y="422.20" width="34.90" height="15.10" stroke="#141414" stroke-width="0.70"/>
<rect x="824.25" y="427.45" width="13.40" height="4.60" stroke="#141414" stroke-width="1.05"/>
<clipPath id="c197"><rect x="813.50" y="422.20" width="34.90" height="15.10"/></clipPath>
<g clip-path="url(#c197)">
<path d="M812.61,420.80 L822.33,425.69" stroke="#141414" stroke-width="0.80"/>
<path d="M811.85,422.32 L821.57,427.21" stroke="#141414" stroke-width="0.80"/>
<path d="M850.05,422.32 L840.33,427.21" stroke="#141414" stroke-width="0.80"/>
<path d="M849.29,420.80 L839.57,425.69" stroke="#141414" stroke-width="0.80"/>
<path d="M811.85,437.18 L821.57,432.29" stroke="#141414" stroke-width="0.80"/>
<path d="M812.61,438.70 L822.33,433.81" stroke="#141414" stroke-width="0.80"/>
<path d="M849.29,438.70 L839.57,433.81" stroke="#141414" stroke-width="0.80"/>
<path d="M850.05,437.18 L840.33,432.29" stroke="#141414" stroke-width="0.80"/>
</g>
<path d="M821.95,425.85 V433.65" stroke="#141414" stroke-width="0.80"/>
<path d="M839.95,425.85 V433.65" stroke="#141414" stroke-width="0.80"/>
<path d="M850.40,420.20 V439.30" stroke="#141414" stroke-width="0.85"/>
<rect x="852.40" y="422.20" width="34.90" height="15.10" stroke="#141414" stroke-width="0.70"/>
<rect x="863.15" y="427.45" width="13.40" height="4.60" stroke="#141414" stroke-width="1.05"/>
<clipPath id="c198"><rect x="852.40" y="422.20" width="34.90" height="15.10"/></clipPath>
<g clip-path="url(#c198)">
<path d="M851.51,420.80 L861.23,425.69" stroke="#141414" stroke-width="0.80"/>
<path d="M850.75,422.32 L860.47,427.21" stroke="#141414" stroke-width="0.80"/>
<path d="M888.95,422.32 L879.23,427.21" stroke="#141414" stroke-width="0.80"/>
<path d="M888.19,420.80 L878.47,425.69" stroke="#141414" stroke-width="0.80"/>
<path d="M850.75,437.18 L860.47,432.29" stroke="#141414" stroke-width="0.80"/>
<path d="M851.51,438.70 L861.23,433.81" stroke="#141414" stroke-width="0.80"/>
<path d="M888.19,438.70 L878.47,433.81" stroke="#141414" stroke-width="0.80"/>
<path d="M888.95,437.18 L879.23,432.29" stroke="#141414" stroke-width="0.80"/>
</g>
<path d="M860.85,425.85 V433.65" stroke="#141414" stroke-width="0.80"/>
<path d="M878.85,425.85 V433.65" stroke="#141414" stroke-width="0.80"/>
<path d="M889.30,420.20 V439.30" stroke="#141414" stroke-width="0.85"/>
<rect x="891.30" y="422.20" width="34.90" height="15.10" stroke="#141414" stroke-width="0.70"/>
<rect x="902.05" y="427.45" width="13.40" height="4.60" stroke="#141414" stroke-width="1.05"/>
<clipPath id="c199"><rect x="891.30" y="422.20" width="34.90" height="15.10"/></clipPath>
<g clip-path="url(#c199)">
<path d="M890.41,420.80 L900.13,425.69" stroke="#141414" stroke-width="0.80"/>
<path d="M889.65,422.32 L899.37,427.21" stroke="#141414" stroke-width="0.80"/>
<path d="M927.85,422.32 L918.13,427.21" stroke="#141414" stroke-width="0.80"/>
<path d="M927.09,420.80 L917.37,425.69" stroke="#141414" stroke-width="0.80"/>
<path d="M889.65,437.18 L899.37,432.29" stroke="#141414" stroke-width="0.80"/>
<path d="M890.41,438.70 L900.13,433.81" stroke="#141414" stroke-width="0.80"/>
<path d="M927.09,438.70 L917.37,433.81" stroke="#141414" stroke-width="0.80"/>
<path d="M927.85,437.18 L918.13,432.29" stroke="#141414" stroke-width="0.80"/>
</g>
<path d="M899.75,425.85 V433.65" stroke="#141414" stroke-width="0.80"/>
<path d="M917.75,425.85 V433.65" stroke="#141414" stroke-width="0.80"/>
<path d="M928.20,420.20 V439.30" stroke="#141414" stroke-width="0.85"/>
<rect x="930.20" y="422.20" width="34.90" height="15.10" stroke="#141414" stroke-width="0.70"/>
<rect x="940.95" y="427.45" width="13.40" height="4.60" stroke="#141414" stroke-width="1.05"/>
<clipPath id="c200"><rect x="930.20" y="422.20" width="34.90" height="15.10"/></clipPath>
<g clip-path="url(#c200)">
<path d="M929.31,420.80 L939.03,425.69" stroke="#141414" stroke-width="0.80"/>
<path d="M928.55,422.32 L938.27,427.21" stroke="#141414" stroke-width="0.80"/>
<path d="M966.75,422.32 L957.03,427.21" stroke="#141414" stroke-width="0.80"/>
<path d="M965.99,420.80 L956.27,425.69" stroke="#141414" stroke-width="0.80"/>
<path d="M928.55,437.18 L938.27,432.29" stroke="#141414" stroke-width="0.80"/>
<path d="M929.31,438.70 L939.03,433.81" stroke="#141414" stroke-width="0.80"/>
<path d="M965.99,438.70 L956.27,433.81" stroke="#141414" stroke-width="0.80"/>
<path d="M966.75,437.18 L957.03,432.29" stroke="#141414" stroke-width="0.80"/>
</g>
<path d="M938.65,425.85 V433.65" stroke="#141414" stroke-width="0.80"/>
<path d="M956.65,425.85 V433.65" stroke="#141414" stroke-width="0.80"/>
<path d="M967.10,420.20 V439.30" stroke="#141414" stroke-width="0.85"/>
<rect x="969.10" y="422.20" width="34.90" height="15.10" stroke="#141414" stroke-width="0.70"/>
<rect x="979.85" y="427.45" width="13.40" height="4.60" stroke="#141414" stroke-width="1.05"/>
<clipPath id="c201"><rect x="969.10" y="422.20" width="34.90" height="15.10"/></clipPath>
<g clip-path="url(#c201)">
<path d="M968.21,420.80 L977.93,425.69" stroke="#141414" stroke-width="0.80"/>
<path d="M967.45,422.32 L977.17,427.21" stroke="#141414" stroke-width="0.80"/>
<path d="M1005.65,422.32 L995.93,427.21" stroke="#141414" stroke-width="0.80"/>
<path d="M1004.89,420.80 L995.17,425.69" stroke="#141414" stroke-width="0.80"/>
<path d="M967.45,437.18 L977.17,432.29" stroke="#141414" stroke-width="0.80"/>
<path d="M968.21,438.70 L977.93,433.81" stroke="#141414" stroke-width="0.80"/>
<path d="M1004.89,438.70 L995.17,433.81" stroke="#141414" stroke-width="0.80"/>
<path d="M1005.65,437.18 L995.93,432.29" stroke="#141414" stroke-width="0.80"/>
</g>
<path d="M977.55,425.85 V433.65" stroke="#141414" stroke-width="0.80"/>
<path d="M995.55,425.85 V433.65" stroke="#141414" stroke-width="0.80"/>
<path d="M830.00,439.30 H1005.50" stroke="#141414" stroke-width="0.85"/>
<rect x="794.10" y="441.30" width="34.90" height="15.10" stroke="#141414" stroke-width="0.70"/>
<rect x="804.85" y="446.55" width="13.40" height="4.60" stroke="#141414" stroke-width="1.05"/>
<clipPath id="c202"><rect x="794.10" y="441.30" width="34.90" height="15.10"/></clipPath>
<g clip-path="url(#c202)">
<path d="M793.21,439.90 L802.93,444.79" stroke="#141414" stroke-width="0.80"/>
<path d="M792.45,441.42 L802.17,446.31" stroke="#141414" stroke-width="0.80"/>
<path d="M830.65,441.42 L820.93,446.31" stroke="#141414" stroke-width="0.80"/>
<path d="M829.89,439.90 L820.17,444.79" stroke="#141414" stroke-width="0.80"/>
<path d="M792.45,456.28 L802.17,451.39" stroke="#141414" stroke-width="0.80"/>
<path d="M793.21,457.80 L802.93,452.91" stroke="#141414" stroke-width="0.80"/>
<path d="M829.89,457.80 L820.17,452.91" stroke="#141414" stroke-width="0.80"/>
<path d="M830.65,456.28 L820.93,451.39" stroke="#141414" stroke-width="0.80"/>
</g>
<path d="M802.55,444.95 V452.75" stroke="#141414" stroke-width="0.80"/>
<path d="M820.55,444.95 V452.75" stroke="#141414" stroke-width="0.80"/>
<path d="M831.00,439.30 V458.40" stroke="#141414" stroke-width="0.85"/>
<rect x="833.00" y="441.30" width="34.90" height="15.10" stroke="#141414" stroke-width="0.70"/>
<rect x="843.75" y="446.55" width="13.40" height="4.60" stroke="#141414" stroke-width="1.05"/>
<clipPath id="c203"><rect x="833.00" y="441.30" width="34.90" height="15.10"/></clipPath>
<g clip-path="url(#c203)">
<path d="M832.11,439.90 L841.83,444.79" stroke="#141414" stroke-width="0.80"/>
<path d="M831.35,441.42 L841.07,446.31" stroke="#141414" stroke-width="0.80"/>
<path d="M869.55,441.42 L859.83,446.31" stroke="#141414" stroke-width="0.80"/>
<path d="M868.79,439.90 L859.07,444.79" stroke="#141414" stroke-width="0.80"/>
<path d="M831.35,456.28 L841.07,451.39" stroke="#141414" stroke-width="0.80"/>
<path d="M832.11,457.80 L841.83,452.91" stroke="#141414" stroke-width="0.80"/>
<path d="M868.79,457.80 L859.07,452.91" stroke="#141414" stroke-width="0.80"/>
<path d="M869.55,456.28 L859.83,451.39" stroke="#141414" stroke-width="0.80"/>
</g>
<path d="M841.45,444.95 V452.75" stroke="#141414" stroke-width="0.80"/>
<path d="M859.45,444.95 V452.75" stroke="#141414" stroke-width="0.80"/>
<path d="M869.90,439.30 V458.40" stroke="#141414" stroke-width="0.85"/>
<rect x="871.90" y="441.30" width="34.90" height="15.10" stroke="#141414" stroke-width="0.70"/>
<rect x="882.65" y="446.55" width="13.40" height="4.60" stroke="#141414" stroke-width="1.05"/>
<clipPath id="c204"><rect x="871.90" y="441.30" width="34.90" height="15.10"/></clipPath>
<g clip-path="url(#c204)">
<path d="M871.01,439.90 L880.73,444.79" stroke="#141414" stroke-width="0.80"/>
<path d="M870.25,441.42 L879.97,446.31" stroke="#141414" stroke-width="0.80"/>
<path d="M908.45,441.42 L898.73,446.31" stroke="#141414" stroke-width="0.80"/>
<path d="M907.69,439.90 L897.97,444.79" stroke="#141414" stroke-width="0.80"/>
<path d="M870.25,456.28 L879.97,451.39" stroke="#141414" stroke-width="0.80"/>
<path d="M871.01,457.80 L880.73,452.91" stroke="#141414" stroke-width="0.80"/>
<path d="M907.69,457.80 L897.97,452.91" stroke="#141414" stroke-width="0.80"/>
<path d="M908.45,456.28 L898.73,451.39" stroke="#141414" stroke-width="0.80"/>
</g>
<path d="M880.35,444.95 V452.75" stroke="#141414" stroke-width="0.80"/>
<path d="M898.35,444.95 V452.75" stroke="#141414" stroke-width="0.80"/>
<path d="M908.80,439.30 V458.40" stroke="#141414" stroke-width="0.85"/>
<rect x="910.80" y="441.30" width="34.90" height="15.10" stroke="#141414" stroke-width="0.70"/>
<rect x="921.55" y="446.55" width="13.40" height="4.60" stroke="#141414" stroke-width="1.05"/>
<clipPath id="c205"><rect x="910.80" y="441.30" width="34.90" height="15.10"/></clipPath>
<g clip-path="url(#c205)">
<path d="M909.91,439.90 L919.63,444.79" stroke="#141414" stroke-width="0.80"/>
<path d="M909.15,441.42 L918.87,446.31" stroke="#141414" stroke-width="0.80"/>
<path d="M947.35,441.42 L937.63,446.31" stroke="#141414" stroke-width="0.80"/>
<path d="M946.59,439.90 L936.87,444.79" stroke="#141414" stroke-width="0.80"/>
<path d="M909.15,456.28 L918.87,451.39" stroke="#141414" stroke-width="0.80"/>
<path d="M909.91,457.80 L919.63,452.91" stroke="#141414" stroke-width="0.80"/>
<path d="M946.59,457.80 L936.87,452.91" stroke="#141414" stroke-width="0.80"/>
<path d="M947.35,456.28 L937.63,451.39" stroke="#141414" stroke-width="0.80"/>
</g>
<path d="M919.25,444.95 V452.75" stroke="#141414" stroke-width="0.80"/>
<path d="M937.25,444.95 V452.75" stroke="#141414" stroke-width="0.80"/>
<path d="M947.70,439.30 V458.40" stroke="#141414" stroke-width="0.85"/>
<rect x="949.70" y="441.30" width="34.90" height="15.10" stroke="#141414" stroke-width="0.70"/>
<rect x="960.45" y="446.55" width="13.40" height="4.60" stroke="#141414" stroke-width="1.05"/>
<clipPath id="c206"><rect x="949.70" y="441.30" width="34.90" height="15.10"/></clipPath>
<g clip-path="url(#c206)">
<path d="M948.81,439.90 L958.53,444.79" stroke="#141414" stroke-width="0.80"/>
<path d="M948.05,441.42 L957.77,446.31" stroke="#141414" stroke-width="0.80"/>
<path d="M986.25,441.42 L976.53,446.31" stroke="#141414" stroke-width="0.80"/>
<path d="M985.49,439.90 L975.77,444.79" stroke="#141414" stroke-width="0.80"/>
<path d="M948.05,456.28 L957.77,451.39" stroke="#141414" stroke-width="0.80"/>
<path d="M948.81,457.80 L958.53,452.91" stroke="#141414" stroke-width="0.80"/>
<path d="M985.49,457.80 L975.77,452.91" stroke="#141414" stroke-width="0.80"/>
<path d="M986.25,456.28 L976.53,451.39" stroke="#141414" stroke-width="0.80"/>
</g>
<path d="M958.15,444.95 V452.75" stroke="#141414" stroke-width="0.80"/>
<path d="M976.15,444.95 V452.75" stroke="#141414" stroke-width="0.80"/>
<path d="M986.60,439.30 V458.40" stroke="#141414" stroke-width="0.85"/>
<rect x="988.60" y="441.30" width="34.90" height="15.10" stroke="#141414" stroke-width="0.70"/>
<rect x="999.35" y="446.55" width="13.40" height="4.60" stroke="#141414" stroke-width="1.05"/>
<clipPath id="c207"><rect x="988.60" y="441.30" width="34.90" height="15.10"/></clipPath>
<g clip-path="url(#c207)">
<path d="M987.71,439.90 L997.43,444.79" stroke="#141414" stroke-width="0.80"/>
<path d="M986.95,441.42 L996.67,446.31" stroke="#141414" stroke-width="0.80"/>
<path d="M1025.15,441.42 L1015.43,446.31" stroke="#141414" stroke-width="0.80"/>
<path d="M1024.39,439.90 L1014.67,444.79" stroke="#141414" stroke-width="0.80"/>
<path d="M986.95,456.28 L996.67,451.39" stroke="#141414" stroke-width="0.80"/>
<path d="M987.71,457.80 L997.43,452.91" stroke="#141414" stroke-width="0.80"/>
<path d="M1024.39,457.80 L1014.67,452.91" stroke="#141414" stroke-width="0.80"/>
<path d="M1025.15,456.28 L1015.43,451.39" stroke="#141414" stroke-width="0.80"/>
</g>
<path d="M997.05,444.95 V452.75" stroke="#141414" stroke-width="0.80"/>
<path d="M1015.05,444.95 V452.75" stroke="#141414" stroke-width="0.80"/>
<path d="M830.00,458.40 H1005.50" stroke="#141414" stroke-width="0.85"/>
<rect x="813.50" y="460.40" width="34.90" height="15.10" stroke="#141414" stroke-width="0.70"/>
<rect x="824.25" y="465.65" width="13.40" height="4.60" stroke="#141414" stroke-width="1.05"/>
<clipPath id="c208"><rect x="813.50" y="460.40" width="34.90" height="15.10"/></clipPath>
<g clip-path="url(#c208)">
<path d="M812.61,459.00 L822.33,463.89" stroke="#141414" stroke-width="0.80"/>
<path d="M811.85,460.52 L821.57,465.41" stroke="#141414" stroke-width="0.80"/>
<path d="M850.05,460.52 L840.33,465.41" stroke="#141414" stroke-width="0.80"/>
<path d="M849.29,459.00 L839.57,463.89" stroke="#141414" stroke-width="0.80"/>
<path d="M811.85,475.38 L821.57,470.49" stroke="#141414" stroke-width="0.80"/>
<path d="M812.61,476.90 L822.33,472.01" stroke="#141414" stroke-width="0.80"/>
<path d="M849.29,476.90 L839.57,472.01" stroke="#141414" stroke-width="0.80"/>
<path d="M850.05,475.38 L840.33,470.49" stroke="#141414" stroke-width="0.80"/>
</g>
<path d="M821.95,464.05 V471.85" stroke="#141414" stroke-width="0.80"/>
<path d="M839.95,464.05 V471.85" stroke="#141414" stroke-width="0.80"/>
<path d="M850.40,458.40 V477.50" stroke="#141414" stroke-width="0.85"/>
<rect x="852.40" y="460.40" width="34.90" height="15.10" stroke="#141414" stroke-width="0.70"/>
<rect x="863.15" y="465.65" width="13.40" height="4.60" stroke="#141414" stroke-width="1.05"/>
<clipPath id="c209"><rect x="852.40" y="460.40" width="34.90" height="15.10"/></clipPath>
<g clip-path="url(#c209)">
<path d="M851.51,459.00 L861.23,463.89" stroke="#141414" stroke-width="0.80"/>
<path d="M850.75,460.52 L860.47,465.41" stroke="#141414" stroke-width="0.80"/>
<path d="M888.95,460.52 L879.23,465.41" stroke="#141414" stroke-width="0.80"/>
<path d="M888.19,459.00 L878.47,463.89" stroke="#141414" stroke-width="0.80"/>
<path d="M850.75,475.38 L860.47,470.49" stroke="#141414" stroke-width="0.80"/>
<path d="M851.51,476.90 L861.23,472.01" stroke="#141414" stroke-width="0.80"/>
<path d="M888.19,476.90 L878.47,472.01" stroke="#141414" stroke-width="0.80"/>
<path d="M888.95,475.38 L879.23,470.49" stroke="#141414" stroke-width="0.80"/>
</g>
<path d="M860.85,464.05 V471.85" stroke="#141414" stroke-width="0.80"/>
<path d="M878.85,464.05 V471.85" stroke="#141414" stroke-width="0.80"/>
<path d="M889.30,458.40 V477.50" stroke="#141414" stroke-width="0.85"/>
<rect x="891.30" y="460.40" width="34.90" height="15.10" stroke="#141414" stroke-width="0.70"/>
<rect x="902.05" y="465.65" width="13.40" height="4.60" stroke="#141414" stroke-width="1.05"/>
<clipPath id="c210"><rect x="891.30" y="460.40" width="34.90" height="15.10"/></clipPath>
<g clip-path="url(#c210)">
<path d="M890.41,459.00 L900.13,463.89" stroke="#141414" stroke-width="0.80"/>
<path d="M889.65,460.52 L899.37,465.41" stroke="#141414" stroke-width="0.80"/>
<path d="M927.85,460.52 L918.13,465.41" stroke="#141414" stroke-width="0.80"/>
<path d="M927.09,459.00 L917.37,463.89" stroke="#141414" stroke-width="0.80"/>
<path d="M889.65,475.38 L899.37,470.49" stroke="#141414" stroke-width="0.80"/>
<path d="M890.41,476.90 L900.13,472.01" stroke="#141414" stroke-width="0.80"/>
<path d="M927.09,476.90 L917.37,472.01" stroke="#141414" stroke-width="0.80"/>
<path d="M927.85,475.38 L918.13,470.49" stroke="#141414" stroke-width="0.80"/>
</g>
<path d="M899.75,464.05 V471.85" stroke="#141414" stroke-width="0.80"/>
<path d="M917.75,464.05 V471.85" stroke="#141414" stroke-width="0.80"/>
<path d="M928.20,458.40 V477.50" stroke="#141414" stroke-width="0.85"/>
<rect x="930.20" y="460.40" width="34.90" height="15.10" stroke="#141414" stroke-width="0.70"/>
<rect x="940.95" y="465.65" width="13.40" height="4.60" stroke="#141414" stroke-width="1.05"/>
<clipPath id="c211"><rect x="930.20" y="460.40" width="34.90" height="15.10"/></clipPath>
<g clip-path="url(#c211)">
<path d="M929.31,459.00 L939.03,463.89" stroke="#141414" stroke-width="0.80"/>
<path d="M928.55,460.52 L938.27,465.41" stroke="#141414" stroke-width="0.80"/>
<path d="M966.75,460.52 L957.03,465.41" stroke="#141414" stroke-width="0.80"/>
<path d="M965.99,459.00 L956.27,463.89" stroke="#141414" stroke-width="0.80"/>
<path d="M928.55,475.38 L938.27,470.49" stroke="#141414" stroke-width="0.80"/>
<path d="M929.31,476.90 L939.03,472.01" stroke="#141414" stroke-width="0.80"/>
<path d="M965.99,476.90 L956.27,472.01" stroke="#141414" stroke-width="0.80"/>
<path d="M966.75,475.38 L957.03,470.49" stroke="#141414" stroke-width="0.80"/>
</g>
<path d="M938.65,464.05 V471.85" stroke="#141414" stroke-width="0.80"/>
<path d="M956.65,464.05 V471.85" stroke="#141414" stroke-width="0.80"/>
<path d="M967.10,458.40 V477.50" stroke="#141414" stroke-width="0.85"/>
<rect x="969.10" y="460.40" width="34.90" height="15.10" stroke="#141414" stroke-width="0.70"/>
<rect x="979.85" y="465.65" width="13.40" height="4.60" stroke="#141414" stroke-width="1.05"/>
<clipPath id="c212"><rect x="969.10" y="460.40" width="34.90" height="15.10"/></clipPath>
<g clip-path="url(#c212)">
<path d="M968.21,459.00 L977.93,463.89" stroke="#141414" stroke-width="0.80"/>
<path d="M967.45,460.52 L977.17,465.41" stroke="#141414" stroke-width="0.80"/>
<path d="M1005.65,460.52 L995.93,465.41" stroke="#141414" stroke-width="0.80"/>
<path d="M1004.89,459.00 L995.17,463.89" stroke="#141414" stroke-width="0.80"/>
<path d="M967.45,475.38 L977.17,470.49" stroke="#141414" stroke-width="0.80"/>
<path d="M968.21,476.90 L977.93,472.01" stroke="#141414" stroke-width="0.80"/>
<path d="M1004.89,476.90 L995.17,472.01" stroke="#141414" stroke-width="0.80"/>
<path d="M1005.65,475.38 L995.93,470.49" stroke="#141414" stroke-width="0.80"/>
</g>
<path d="M977.55,464.05 V471.85" stroke="#141414" stroke-width="0.80"/>
<path d="M995.55,464.05 V471.85" stroke="#141414" stroke-width="0.80"/>
<path d="M830.00,477.50 H1005.50" stroke="#141414" stroke-width="0.85"/>
<rect x="794.10" y="479.50" width="34.90" height="15.10" stroke="#141414" stroke-width="0.70"/>
<rect x="804.85" y="484.75" width="13.40" height="4.60" stroke="#141414" stroke-width="1.05"/>
<clipPath id="c213"><rect x="794.10" y="479.50" width="34.90" height="15.10"/></clipPath>
<g clip-path="url(#c213)">
<path d="M793.21,478.10 L802.93,482.99" stroke="#141414" stroke-width="0.80"/>
<path d="M792.45,479.62 L802.17,484.51" stroke="#141414" stroke-width="0.80"/>
<path d="M830.65,479.62 L820.93,484.51" stroke="#141414" stroke-width="0.80"/>
<path d="M829.89,478.10 L820.17,482.99" stroke="#141414" stroke-width="0.80"/>
<path d="M792.45,494.48 L802.17,489.59" stroke="#141414" stroke-width="0.80"/>
<path d="M793.21,496.00 L802.93,491.11" stroke="#141414" stroke-width="0.80"/>
<path d="M829.89,496.00 L820.17,491.11" stroke="#141414" stroke-width="0.80"/>
<path d="M830.65,494.48 L820.93,489.59" stroke="#141414" stroke-width="0.80"/>
</g>
<path d="M802.55,483.15 V490.95" stroke="#141414" stroke-width="0.80"/>
<path d="M820.55,483.15 V490.95" stroke="#141414" stroke-width="0.80"/>
<path d="M831.00,477.50 V496.60" stroke="#141414" stroke-width="0.85"/>
<rect x="833.00" y="479.50" width="34.90" height="15.10" stroke="#141414" stroke-width="0.70"/>
<rect x="843.75" y="484.75" width="13.40" height="4.60" stroke="#141414" stroke-width="1.05"/>
<clipPath id="c214"><rect x="833.00" y="479.50" width="34.90" height="15.10"/></clipPath>
<g clip-path="url(#c214)">
<path d="M832.11,478.10 L841.83,482.99" stroke="#141414" stroke-width="0.80"/>
<path d="M831.35,479.62 L841.07,484.51" stroke="#141414" stroke-width="0.80"/>
<path d="M869.55,479.62 L859.83,484.51" stroke="#141414" stroke-width="0.80"/>
<path d="M868.79,478.10 L859.07,482.99" stroke="#141414" stroke-width="0.80"/>
<path d="M831.35,494.48 L841.07,489.59" stroke="#141414" stroke-width="0.80"/>
<path d="M832.11,496.00 L841.83,491.11" stroke="#141414" stroke-width="0.80"/>
<path d="M868.79,496.00 L859.07,491.11" stroke="#141414" stroke-width="0.80"/>
<path d="M869.55,494.48 L859.83,489.59" stroke="#141414" stroke-width="0.80"/>
</g>
<path d="M841.45,483.15 V490.95" stroke="#141414" stroke-width="0.80"/>
<path d="M859.45,483.15 V490.95" stroke="#141414" stroke-width="0.80"/>
<path d="M869.90,477.50 V496.60" stroke="#141414" stroke-width="0.85"/>
<rect x="871.90" y="479.50" width="34.90" height="15.10" stroke="#141414" stroke-width="0.70"/>
<rect x="882.65" y="484.75" width="13.40" height="4.60" stroke="#141414" stroke-width="1.05"/>
<clipPath id="c215"><rect x="871.90" y="479.50" width="34.90" height="15.10"/></clipPath>
<g clip-path="url(#c215)">
<path d="M871.01,478.10 L880.73,482.99" stroke="#141414" stroke-width="0.80"/>
<path d="M870.25,479.62 L879.97,484.51" stroke="#141414" stroke-width="0.80"/>
<path d="M908.45,479.62 L898.73,484.51" stroke="#141414" stroke-width="0.80"/>
<path d="M907.69,478.10 L897.97,482.99" stroke="#141414" stroke-width="0.80"/>
<path d="M870.25,494.48 L879.97,489.59" stroke="#141414" stroke-width="0.80"/>
<path d="M871.01,496.00 L880.73,491.11" stroke="#141414" stroke-width="0.80"/>
<path d="M907.69,496.00 L897.97,491.11" stroke="#141414" stroke-width="0.80"/>
<path d="M908.45,494.48 L898.73,489.59" stroke="#141414" stroke-width="0.80"/>
</g>
<path d="M880.35,483.15 V490.95" stroke="#141414" stroke-width="0.80"/>
<path d="M898.35,483.15 V490.95" stroke="#141414" stroke-width="0.80"/>
<path d="M908.80,477.50 V496.60" stroke="#141414" stroke-width="0.85"/>
<rect x="910.80" y="479.50" width="34.90" height="15.10" stroke="#141414" stroke-width="0.70"/>
<rect x="921.55" y="484.75" width="13.40" height="4.60" stroke="#141414" stroke-width="1.05"/>
<clipPath id="c216"><rect x="910.80" y="479.50" width="34.90" height="15.10"/></clipPath>
<g clip-path="url(#c216)">
<path d="M909.91,478.10 L919.63,482.99" stroke="#141414" stroke-width="0.80"/>
<path d="M909.15,479.62 L918.87,484.51" stroke="#141414" stroke-width="0.80"/>
<path d="M947.35,479.62 L937.63,484.51" stroke="#141414" stroke-width="0.80"/>
<path d="M946.59,478.10 L936.87,482.99" stroke="#141414" stroke-width="0.80"/>
<path d="M909.15,494.48 L918.87,489.59" stroke="#141414" stroke-width="0.80"/>
<path d="M909.91,496.00 L919.63,491.11" stroke="#141414" stroke-width="0.80"/>
<path d="M946.59,496.00 L936.87,491.11" stroke="#141414" stroke-width="0.80"/>
<path d="M947.35,494.48 L937.63,489.59" stroke="#141414" stroke-width="0.80"/>
</g>
<path d="M919.25,483.15 V490.95" stroke="#141414" stroke-width="0.80"/>
<path d="M937.25,483.15 V490.95" stroke="#141414" stroke-width="0.80"/>
<path d="M947.70,477.50 V496.60" stroke="#141414" stroke-width="0.85"/>
<rect x="949.70" y="479.50" width="34.90" height="15.10" stroke="#141414" stroke-width="0.70"/>
<rect x="960.45" y="484.75" width="13.40" height="4.60" stroke="#141414" stroke-width="1.05"/>
<clipPath id="c217"><rect x="949.70" y="479.50" width="34.90" height="15.10"/></clipPath>
<g clip-path="url(#c217)">
<path d="M948.81,478.10 L958.53,482.99" stroke="#141414" stroke-width="0.80"/>
<path d="M948.05,479.62 L957.77,484.51" stroke="#141414" stroke-width="0.80"/>
<path d="M986.25,479.62 L976.53,484.51" stroke="#141414" stroke-width="0.80"/>
<path d="M985.49,478.10 L975.77,482.99" stroke="#141414" stroke-width="0.80"/>
<path d="M948.05,494.48 L957.77,489.59" stroke="#141414" stroke-width="0.80"/>
<path d="M948.81,496.00 L958.53,491.11" stroke="#141414" stroke-width="0.80"/>
<path d="M985.49,496.00 L975.77,491.11" stroke="#141414" stroke-width="0.80"/>
<path d="M986.25,494.48 L976.53,489.59" stroke="#141414" stroke-width="0.80"/>
</g>
<path d="M958.15,483.15 V490.95" stroke="#141414" stroke-width="0.80"/>
<path d="M976.15,483.15 V490.95" stroke="#141414" stroke-width="0.80"/>
<path d="M986.60,477.50 V496.60" stroke="#141414" stroke-width="0.85"/>
<rect x="988.60" y="479.50" width="34.90" height="15.10" stroke="#141414" stroke-width="0.70"/>
<rect x="999.35" y="484.75" width="13.40" height="4.60" stroke="#141414" stroke-width="1.05"/>
<clipPath id="c218"><rect x="988.60" y="479.50" width="34.90" height="15.10"/></clipPath>
<g clip-path="url(#c218)">
<path d="M987.71,478.10 L997.43,482.99" stroke="#141414" stroke-width="0.80"/>
<path d="M986.95,479.62 L996.67,484.51" stroke="#141414" stroke-width="0.80"/>
<path d="M1025.15,479.62 L1015.43,484.51" stroke="#141414" stroke-width="0.80"/>
<path d="M1024.39,478.10 L1014.67,482.99" stroke="#141414" stroke-width="0.80"/>
<path d="M986.95,494.48 L996.67,489.59" stroke="#141414" stroke-width="0.80"/>
<path d="M987.71,496.00 L997.43,491.11" stroke="#141414" stroke-width="0.80"/>
<path d="M1024.39,496.00 L1014.67,491.11" stroke="#141414" stroke-width="0.80"/>
<path d="M1025.15,494.48 L1015.43,489.59" stroke="#141414" stroke-width="0.80"/>
</g>
<path d="M997.05,483.15 V490.95" stroke="#141414" stroke-width="0.80"/>
<path d="M1015.05,483.15 V490.95" stroke="#141414" stroke-width="0.80"/>
<path d="M830.00,496.60 H1005.50" stroke="#141414" stroke-width="0.85"/>
<rect x="813.50" y="498.60" width="34.90" height="15.10" stroke="#141414" stroke-width="0.70"/>
<rect x="824.25" y="503.85" width="13.40" height="4.60" stroke="#141414" stroke-width="1.05"/>
<clipPath id="c219"><rect x="813.50" y="498.60" width="34.90" height="15.10"/></clipPath>
<g clip-path="url(#c219)">
<path d="M812.61,497.20 L822.33,502.09" stroke="#141414" stroke-width="0.80"/>
<path d="M811.85,498.72 L821.57,503.61" stroke="#141414" stroke-width="0.80"/>
<path d="M850.05,498.72 L840.33,503.61" stroke="#141414" stroke-width="0.80"/>
<path d="M849.29,497.20 L839.57,502.09" stroke="#141414" stroke-width="0.80"/>
<path d="M811.85,513.58 L821.57,508.69" stroke="#141414" stroke-width="0.80"/>
<path d="M812.61,515.10 L822.33,510.21" stroke="#141414" stroke-width="0.80"/>
<path d="M849.29,515.10 L839.57,510.21" stroke="#141414" stroke-width="0.80"/>
<path d="M850.05,513.58 L840.33,508.69" stroke="#141414" stroke-width="0.80"/>
</g>
<path d="M821.95,502.25 V510.05" stroke="#141414" stroke-width="0.80"/>
<path d="M839.95,502.25 V510.05" stroke="#141414" stroke-width="0.80"/>
<path d="M850.40,496.60 V515.70" stroke="#141414" stroke-width="0.85"/>
<rect x="852.40" y="498.60" width="34.90" height="15.10" stroke="#141414" stroke-width="0.70"/>
<rect x="863.15" y="503.85" width="13.40" height="4.60" stroke="#141414" stroke-width="1.05"/>
<clipPath id="c220"><rect x="852.40" y="498.60" width="34.90" height="15.10"/></clipPath>
<g clip-path="url(#c220)">
<path d="M851.51,497.20 L861.23,502.09" stroke="#141414" stroke-width="0.80"/>
<path d="M850.75,498.72 L860.47,503.61" stroke="#141414" stroke-width="0.80"/>
<path d="M888.95,498.72 L879.23,503.61" stroke="#141414" stroke-width="0.80"/>
<path d="M888.19,497.20 L878.47,502.09" stroke="#141414" stroke-width="0.80"/>
<path d="M850.75,513.58 L860.47,508.69" stroke="#141414" stroke-width="0.80"/>
<path d="M851.51,515.10 L861.23,510.21" stroke="#141414" stroke-width="0.80"/>
<path d="M888.19,515.10 L878.47,510.21" stroke="#141414" stroke-width="0.80"/>
<path d="M888.95,513.58 L879.23,508.69" stroke="#141414" stroke-width="0.80"/>
</g>
<path d="M860.85,502.25 V510.05" stroke="#141414" stroke-width="0.80"/>
<path d="M878.85,502.25 V510.05" stroke="#141414" stroke-width="0.80"/>
<path d="M889.30,496.60 V515.70" stroke="#141414" stroke-width="0.85"/>
<rect x="891.30" y="498.60" width="34.90" height="15.10" stroke="#141414" stroke-width="0.70"/>
<rect x="902.05" y="503.85" width="13.40" height="4.60" stroke="#141414" stroke-width="1.05"/>
<clipPath id="c221"><rect x="891.30" y="498.60" width="34.90" height="15.10"/></clipPath>
<g clip-path="url(#c221)">
<path d="M890.41,497.20 L900.13,502.09" stroke="#141414" stroke-width="0.80"/>
<path d="M889.65,498.72 L899.37,503.61" stroke="#141414" stroke-width="0.80"/>
<path d="M927.85,498.72 L918.13,503.61" stroke="#141414" stroke-width="0.80"/>
<path d="M927.09,497.20 L917.37,502.09" stroke="#141414" stroke-width="0.80"/>
<path d="M889.65,513.58 L899.37,508.69" stroke="#141414" stroke-width="0.80"/>
<path d="M890.41,515.10 L900.13,510.21" stroke="#141414" stroke-width="0.80"/>
<path d="M927.09,515.10 L917.37,510.21" stroke="#141414" stroke-width="0.80"/>
<path d="M927.85,513.58 L918.13,508.69" stroke="#141414" stroke-width="0.80"/>
</g>
<path d="M899.75,502.25 V510.05" stroke="#141414" stroke-width="0.80"/>
<path d="M917.75,502.25 V510.05" stroke="#141414" stroke-width="0.80"/>
<path d="M928.20,496.60 V515.70" stroke="#141414" stroke-width="0.85"/>
<rect x="930.20" y="498.60" width="34.90" height="15.10" stroke="#141414" stroke-width="0.70"/>
<rect x="940.95" y="503.85" width="13.40" height="4.60" stroke="#141414" stroke-width="1.05"/>
<clipPath id="c222"><rect x="930.20" y="498.60" width="34.90" height="15.10"/></clipPath>
<g clip-path="url(#c222)">
<path d="M929.31,497.20 L939.03,502.09" stroke="#141414" stroke-width="0.80"/>
<path d="M928.55,498.72 L938.27,503.61" stroke="#141414" stroke-width="0.80"/>
<path d="M966.75,498.72 L957.03,503.61" stroke="#141414" stroke-width="0.80"/>
<path d="M965.99,497.20 L956.27,502.09" stroke="#141414" stroke-width="0.80"/>
<path d="M928.55,513.58 L938.27,508.69" stroke="#141414" stroke-width="0.80"/>
<path d="M929.31,515.10 L939.03,510.21" stroke="#141414" stroke-width="0.80"/>
<path d="M965.99,515.10 L956.27,510.21" stroke="#141414" stroke-width="0.80"/>
<path d="M966.75,513.58 L957.03,508.69" stroke="#141414" stroke-width="0.80"/>
</g>
<path d="M938.65,502.25 V510.05" stroke="#141414" stroke-width="0.80"/>
<path d="M956.65,502.25 V510.05" stroke="#141414" stroke-width="0.80"/>
<path d="M967.10,496.60 V515.70" stroke="#141414" stroke-width="0.85"/>
<rect x="969.10" y="498.60" width="34.90" height="15.10" stroke="#141414" stroke-width="0.70"/>
<rect x="979.85" y="503.85" width="13.40" height="4.60" stroke="#141414" stroke-width="1.05"/>
<clipPath id="c223"><rect x="969.10" y="498.60" width="34.90" height="15.10"/></clipPath>
<g clip-path="url(#c223)">
<path d="M968.21,497.20 L977.93,502.09" stroke="#141414" stroke-width="0.80"/>
<path d="M967.45,498.72 L977.17,503.61" stroke="#141414" stroke-width="0.80"/>
<path d="M1005.65,498.72 L995.93,503.61" stroke="#141414" stroke-width="0.80"/>
<path d="M1004.89,497.20 L995.17,502.09" stroke="#141414" stroke-width="0.80"/>
<path d="M967.45,513.58 L977.17,508.69" stroke="#141414" stroke-width="0.80"/>
<path d="M968.21,515.10 L977.93,510.21" stroke="#141414" stroke-width="0.80"/>
<path d="M1004.89,515.10 L995.17,510.21" stroke="#141414" stroke-width="0.80"/>
<path d="M1005.65,513.58 L995.93,508.69" stroke="#141414" stroke-width="0.80"/>
</g>
<path d="M977.55,502.25 V510.05" stroke="#141414" stroke-width="0.80"/>
<path d="M995.55,502.25 V510.05" stroke="#141414" stroke-width="0.80"/>
<path d="M830.00,515.70 H1005.50" stroke="#141414" stroke-width="0.85"/>
<rect x="794.10" y="517.70" width="34.90" height="15.10" stroke="#141414" stroke-width="0.70"/>
<rect x="804.85" y="522.95" width="13.40" height="4.60" stroke="#141414" stroke-width="1.05"/>
<clipPath id="c224"><rect x="794.10" y="517.70" width="34.90" height="15.10"/></clipPath>
<g clip-path="url(#c224)">
<path d="M793.21,516.30 L802.93,521.19" stroke="#141414" stroke-width="0.80"/>
<path d="M792.45,517.82 L802.17,522.71" stroke="#141414" stroke-width="0.80"/>
<path d="M830.65,517.82 L820.93,522.71" stroke="#141414" stroke-width="0.80"/>
<path d="M829.89,516.30 L820.17,521.19" stroke="#141414" stroke-width="0.80"/>
<path d="M792.45,532.68 L802.17,527.79" stroke="#141414" stroke-width="0.80"/>
<path d="M793.21,534.20 L802.93,529.31" stroke="#141414" stroke-width="0.80"/>
<path d="M829.89,534.20 L820.17,529.31" stroke="#141414" stroke-width="0.80"/>
<path d="M830.65,532.68 L820.93,527.79" stroke="#141414" stroke-width="0.80"/>
</g>
<path d="M802.55,521.35 V529.15" stroke="#141414" stroke-width="0.80"/>
<path d="M820.55,521.35 V529.15" stroke="#141414" stroke-width="0.80"/>
<path d="M831.00,515.70 V534.80" stroke="#141414" stroke-width="0.85"/>
<rect x="833.00" y="517.70" width="34.90" height="15.10" stroke="#141414" stroke-width="0.70"/>
<rect x="843.75" y="522.95" width="13.40" height="4.60" stroke="#141414" stroke-width="1.05"/>
<clipPath id="c225"><rect x="833.00" y="517.70" width="34.90" height="15.10"/></clipPath>
<g clip-path="url(#c225)">
<path d="M832.11,516.30 L841.83,521.19" stroke="#141414" stroke-width="0.80"/>
<path d="M831.35,517.82 L841.07,522.71" stroke="#141414" stroke-width="0.80"/>
<path d="M869.55,517.82 L859.83,522.71" stroke="#141414" stroke-width="0.80"/>
<path d="M868.79,516.30 L859.07,521.19" stroke="#141414" stroke-width="0.80"/>
<path d="M831.35,532.68 L841.07,527.79" stroke="#141414" stroke-width="0.80"/>
<path d="M832.11,534.20 L841.83,529.31" stroke="#141414" stroke-width="0.80"/>
<path d="M868.79,534.20 L859.07,529.31" stroke="#141414" stroke-width="0.80"/>
<path d="M869.55,532.68 L859.83,527.79" stroke="#141414" stroke-width="0.80"/>
</g>
<path d="M841.45,521.35 V529.15" stroke="#141414" stroke-width="0.80"/>
<path d="M859.45,521.35 V529.15" stroke="#141414" stroke-width="0.80"/>
<path d="M869.90,515.70 V534.80" stroke="#141414" stroke-width="0.85"/>
<rect x="871.90" y="517.70" width="34.90" height="15.10" stroke="#141414" stroke-width="0.70"/>
<rect x="882.65" y="522.95" width="13.40" height="4.60" stroke="#141414" stroke-width="1.05"/>
<clipPath id="c226"><rect x="871.90" y="517.70" width="34.90" height="15.10"/></clipPath>
<g clip-path="url(#c226)">
<path d="M871.01,516.30 L880.73,521.19" stroke="#141414" stroke-width="0.80"/>
<path d="M870.25,517.82 L879.97,522.71" stroke="#141414" stroke-width="0.80"/>
<path d="M908.45,517.82 L898.73,522.71" stroke="#141414" stroke-width="0.80"/>
<path d="M907.69,516.30 L897.97,521.19" stroke="#141414" stroke-width="0.80"/>
<path d="M870.25,532.68 L879.97,527.79" stroke="#141414" stroke-width="0.80"/>
<path d="M871.01,534.20 L880.73,529.31" stroke="#141414" stroke-width="0.80"/>
<path d="M907.69,534.20 L897.97,529.31" stroke="#141414" stroke-width="0.80"/>
<path d="M908.45,532.68 L898.73,527.79" stroke="#141414" stroke-width="0.80"/>
</g>
<path d="M880.35,521.35 V529.15" stroke="#141414" stroke-width="0.80"/>
<path d="M898.35,521.35 V529.15" stroke="#141414" stroke-width="0.80"/>
<path d="M908.80,515.70 V534.80" stroke="#141414" stroke-width="0.85"/>
<rect x="910.80" y="517.70" width="34.90" height="15.10" stroke="#141414" stroke-width="0.70"/>
<rect x="921.55" y="522.95" width="13.40" height="4.60" stroke="#141414" stroke-width="1.05"/>
<clipPath id="c227"><rect x="910.80" y="517.70" width="34.90" height="15.10"/></clipPath>
<g clip-path="url(#c227)">
<path d="M909.91,516.30 L919.63,521.19" stroke="#141414" stroke-width="0.80"/>
<path d="M909.15,517.82 L918.87,522.71" stroke="#141414" stroke-width="0.80"/>
<path d="M947.35,517.82 L937.63,522.71" stroke="#141414" stroke-width="0.80"/>
<path d="M946.59,516.30 L936.87,521.19" stroke="#141414" stroke-width="0.80"/>
<path d="M909.15,532.68 L918.87,527.79" stroke="#141414" stroke-width="0.80"/>
<path d="M909.91,534.20 L919.63,529.31" stroke="#141414" stroke-width="0.80"/>
<path d="M946.59,534.20 L936.87,529.31" stroke="#141414" stroke-width="0.80"/>
<path d="M947.35,532.68 L937.63,527.79" stroke="#141414" stroke-width="0.80"/>
</g>
<path d="M919.25,521.35 V529.15" stroke="#141414" stroke-width="0.80"/>
<path d="M937.25,521.35 V529.15" stroke="#141414" stroke-width="0.80"/>
<path d="M947.70,515.70 V534.80" stroke="#141414" stroke-width="0.85"/>
<rect x="949.70" y="517.70" width="34.90" height="15.10" stroke="#141414" stroke-width="0.70"/>
<rect x="960.45" y="522.95" width="13.40" height="4.60" stroke="#141414" stroke-width="1.05"/>
<clipPath id="c228"><rect x="949.70" y="517.70" width="34.90" height="15.10"/></clipPath>
<g clip-path="url(#c228)">
<path d="M948.81,516.30 L958.53,521.19" stroke="#141414" stroke-width="0.80"/>
<path d="M948.05,517.82 L957.77,522.71" stroke="#141414" stroke-width="0.80"/>
<path d="M986.25,517.82 L976.53,522.71" stroke="#141414" stroke-width="0.80"/>
<path d="M985.49,516.30 L975.77,521.19" stroke="#141414" stroke-width="0.80"/>
<path d="M948.05,532.68 L957.77,527.79" stroke="#141414" stroke-width="0.80"/>
<path d="M948.81,534.20 L958.53,529.31" stroke="#141414" stroke-width="0.80"/>
<path d="M985.49,534.20 L975.77,529.31" stroke="#141414" stroke-width="0.80"/>
<path d="M986.25,532.68 L976.53,527.79" stroke="#141414" stroke-width="0.80"/>
</g>
<path d="M958.15,521.35 V529.15" stroke="#141414" stroke-width="0.80"/>
<path d="M976.15,521.35 V529.15" stroke="#141414" stroke-width="0.80"/>
<path d="M986.60,515.70 V534.80" stroke="#141414" stroke-width="0.85"/>
<rect x="988.60" y="517.70" width="34.90" height="15.10" stroke="#141414" stroke-width="0.70"/>
<rect x="999.35" y="522.95" width="13.40" height="4.60" stroke="#141414" stroke-width="1.05"/>
<clipPath id="c229"><rect x="988.60" y="517.70" width="34.90" height="15.10"/></clipPath>
<g clip-path="url(#c229)">
<path d="M987.71,516.30 L997.43,521.19" stroke="#141414" stroke-width="0.80"/>
<path d="M986.95,517.82 L996.67,522.71" stroke="#141414" stroke-width="0.80"/>
<path d="M1025.15,517.82 L1015.43,522.71" stroke="#141414" stroke-width="0.80"/>
<path d="M1024.39,516.30 L1014.67,521.19" stroke="#141414" stroke-width="0.80"/>
<path d="M986.95,532.68 L996.67,527.79" stroke="#141414" stroke-width="0.80"/>
<path d="M987.71,534.20 L997.43,529.31" stroke="#141414" stroke-width="0.80"/>
<path d="M1024.39,534.20 L1014.67,529.31" stroke="#141414" stroke-width="0.80"/>
<path d="M1025.15,532.68 L1015.43,527.79" stroke="#141414" stroke-width="0.80"/>
</g>
<path d="M997.05,521.35 V529.15" stroke="#141414" stroke-width="0.80"/>
<path d="M1015.05,521.35 V529.15" stroke="#141414" stroke-width="0.80"/>
<path d="M830.00,534.80 H1005.50" stroke="#141414" stroke-width="0.85"/>
<rect x="813.50" y="536.80" width="34.90" height="15.10" stroke="#141414" stroke-width="0.70"/>
<rect x="824.25" y="542.05" width="13.40" height="4.60" stroke="#141414" stroke-width="1.05"/>
<clipPath id="c230"><rect x="813.50" y="536.80" width="34.90" height="15.10"/></clipPath>
<g clip-path="url(#c230)">
<path d="M812.61,535.40 L822.33,540.29" stroke="#141414" stroke-width="0.80"/>
<path d="M811.85,536.92 L821.57,541.81" stroke="#141414" stroke-width="0.80"/>
<path d="M850.05,536.92 L840.33,541.81" stroke="#141414" stroke-width="0.80"/>
<path d="M849.29,535.40 L839.57,540.29" stroke="#141414" stroke-width="0.80"/>
<path d="M811.85,551.78 L821.57,546.89" stroke="#141414" stroke-width="0.80"/>
<path d="M812.61,553.30 L822.33,548.41" stroke="#141414" stroke-width="0.80"/>
<path d="M849.29,553.30 L839.57,548.41" stroke="#141414" stroke-width="0.80"/>
<path d="M850.05,551.78 L840.33,546.89" stroke="#141414" stroke-width="0.80"/>
</g>
<path d="M821.95,540.45 V548.25" stroke="#141414" stroke-width="0.80"/>
<path d="M839.95,540.45 V548.25" stroke="#141414" stroke-width="0.80"/>
<path d="M850.40,534.80 V553.90" stroke="#141414" stroke-width="0.85"/>
<rect x="852.40" y="536.80" width="34.90" height="15.10" stroke="#141414" stroke-width="0.70"/>
<rect x="863.15" y="542.05" width="13.40" height="4.60" stroke="#141414" stroke-width="1.05"/>
<clipPath id="c231"><rect x="852.40" y="536.80" width="34.90" height="15.10"/></clipPath>
<g clip-path="url(#c231)">
<path d="M851.51,535.40 L861.23,540.29" stroke="#141414" stroke-width="0.80"/>
<path d="M850.75,536.92 L860.47,541.81" stroke="#141414" stroke-width="0.80"/>
<path d="M888.95,536.92 L879.23,541.81" stroke="#141414" stroke-width="0.80"/>
<path d="M888.19,535.40 L878.47,540.29" stroke="#141414" stroke-width="0.80"/>
<path d="M850.75,551.78 L860.47,546.89" stroke="#141414" stroke-width="0.80"/>
<path d="M851.51,553.30 L861.23,548.41" stroke="#141414" stroke-width="0.80"/>
<path d="M888.19,553.30 L878.47,548.41" stroke="#141414" stroke-width="0.80"/>
<path d="M888.95,551.78 L879.23,546.89" stroke="#141414" stroke-width="0.80"/>
</g>
<path d="M860.85,540.45 V548.25" stroke="#141414" stroke-width="0.80"/>
<path d="M878.85,540.45 V548.25" stroke="#141414" stroke-width="0.80"/>
<path d="M889.30,534.80 V553.90" stroke="#141414" stroke-width="0.85"/>
<rect x="891.30" y="536.80" width="34.90" height="15.10" stroke="#141414" stroke-width="0.70"/>
<rect x="902.05" y="542.05" width="13.40" height="4.60" stroke="#141414" stroke-width="1.05"/>
<clipPath id="c232"><rect x="891.30" y="536.80" width="34.90" height="15.10"/></clipPath>
<g clip-path="url(#c232)">
<path d="M890.41,535.40 L900.13,540.29" stroke="#141414" stroke-width="0.80"/>
<path d="M889.65,536.92 L899.37,541.81" stroke="#141414" stroke-width="0.80"/>
<path d="M927.85,536.92 L918.13,541.81" stroke="#141414" stroke-width="0.80"/>
<path d="M927.09,535.40 L917.37,540.29" stroke="#141414" stroke-width="0.80"/>
<path d="M889.65,551.78 L899.37,546.89" stroke="#141414" stroke-width="0.80"/>
<path d="M890.41,553.30 L900.13,548.41" stroke="#141414" stroke-width="0.80"/>
<path d="M927.09,553.30 L917.37,548.41" stroke="#141414" stroke-width="0.80"/>
<path d="M927.85,551.78 L918.13,546.89" stroke="#141414" stroke-width="0.80"/>
</g>
<path d="M899.75,540.45 V548.25" stroke="#141414" stroke-width="0.80"/>
<path d="M917.75,540.45 V548.25" stroke="#141414" stroke-width="0.80"/>
<path d="M928.20,534.80 V553.90" stroke="#141414" stroke-width="0.85"/>
<rect x="930.20" y="536.80" width="34.90" height="15.10" stroke="#141414" stroke-width="0.70"/>
<rect x="940.95" y="542.05" width="13.40" height="4.60" stroke="#141414" stroke-width="1.05"/>
<clipPath id="c233"><rect x="930.20" y="536.80" width="34.90" height="15.10"/></clipPath>
<g clip-path="url(#c233)">
<path d="M929.31,535.40 L939.03,540.29" stroke="#141414" stroke-width="0.80"/>
<path d="M928.55,536.92 L938.27,541.81" stroke="#141414" stroke-width="0.80"/>
<path d="M966.75,536.92 L957.03,541.81" stroke="#141414" stroke-width="0.80"/>
<path d="M965.99,535.40 L956.27,540.29" stroke="#141414" stroke-width="0.80"/>
<path d="M928.55,551.78 L938.27,546.89" stroke="#141414" stroke-width="0.80"/>
<path d="M929.31,553.30 L939.03,548.41" stroke="#141414" stroke-width="0.80"/>
<path d="M965.99,553.30 L956.27,548.41" stroke="#141414" stroke-width="0.80"/>
<path d="M966.75,551.78 L957.03,546.89" stroke="#141414" stroke-width="0.80"/>
</g>
<path d="M938.65,540.45 V548.25" stroke="#141414" stroke-width="0.80"/>
<path d="M956.65,540.45 V548.25" stroke="#141414" stroke-width="0.80"/>
<path d="M967.10,534.80 V553.90" stroke="#141414" stroke-width="0.85"/>
<rect x="969.10" y="536.80" width="34.90" height="15.10" stroke="#141414" stroke-width="0.70"/>
<rect x="979.85" y="542.05" width="13.40" height="4.60" stroke="#141414" stroke-width="1.05"/>
<clipPath id="c234"><rect x="969.10" y="536.80" width="34.90" height="15.10"/></clipPath>
<g clip-path="url(#c234)">
<path d="M968.21,535.40 L977.93,540.29" stroke="#141414" stroke-width="0.80"/>
<path d="M967.45,536.92 L977.17,541.81" stroke="#141414" stroke-width="0.80"/>
<path d="M1005.65,536.92 L995.93,541.81" stroke="#141414" stroke-width="0.80"/>
<path d="M1004.89,535.40 L995.17,540.29" stroke="#141414" stroke-width="0.80"/>
<path d="M967.45,551.78 L977.17,546.89" stroke="#141414" stroke-width="0.80"/>
<path d="M968.21,553.30 L977.93,548.41" stroke="#141414" stroke-width="0.80"/>
<path d="M1004.89,553.30 L995.17,548.41" stroke="#141414" stroke-width="0.80"/>
<path d="M1005.65,551.78 L995.93,546.89" stroke="#141414" stroke-width="0.80"/>
</g>
<path d="M977.55,540.45 V548.25" stroke="#141414" stroke-width="0.80"/>
<path d="M995.55,540.45 V548.25" stroke="#141414" stroke-width="0.80"/>
<path d="M830.00,553.90 H1005.50" stroke="#141414" stroke-width="0.85"/>
<rect x="794.10" y="555.90" width="34.90" height="15.10" stroke="#141414" stroke-width="0.70"/>
<rect x="804.85" y="561.15" width="13.40" height="4.60" stroke="#141414" stroke-width="1.05"/>
<clipPath id="c235"><rect x="794.10" y="555.90" width="34.90" height="15.10"/></clipPath>
<g clip-path="url(#c235)">
<path d="M793.21,554.50 L802.93,559.39" stroke="#141414" stroke-width="0.80"/>
<path d="M792.45,556.02 L802.17,560.91" stroke="#141414" stroke-width="0.80"/>
<path d="M830.65,556.02 L820.93,560.91" stroke="#141414" stroke-width="0.80"/>
<path d="M829.89,554.50 L820.17,559.39" stroke="#141414" stroke-width="0.80"/>
<path d="M792.45,570.88 L802.17,565.99" stroke="#141414" stroke-width="0.80"/>
<path d="M793.21,572.40 L802.93,567.51" stroke="#141414" stroke-width="0.80"/>
<path d="M829.89,572.40 L820.17,567.51" stroke="#141414" stroke-width="0.80"/>
<path d="M830.65,570.88 L820.93,565.99" stroke="#141414" stroke-width="0.80"/>
</g>
<path d="M802.55,559.55 V567.35" stroke="#141414" stroke-width="0.80"/>
<path d="M820.55,559.55 V567.35" stroke="#141414" stroke-width="0.80"/>
<path d="M831.00,553.90 V565.80" stroke="#141414" stroke-width="0.85"/>
<rect x="833.00" y="555.90" width="34.90" height="15.10" stroke="#141414" stroke-width="0.70"/>
<rect x="843.75" y="561.15" width="13.40" height="4.60" stroke="#141414" stroke-width="1.05"/>
<clipPath id="c236"><rect x="833.00" y="555.90" width="34.90" height="15.10"/></clipPath>
<g clip-path="url(#c236)">
<path d="M832.11,554.50 L841.83,559.39" stroke="#141414" stroke-width="0.80"/>
<path d="M831.35,556.02 L841.07,560.91" stroke="#141414" stroke-width="0.80"/>
<path d="M869.55,556.02 L859.83,560.91" stroke="#141414" stroke-width="0.80"/>
<path d="M868.79,554.50 L859.07,559.39" stroke="#141414" stroke-width="0.80"/>
<path d="M831.35,570.88 L841.07,565.99" stroke="#141414" stroke-width="0.80"/>
<path d="M832.11,572.40 L841.83,567.51" stroke="#141414" stroke-width="0.80"/>
<path d="M868.79,572.40 L859.07,567.51" stroke="#141414" stroke-width="0.80"/>
<path d="M869.55,570.88 L859.83,565.99" stroke="#141414" stroke-width="0.80"/>
</g>
<path d="M841.45,559.55 V567.35" stroke="#141414" stroke-width="0.80"/>
<path d="M859.45,559.55 V567.35" stroke="#141414" stroke-width="0.80"/>
<path d="M869.90,553.90 V565.80" stroke="#141414" stroke-width="0.85"/>
<rect x="871.90" y="555.90" width="34.90" height="15.10" stroke="#141414" stroke-width="0.70"/>
<rect x="882.65" y="561.15" width="13.40" height="4.60" stroke="#141414" stroke-width="1.05"/>
<clipPath id="c237"><rect x="871.90" y="555.90" width="34.90" height="15.10"/></clipPath>
<g clip-path="url(#c237)">
<path d="M871.01,554.50 L880.73,559.39" stroke="#141414" stroke-width="0.80"/>
<path d="M870.25,556.02 L879.97,560.91" stroke="#141414" stroke-width="0.80"/>
<path d="M908.45,556.02 L898.73,560.91" stroke="#141414" stroke-width="0.80"/>
<path d="M907.69,554.50 L897.97,559.39" stroke="#141414" stroke-width="0.80"/>
<path d="M870.25,570.88 L879.97,565.99" stroke="#141414" stroke-width="0.80"/>
<path d="M871.01,572.40 L880.73,567.51" stroke="#141414" stroke-width="0.80"/>
<path d="M907.69,572.40 L897.97,567.51" stroke="#141414" stroke-width="0.80"/>
<path d="M908.45,570.88 L898.73,565.99" stroke="#141414" stroke-width="0.80"/>
</g>
<path d="M880.35,559.55 V567.35" stroke="#141414" stroke-width="0.80"/>
<path d="M898.35,559.55 V567.35" stroke="#141414" stroke-width="0.80"/>
<path d="M908.80,553.90 V565.80" stroke="#141414" stroke-width="0.85"/>
<rect x="910.80" y="555.90" width="34.90" height="15.10" stroke="#141414" stroke-width="0.70"/>
<rect x="921.55" y="561.15" width="13.40" height="4.60" stroke="#141414" stroke-width="1.05"/>
<clipPath id="c238"><rect x="910.80" y="555.90" width="34.90" height="15.10"/></clipPath>
<g clip-path="url(#c238)">
<path d="M909.91,554.50 L919.63,559.39" stroke="#141414" stroke-width="0.80"/>
<path d="M909.15,556.02 L918.87,560.91" stroke="#141414" stroke-width="0.80"/>
<path d="M947.35,556.02 L937.63,560.91" stroke="#141414" stroke-width="0.80"/>
<path d="M946.59,554.50 L936.87,559.39" stroke="#141414" stroke-width="0.80"/>
<path d="M909.15,570.88 L918.87,565.99" stroke="#141414" stroke-width="0.80"/>
<path d="M909.91,572.40 L919.63,567.51" stroke="#141414" stroke-width="0.80"/>
<path d="M946.59,572.40 L936.87,567.51" stroke="#141414" stroke-width="0.80"/>
<path d="M947.35,570.88 L937.63,565.99" stroke="#141414" stroke-width="0.80"/>
</g>
<path d="M919.25,559.55 V567.35" stroke="#141414" stroke-width="0.80"/>
<path d="M937.25,559.55 V567.35" stroke="#141414" stroke-width="0.80"/>
<path d="M947.70,553.90 V565.80" stroke="#141414" stroke-width="0.85"/>
<rect x="949.70" y="555.90" width="34.90" height="15.10" stroke="#141414" stroke-width="0.70"/>
<rect x="960.45" y="561.15" width="13.40" height="4.60" stroke="#141414" stroke-width="1.05"/>
<clipPath id="c239"><rect x="949.70" y="555.90" width="34.90" height="15.10"/></clipPath>
<g clip-path="url(#c239)">
<path d="M948.81,554.50 L958.53,559.39" stroke="#141414" stroke-width="0.80"/>
<path d="M948.05,556.02 L957.77,560.91" stroke="#141414" stroke-width="0.80"/>
<path d="M986.25,556.02 L976.53,560.91" stroke="#141414" stroke-width="0.80"/>
<path d="M985.49,554.50 L975.77,559.39" stroke="#141414" stroke-width="0.80"/>
<path d="M948.05,570.88 L957.77,565.99" stroke="#141414" stroke-width="0.80"/>
<path d="M948.81,572.40 L958.53,567.51" stroke="#141414" stroke-width="0.80"/>
<path d="M985.49,572.40 L975.77,567.51" stroke="#141414" stroke-width="0.80"/>
<path d="M986.25,570.88 L976.53,565.99" stroke="#141414" stroke-width="0.80"/>
</g>
<path d="M958.15,559.55 V567.35" stroke="#141414" stroke-width="0.80"/>
<path d="M976.15,559.55 V567.35" stroke="#141414" stroke-width="0.80"/>
<path d="M986.60,553.90 V565.80" stroke="#141414" stroke-width="0.85"/>
<rect x="988.60" y="555.90" width="34.90" height="15.10" stroke="#141414" stroke-width="0.70"/>
<rect x="999.35" y="561.15" width="13.40" height="4.60" stroke="#141414" stroke-width="1.05"/>
<clipPath id="c240"><rect x="988.60" y="555.90" width="34.90" height="15.10"/></clipPath>
<g clip-path="url(#c240)">
<path d="M987.71,554.50 L997.43,559.39" stroke="#141414" stroke-width="0.80"/>
<path d="M986.95,556.02 L996.67,560.91" stroke="#141414" stroke-width="0.80"/>
<path d="M1025.15,556.02 L1015.43,560.91" stroke="#141414" stroke-width="0.80"/>
<path d="M1024.39,554.50 L1014.67,559.39" stroke="#141414" stroke-width="0.80"/>
<path d="M986.95,570.88 L996.67,565.99" stroke="#141414" stroke-width="0.80"/>
<path d="M987.71,572.40 L997.43,567.51" stroke="#141414" stroke-width="0.80"/>
<path d="M1024.39,572.40 L1014.67,567.51" stroke="#141414" stroke-width="0.80"/>
<path d="M1025.15,570.88 L1015.43,565.99" stroke="#141414" stroke-width="0.80"/>
</g>
<path d="M997.05,559.55 V567.35" stroke="#141414" stroke-width="0.80"/>
<path d="M1015.05,559.55 V567.35" stroke="#141414" stroke-width="0.80"/>
</g>
<path d="M830.00,391.00 V389.25 H837.65 V391.00" stroke="#141414" stroke-width="1.0"/>
<path d="M863.15,391.00 V389.25 H876.55 V391.00" stroke="#141414" stroke-width="1.0"/>
<path d="M902.05,391.00 V389.25 H915.45 V391.00" stroke="#141414" stroke-width="1.0"/>
<path d="M940.95,391.00 V389.25 H954.35 V391.00" stroke="#141414" stroke-width="1.0"/>
<path d="M979.85,391.00 V389.25 H993.25 V391.00" stroke="#141414" stroke-width="1.0"/>
<clipPath id="c241"><rect x="1033.60" y="391.30" width="176.20" height="174.60"/></clipPath>
<g clip-path="url(#c241)">
<path d="M987.00,391.30 V401.60" stroke="#141414" stroke-width="0.90"/>
<path d="M1025.20,391.30 V401.60" stroke="#141414" stroke-width="0.90"/>
<rect x="989.40" y="384.80" width="33.40" height="14.30" stroke="#141414" stroke-width="0.90"/>
<path d="M1045.50,391.30 V401.60" stroke="#141414" stroke-width="0.90"/>
<path d="M1083.70,391.30 V401.60" stroke="#141414" stroke-width="0.90"/>
<rect x="1047.90" y="384.80" width="33.40" height="14.30" stroke="#141414" stroke-width="0.90"/>
<path d="M1104.00,391.30 V401.60" stroke="#141414" stroke-width="0.90"/>
<path d="M1142.20,391.30 V401.60" stroke="#141414" stroke-width="0.90"/>
<rect x="1106.40" y="384.80" width="33.40" height="14.30" stroke="#141414" stroke-width="0.90"/>
<path d="M1162.50,391.30 V401.60" stroke="#141414" stroke-width="0.90"/>
<path d="M1200.70,391.30 V401.60" stroke="#141414" stroke-width="0.90"/>
<rect x="1164.90" y="384.80" width="33.40" height="14.30" stroke="#141414" stroke-width="0.90"/>
<path d="M1033.60,401.60 H1209.80" stroke="#141414" stroke-width="0.90"/>
<path d="M956.90,401.60 V420.80" stroke="#141414" stroke-width="0.90"/>
<path d="M995.10,401.60 V420.80" stroke="#141414" stroke-width="0.90"/>
<rect x="959.30" y="404.00" width="33.40" height="14.30" stroke="#141414" stroke-width="0.90"/>
<path d="M1015.40,401.60 V420.80" stroke="#141414" stroke-width="0.90"/>
<path d="M1053.60,401.60 V420.80" stroke="#141414" stroke-width="0.90"/>
<rect x="1017.80" y="404.00" width="33.40" height="14.30" stroke="#141414" stroke-width="0.90"/>
<path d="M1073.90,401.60 V420.80" stroke="#141414" stroke-width="0.90"/>
<path d="M1112.10,401.60 V420.80" stroke="#141414" stroke-width="0.90"/>
<rect x="1076.30" y="404.00" width="33.40" height="14.30" stroke="#141414" stroke-width="0.90"/>
<path d="M1132.40,401.60 V420.80" stroke="#141414" stroke-width="0.90"/>
<path d="M1170.60,401.60 V420.80" stroke="#141414" stroke-width="0.90"/>
<rect x="1134.80" y="404.00" width="33.40" height="14.30" stroke="#141414" stroke-width="0.90"/>
<path d="M1190.90,401.60 V420.80" stroke="#141414" stroke-width="0.90"/>
<path d="M1229.10,401.60 V420.80" stroke="#141414" stroke-width="0.90"/>
<rect x="1193.30" y="404.00" width="33.40" height="14.30" stroke="#141414" stroke-width="0.90"/>
<path d="M1033.60,420.80 H1209.80" stroke="#141414" stroke-width="0.90"/>
<path d="M987.00,420.80 V440.00" stroke="#141414" stroke-width="0.90"/>
<path d="M1025.20,420.80 V440.00" stroke="#141414" stroke-width="0.90"/>
<rect x="989.40" y="423.20" width="33.40" height="14.30" stroke="#141414" stroke-width="0.90"/>
<path d="M1045.50,420.80 V440.00" stroke="#141414" stroke-width="0.90"/>
<path d="M1083.70,420.80 V440.00" stroke="#141414" stroke-width="0.90"/>
<rect x="1047.90" y="423.20" width="33.40" height="14.30" stroke="#141414" stroke-width="0.90"/>
<path d="M1104.00,420.80 V440.00" stroke="#141414" stroke-width="0.90"/>
<path d="M1142.20,420.80 V440.00" stroke="#141414" stroke-width="0.90"/>
<rect x="1106.40" y="423.20" width="33.40" height="14.30" stroke="#141414" stroke-width="0.90"/>
<path d="M1162.50,420.80 V440.00" stroke="#141414" stroke-width="0.90"/>
<path d="M1200.70,420.80 V440.00" stroke="#141414" stroke-width="0.90"/>
<rect x="1164.90" y="423.20" width="33.40" height="14.30" stroke="#141414" stroke-width="0.90"/>
<path d="M1033.60,440.00 H1209.80" stroke="#141414" stroke-width="0.90"/>
<path d="M956.90,440.00 V459.20" stroke="#141414" stroke-width="0.90"/>
<path d="M995.10,440.00 V459.20" stroke="#141414" stroke-width="0.90"/>
<rect x="959.30" y="442.40" width="33.40" height="14.30" stroke="#141414" stroke-width="0.90"/>
<path d="M1015.40,440.00 V459.20" stroke="#141414" stroke-width="0.90"/>
<path d="M1053.60,440.00 V459.20" stroke="#141414" stroke-width="0.90"/>
<rect x="1017.80" y="442.40" width="33.40" height="14.30" stroke="#141414" stroke-width="0.90"/>
<path d="M1073.90,440.00 V459.20" stroke="#141414" stroke-width="0.90"/>
<path d="M1112.10,440.00 V459.20" stroke="#141414" stroke-width="0.90"/>
<rect x="1076.30" y="442.40" width="33.40" height="14.30" stroke="#141414" stroke-width="0.90"/>
<path d="M1132.40,440.00 V459.20" stroke="#141414" stroke-width="0.90"/>
<path d="M1170.60,440.00 V459.20" stroke="#141414" stroke-width="0.90"/>
<rect x="1134.80" y="442.40" width="33.40" height="14.30" stroke="#141414" stroke-width="0.90"/>
<path d="M1190.90,440.00 V459.20" stroke="#141414" stroke-width="0.90"/>
<path d="M1229.10,440.00 V459.20" stroke="#141414" stroke-width="0.90"/>
<rect x="1193.30" y="442.40" width="33.40" height="14.30" stroke="#141414" stroke-width="0.90"/>
<path d="M1033.60,459.20 H1209.80" stroke="#141414" stroke-width="0.90"/>
<path d="M987.00,459.20 V478.40" stroke="#141414" stroke-width="0.90"/>
<path d="M1025.20,459.20 V478.40" stroke="#141414" stroke-width="0.90"/>
<rect x="989.40" y="461.60" width="33.40" height="14.30" stroke="#141414" stroke-width="0.90"/>
<path d="M1045.50,459.20 V478.40" stroke="#141414" stroke-width="0.90"/>
<path d="M1083.70,459.20 V478.40" stroke="#141414" stroke-width="0.90"/>
<rect x="1047.90" y="461.60" width="33.40" height="14.30" stroke="#141414" stroke-width="0.90"/>
<path d="M1104.00,459.20 V478.40" stroke="#141414" stroke-width="0.90"/>
<path d="M1142.20,459.20 V478.40" stroke="#141414" stroke-width="0.90"/>
<rect x="1106.40" y="461.60" width="33.40" height="14.30" stroke="#141414" stroke-width="0.90"/>
<path d="M1162.50,459.20 V478.40" stroke="#141414" stroke-width="0.90"/>
<path d="M1200.70,459.20 V478.40" stroke="#141414" stroke-width="0.90"/>
<rect x="1164.90" y="461.60" width="33.40" height="14.30" stroke="#141414" stroke-width="0.90"/>
<path d="M1033.60,478.40 H1209.80" stroke="#141414" stroke-width="0.90"/>
<path d="M956.90,478.40 V497.60" stroke="#141414" stroke-width="0.90"/>
<path d="M995.10,478.40 V497.60" stroke="#141414" stroke-width="0.90"/>
<rect x="959.30" y="480.80" width="33.40" height="14.30" stroke="#141414" stroke-width="0.90"/>
<path d="M1015.40,478.40 V497.60" stroke="#141414" stroke-width="0.90"/>
<path d="M1053.60,478.40 V497.60" stroke="#141414" stroke-width="0.90"/>
<rect x="1017.80" y="480.80" width="33.40" height="14.30" stroke="#141414" stroke-width="0.90"/>
<path d="M1073.90,478.40 V497.60" stroke="#141414" stroke-width="0.90"/>
<path d="M1112.10,478.40 V497.60" stroke="#141414" stroke-width="0.90"/>
<rect x="1076.30" y="480.80" width="33.40" height="14.30" stroke="#141414" stroke-width="0.90"/>
<path d="M1132.40,478.40 V497.60" stroke="#141414" stroke-width="0.90"/>
<path d="M1170.60,478.40 V497.60" stroke="#141414" stroke-width="0.90"/>
<rect x="1134.80" y="480.80" width="33.40" height="14.30" stroke="#141414" stroke-width="0.90"/>
<path d="M1190.90,478.40 V497.60" stroke="#141414" stroke-width="0.90"/>
<path d="M1229.10,478.40 V497.60" stroke="#141414" stroke-width="0.90"/>
<rect x="1193.30" y="480.80" width="33.40" height="14.30" stroke="#141414" stroke-width="0.90"/>
<path d="M1033.60,497.60 H1209.80" stroke="#141414" stroke-width="0.90"/>
<path d="M987.00,497.60 V516.80" stroke="#141414" stroke-width="0.90"/>
<path d="M1025.20,497.60 V516.80" stroke="#141414" stroke-width="0.90"/>
<rect x="989.40" y="500.00" width="33.40" height="14.30" stroke="#141414" stroke-width="0.90"/>
<path d="M1045.50,497.60 V516.80" stroke="#141414" stroke-width="0.90"/>
<path d="M1083.70,497.60 V516.80" stroke="#141414" stroke-width="0.90"/>
<rect x="1047.90" y="500.00" width="33.40" height="14.30" stroke="#141414" stroke-width="0.90"/>
<path d="M1104.00,497.60 V516.80" stroke="#141414" stroke-width="0.90"/>
<path d="M1142.20,497.60 V516.80" stroke="#141414" stroke-width="0.90"/>
<rect x="1106.40" y="500.00" width="33.40" height="14.30" stroke="#141414" stroke-width="0.90"/>
<path d="M1162.50,497.60 V516.80" stroke="#141414" stroke-width="0.90"/>
<path d="M1200.70,497.60 V516.80" stroke="#141414" stroke-width="0.90"/>
<rect x="1164.90" y="500.00" width="33.40" height="14.30" stroke="#141414" stroke-width="0.90"/>
<path d="M1033.60,516.80 H1209.80" stroke="#141414" stroke-width="0.90"/>
<path d="M956.90,516.80 V536.00" stroke="#141414" stroke-width="0.90"/>
<path d="M995.10,516.80 V536.00" stroke="#141414" stroke-width="0.90"/>
<rect x="959.30" y="519.20" width="33.40" height="14.30" stroke="#141414" stroke-width="0.90"/>
<path d="M1015.40,516.80 V536.00" stroke="#141414" stroke-width="0.90"/>
<path d="M1053.60,516.80 V536.00" stroke="#141414" stroke-width="0.90"/>
<rect x="1017.80" y="519.20" width="33.40" height="14.30" stroke="#141414" stroke-width="0.90"/>
<path d="M1073.90,516.80 V536.00" stroke="#141414" stroke-width="0.90"/>
<path d="M1112.10,516.80 V536.00" stroke="#141414" stroke-width="0.90"/>
<rect x="1076.30" y="519.20" width="33.40" height="14.30" stroke="#141414" stroke-width="0.90"/>
<path d="M1132.40,516.80 V536.00" stroke="#141414" stroke-width="0.90"/>
<path d="M1170.60,516.80 V536.00" stroke="#141414" stroke-width="0.90"/>
<rect x="1134.80" y="519.20" width="33.40" height="14.30" stroke="#141414" stroke-width="0.90"/>
<path d="M1190.90,516.80 V536.00" stroke="#141414" stroke-width="0.90"/>
<path d="M1229.10,516.80 V536.00" stroke="#141414" stroke-width="0.90"/>
<rect x="1193.30" y="519.20" width="33.40" height="14.30" stroke="#141414" stroke-width="0.90"/>
<path d="M1033.60,536.00 H1209.80" stroke="#141414" stroke-width="0.90"/>
<path d="M987.00,536.00 V555.20" stroke="#141414" stroke-width="0.90"/>
<path d="M1025.20,536.00 V555.20" stroke="#141414" stroke-width="0.90"/>
<rect x="989.40" y="538.40" width="33.40" height="14.30" stroke="#141414" stroke-width="0.90"/>
<path d="M1045.50,536.00 V555.20" stroke="#141414" stroke-width="0.90"/>
<path d="M1083.70,536.00 V555.20" stroke="#141414" stroke-width="0.90"/>
<rect x="1047.90" y="538.40" width="33.40" height="14.30" stroke="#141414" stroke-width="0.90"/>
<path d="M1104.00,536.00 V555.20" stroke="#141414" stroke-width="0.90"/>
<path d="M1142.20,536.00 V555.20" stroke="#141414" stroke-width="0.90"/>
<rect x="1106.40" y="538.40" width="33.40" height="14.30" stroke="#141414" stroke-width="0.90"/>
<path d="M1162.50,536.00 V555.20" stroke="#141414" stroke-width="0.90"/>
<path d="M1200.70,536.00 V555.20" stroke="#141414" stroke-width="0.90"/>
<rect x="1164.90" y="538.40" width="33.40" height="14.30" stroke="#141414" stroke-width="0.90"/>
<path d="M1033.60,555.20 H1209.80" stroke="#141414" stroke-width="0.90"/>
<path d="M956.90,555.20 V565.90" stroke="#141414" stroke-width="0.90"/>
<path d="M995.10,555.20 V565.90" stroke="#141414" stroke-width="0.90"/>
<rect x="959.30" y="557.60" width="33.40" height="14.30" stroke="#141414" stroke-width="0.90"/>
<path d="M1015.40,555.20 V565.90" stroke="#141414" stroke-width="0.90"/>
<path d="M1053.60,555.20 V565.90" stroke="#141414" stroke-width="0.90"/>
<rect x="1017.80" y="557.60" width="33.40" height="14.30" stroke="#141414" stroke-width="0.90"/>
<path d="M1073.90,555.20 V565.90" stroke="#141414" stroke-width="0.90"/>
<path d="M1112.10,555.20 V565.90" stroke="#141414" stroke-width="0.90"/>
<rect x="1076.30" y="557.60" width="33.40" height="14.30" stroke="#141414" stroke-width="0.90"/>
<path d="M1132.40,555.20 V565.90" stroke="#141414" stroke-width="0.90"/>
<path d="M1170.60,555.20 V565.90" stroke="#141414" stroke-width="0.90"/>
<rect x="1134.80" y="557.60" width="33.40" height="14.30" stroke="#141414" stroke-width="0.90"/>
<path d="M1190.90,555.20 V565.90" stroke="#141414" stroke-width="0.90"/>
<path d="M1229.10,555.20 V565.90" stroke="#141414" stroke-width="0.90"/>
<rect x="1193.30" y="557.60" width="33.40" height="14.30" stroke="#141414" stroke-width="0.90"/>
</g>
<rect x="12.0" y="581.0" width="71.0" height="71.0" fill="#d2d2d2" stroke="none"/>
<polygon points="16.5,600.7 32.4,593.3 78.5,615.5 62.0,623.4" fill="#fff" stroke="#1c1c1c" stroke-width="1.00" stroke-linejoin="round"/>
<polygon points="16.5,600.7 62.0,623.4 62.0,641.6 16.5,618.9" fill="#fff" stroke="#1c1c1c" stroke-width="1.00" stroke-linejoin="round"/>
<polygon points="62.0,623.4 78.5,615.5 78.5,633.7 62.0,641.6" fill="#fff" stroke="#1c1c1c" stroke-width="1.00" stroke-linejoin="round"/>
<polygon points="18.3,604.3 60.2,625.2 60.2,638.0 18.3,617.1" fill="#fff" stroke="#1c1c1c" stroke-width="0.80" stroke-linejoin="round"/>
<clipPath id="k242"><polygon points="18.3,604.3 60.2,625.2 60.2,638.0 18.3,617.1"/></clipPath><g clip-path="url(#k242)">
<polyline points="20.4,616.4 22.4,615.9 24.5,615.6 26.5,615.4 28.6,615.4 30.6,615.5 32.7,615.8 34.7,616.3 36.8,616.9 38.8,617.7 40.9,618.6 42.9,619.7 44.9,621.0 47.0,622.4 49.0,624.0 51.1,625.7 53.1,627.6 55.2,629.7 57.2,631.9 59.3,634.3 61.3,636.9" stroke="#1c1c1c" stroke-width="2.3"/>
<polyline points="20.4,616.4 22.4,615.9 24.5,615.6 26.5,615.4 28.6,615.4 30.6,615.5 32.7,615.8 34.7,616.3 36.8,616.9 38.8,617.7 40.9,618.6 42.9,619.7 44.9,621.0 47.0,622.4 49.0,624.0 51.1,625.7 53.1,627.6 55.2,629.7 57.2,631.9 59.3,634.3 61.3,636.9" stroke="#f4f4f4" stroke-width="0.8"/>
<polyline points="18.8,604.7 20.8,607.3 22.9,609.7 24.9,611.9 27.0,614.0 29.0,615.9 31.1,617.6 33.1,619.2 35.2,620.6 37.2,621.9 39.2,623.0 41.3,623.9 43.3,624.7 45.4,625.3 47.4,625.8 49.5,626.1 51.5,626.2 53.6,626.2 55.6,626.0 57.7,625.7 59.7,625.2" stroke="#1c1c1c" stroke-width="2.3"/>
<polyline points="18.8,604.7 20.8,607.3 22.9,609.7 24.9,611.9 27.0,614.0 29.0,615.9 31.1,617.6 33.1,619.2 35.2,620.6 37.2,621.9 39.2,623.0 41.3,623.9 43.3,624.7 45.4,625.3 47.4,625.8 49.5,626.1 51.5,626.2 53.6,626.2 55.6,626.0 57.7,625.7 59.7,625.2" stroke="#f4f4f4" stroke-width="0.8"/>
</g>
<polygon points="18.3,604.3 60.2,625.2 60.2,638.0 18.3,617.1" stroke="#1c1c1c" stroke-width="0.8"/>
<line x1="18.3" y1="617.1" x2="27.3" y2="612.9" stroke="#1c1c1c" stroke-width="0.7"/>
<rect x="216.0" y="581.0" width="71.0" height="71.0" fill="#d2d2d2" stroke="none"/>
<polygon points="221.3,600.7 237.2,593.3 283.3,615.5 266.8,623.4" fill="#fff" stroke="#1c1c1c" stroke-width="1.00" stroke-linejoin="round"/>
<polygon points="221.3,600.7 266.8,623.4 266.8,641.6 221.3,618.9" fill="#fff" stroke="#1c1c1c" stroke-width="1.00" stroke-linejoin="round"/>
<polygon points="266.8,623.4 283.3,615.5 283.3,633.7 266.8,641.6" fill="#fff" stroke="#1c1c1c" stroke-width="1.00" stroke-linejoin="round"/>
<polygon points="223.1,604.3 265.0,625.2 265.0,638.0 223.1,617.1" fill="#fff" stroke="#1c1c1c" stroke-width="0.80" stroke-linejoin="round"/>
<clipPath id="k243"><polygon points="223.1,604.3 265.0,625.2 265.0,638.0 223.1,617.1"/></clipPath><g clip-path="url(#k243)">
<polyline points="225.2,616.4 227.2,615.9 229.3,615.6 231.3,615.4 233.4,615.4 235.4,615.5 237.5,615.8 239.5,616.3 241.6,616.9 243.6,617.7 245.7,618.6 247.7,619.7 249.7,621.0 251.8,622.4 253.8,624.0 255.9,625.7 257.9,627.6 260.0,629.7 262.0,631.9 264.1,634.3 266.1,636.9" stroke="#1c1c1c" stroke-width="2.3"/>
<polyline points="225.2,616.4 227.2,615.9 229.3,615.6 231.3,615.4 233.4,615.4 235.4,615.5 237.5,615.8 239.5,616.3 241.6,616.9 243.6,617.7 245.7,618.6 247.7,619.7 249.7,621.0 251.8,622.4 253.8,624.0 255.9,625.7 257.9,627.6 260.0,629.7 262.0,631.9 264.1,634.3 266.1,636.9" stroke="#f4f4f4" stroke-width="0.8"/>
<polyline points="223.6,604.7 225.6,607.3 227.7,609.7 229.7,611.9 231.8,614.0 233.8,615.9 235.9,617.6 237.9,619.2 240.0,620.6 242.0,621.9 244.1,623.0 246.1,623.9 248.1,624.7 250.2,625.3 252.2,625.8 254.3,626.1 256.3,626.2 258.4,626.2 260.4,626.0 262.5,625.7 264.5,625.2" stroke="#1c1c1c" stroke-width="2.3"/>
<polyline points="223.6,604.7 225.6,607.3 227.7,609.7 229.7,611.9 231.8,614.0 233.8,615.9 235.9,617.6 237.9,619.2 240.0,620.6 242.0,621.9 244.1,623.0 246.1,623.9 248.1,624.7 250.2,625.3 252.2,625.8 254.3,626.1 256.3,626.2 258.4,626.2 260.4,626.0 262.5,625.7 264.5,625.2" stroke="#f4f4f4" stroke-width="0.8"/>
</g>
<polygon points="223.1,604.3 265.0,625.2 265.0,638.0 223.1,617.1" stroke="#1c1c1c" stroke-width="0.8"/>
<line x1="223.1" y1="617.1" x2="232.1" y2="612.9" stroke="#1c1c1c" stroke-width="0.7"/>
<rect x="421.0" y="581.0" width="71.0" height="71.0" fill="#d2d2d2" stroke="none"/>
<polygon points="443.0,591.5 455.5,585.8 470.9,593.2 458.4,598.9" fill="#fff" stroke="#1c1c1c" stroke-width="1.00" stroke-linejoin="round"/>
<polygon points="443.0,591.5 458.4,598.9 458.4,646.7 443.0,639.3" fill="#fff" stroke="#1c1c1c" stroke-width="1.10" stroke-linejoin="round"/>
<polygon points="458.4,598.9 470.9,593.2 470.9,641.0 458.4,646.7" fill="#fff" stroke="#1c1c1c" stroke-width="1.00" stroke-linejoin="round"/>
<polygon points="444.5,594.2 456.9,600.1 456.9,644.0 444.5,638.1" fill="#fff" stroke="#1c1c1c" stroke-width="0.80" stroke-linejoin="round"/>
<line x1="445.1" y1="637.1" x2="456.3" y2="601.1" stroke="#1c1c1c" stroke-width="2.0"/>
<line x1="445.1" y1="637.1" x2="456.3" y2="601.1" stroke="#ddd" stroke-width="0.7" stroke-dasharray="1.2 1"/>
<line x1="444.5" y1="638.1" x2="456.0" y2="632.9" stroke="#1c1c1c" stroke-width="0.8"/>
<rect x="625.0" y="581.0" width="71.0" height="71.0" fill="#d2d2d2" stroke="none"/>
<polygon points="636.6,607.4 652.5,600.6 683.3,615.4 667.3,622.8" fill="#fff" stroke="#1c1c1c" stroke-width="1.00" stroke-linejoin="round"/>
<polygon points="636.6,607.4 667.3,622.8 667.3,641.5 636.6,626.8" fill="#fff" stroke="#1c1c1c" stroke-width="1.00" stroke-linejoin="round"/>
<polygon points="667.3,622.8 683.3,615.4 683.3,634.2 667.3,641.5" fill="#fff" stroke="#1c1c1c" stroke-width="1.00" stroke-linejoin="round"/>
<polygon points="638.7,611.2 665.2,624.3 665.2,637.8 638.7,625.1" fill="#fff" stroke="#1c1c1c" stroke-width="0.80" stroke-linejoin="round"/>
<line x1="639.4" y1="612.7" x2="664.5" y2="636.4" stroke="#1c1c1c" stroke-width="2.3"/>
<line x1="639.4" y1="612.7" x2="664.5" y2="636.4" stroke="#f4f4f4" stroke-width="0.8"/>
<line x1="639.4" y1="624.3" x2="664.5" y2="625.2" stroke="#1c1c1c" stroke-width="2.3"/>
<line x1="639.4" y1="624.3" x2="664.5" y2="625.2" stroke="#f4f4f4" stroke-width="0.8"/>
<polygon points="638.7,611.2 665.2,624.3 665.2,637.8 638.7,625.1" stroke="#1c1c1c" stroke-width="0.8"/>
<line x1="638.7" y1="625.1" x2="647.7" y2="620.9" stroke="#1c1c1c" stroke-width="0.7"/>
<rect x="830.0" y="581.0" width="71.0" height="71.0" fill="#d2d2d2" stroke="none"/>
<polygon points="841.0,605.1 857.0,598.3 888.8,613.7 872.6,621.1" fill="#fff" stroke="#1c1c1c" stroke-width="1.00" stroke-linejoin="round"/>
<polygon points="841.0,605.1 872.6,621.1 872.6,641.5 841.0,626.2" fill="#fff" stroke="#1c1c1c" stroke-width="1.00" stroke-linejoin="round"/>
<polygon points="872.6,621.1 888.8,613.7 888.8,634.2 872.6,641.5" fill="#fff" stroke="#1c1c1c" stroke-width="1.00" stroke-linejoin="round"/>
<polygon points="843.2,609.0 870.4,622.6 870.4,637.8 843.2,624.5" fill="#fff" stroke="#1c1c1c" stroke-width="0.80" stroke-linejoin="round"/>
<polygon points="850.5,617.4 865.6,625.0 865.6,630.7 850.5,623.3" fill="#fff" stroke="#1c1c1c" stroke-width="1.30" stroke-linejoin="round"/>
<line x1="843.2" y1="609.0" x2="850.5" y2="617.4" stroke="#1c1c1c" stroke-width="1.3"/>
<line x1="870.4" y1="622.6" x2="865.6" y2="625.0" stroke="#1c1c1c" stroke-width="1.3"/>
<line x1="870.4" y1="637.8" x2="865.6" y2="630.7" stroke="#1c1c1c" stroke-width="1.3"/>
<line x1="843.2" y1="624.5" x2="850.5" y2="623.3" stroke="#1c1c1c" stroke-width="1.3"/>
<polygon points="845.4,612.0 868.2,623.4 868.2,634.8 845.4,623.7" stroke="#1c1c1c" stroke-width="0.6"/>
<rect x="1040.0" y="581.0" width="70.0" height="71.0" fill="#d2d2d2" stroke="none"/>
<polygon points="1051.9,608.0 1067.6,600.8 1098.4,615.3 1082.2,622.6" fill="#fff" stroke="#1c1c1c" stroke-width="1.00" stroke-linejoin="round"/>
<polygon points="1051.9,608.0 1082.2,622.6 1082.2,641.8 1051.9,627.0" fill="#fff" stroke="#1c1c1c" stroke-width="1.00" stroke-linejoin="round"/>
<polygon points="1082.2,622.6 1098.4,615.3 1098.4,634.4 1082.2,641.8" fill="#fff" stroke="#1c1c1c" stroke-width="1.00" stroke-linejoin="round"/>
<polygon points="1054.0,612.3 1080.4,625.0 1080.4,637.7 1054.0,624.8" fill="#fff" stroke="#1c1c1c" stroke-width="1.00" stroke-linejoin="round"/>
<line x1="1054.0" y1="624.8" x2="1068.0" y2="618.2" stroke="#1c1c1c" stroke-width="0.8"/>
<rect x="216.0" y="667.0" width="71.0" height="71.0" fill="#d2d2d2" stroke="none"/>
<polygon points="227.9,693.6 243.6,686.4 274.4,700.9 258.2,708.2" fill="#fff" stroke="#1c1c1c" stroke-width="1.00" stroke-linejoin="round"/>
<polygon points="227.9,693.6 258.2,708.2 258.2,727.4 227.9,712.6" fill="#fff" stroke="#1c1c1c" stroke-width="1.00" stroke-linejoin="round"/>
<polygon points="258.2,708.2 274.4,700.9 274.4,720.0 258.2,727.4" fill="#fff" stroke="#1c1c1c" stroke-width="1.00" stroke-linejoin="round"/>
<polygon points="230.0,697.9 256.4,710.6 256.4,723.3 230.0,710.4" fill="#fff" stroke="#1c1c1c" stroke-width="1.00" stroke-linejoin="round"/>
<line x1="230.0" y1="710.4" x2="244.0" y2="703.8" stroke="#1c1c1c" stroke-width="0.8"/>
<rect x="625.0" y="667.0" width="71.0" height="71.0" fill="#d2d2d2" stroke="none"/>
<polygon points="636.3,693.6 652.0,686.4 682.8,700.9 666.6,708.2" fill="#fff" stroke="#1c1c1c" stroke-width="1.00" stroke-linejoin="round"/>
<polygon points="636.3,693.6 666.6,708.2 666.6,727.4 636.3,712.6" fill="#fff" stroke="#1c1c1c" stroke-width="1.00" stroke-linejoin="round"/>
<polygon points="666.6,708.2 682.8,700.9 682.8,720.0 666.6,727.4" fill="#fff" stroke="#1c1c1c" stroke-width="1.00" stroke-linejoin="round"/>
<polygon points="638.4,697.9 664.8,710.6 664.8,723.3 638.4,710.4" fill="#fff" stroke="#1c1c1c" stroke-width="1.00" stroke-linejoin="round"/>
<line x1="638.4" y1="710.4" x2="652.4" y2="703.8" stroke="#1c1c1c" stroke-width="0.8"/>
<rect x="830.0" y="667.0" width="71.0" height="71.0" fill="#d2d2d2" stroke="none"/>
<polygon points="840.9,693.6 856.6,686.4 887.4,700.9 871.2,708.2" fill="#fff" stroke="#1c1c1c" stroke-width="1.00" stroke-linejoin="round"/>
<polygon points="840.9,693.6 871.2,708.2 871.2,727.4 840.9,712.6" fill="#fff" stroke="#1c1c1c" stroke-width="1.00" stroke-linejoin="round"/>
<polygon points="871.2,708.2 887.4,700.9 887.4,720.0 871.2,727.4" fill="#fff" stroke="#1c1c1c" stroke-width="1.00" stroke-linejoin="round"/>
<polygon points="843.0,697.9 869.4,710.6 869.4,723.3 843.0,710.4" fill="#fff" stroke="#1c1c1c" stroke-width="1.00" stroke-linejoin="round"/>
<line x1="843.0" y1="710.4" x2="857.0" y2="703.8" stroke="#1c1c1c" stroke-width="0.8"/>
</svg>
</body></html>
